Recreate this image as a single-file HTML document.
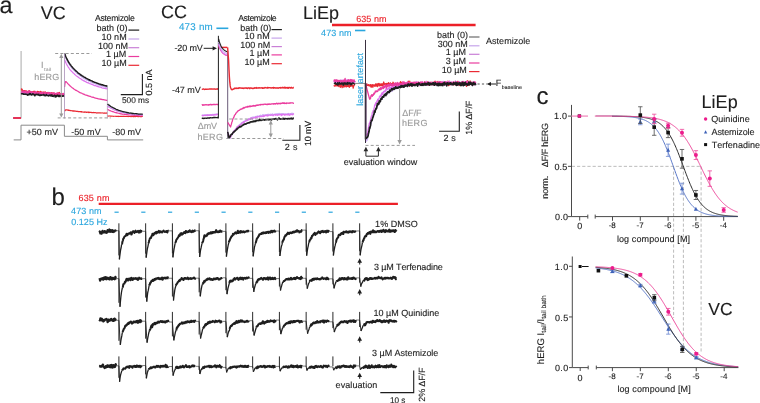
<!DOCTYPE html>
<html><head><meta charset="utf-8"><style>
html,body{margin:0;padding:0;background:#fff;width:760px;height:403px;overflow:hidden}
svg{display:block;will-change:transform}
text{font-family:"Liberation Sans",sans-serif;text-rendering:geometricPrecision;font-kerning:none;stroke-width:0.12px}
</style></head><body>
<svg width="760" height="403" viewBox="0 0 760 403" font-family="Liberation Sans, sans-serif">
<rect width="760" height="403" fill="#fff"/>
<text x="-0.45" y="13.3" font-size="23.4" fill="#1e1e1e" stroke="#1e1e1e">a</text>
<text x="40.72" y="18.75" font-size="18" fill="#1e1e1e" stroke="#1e1e1e">VC</text>
<text x="94.98" y="21.3" font-size="8.7" fill="#1e1e1e" stroke="#1e1e1e" letter-spacing="-0.3">Astemizole</text>
<text x="96.54" y="30.9" font-size="9" fill="#1e1e1e" stroke="#1e1e1e">bath (0)</text>
<line x1="128.4" y1="30.1" x2="139.2" y2="30.1" stroke="#1e1e1e" stroke-width="1.2"/>
<text x="101.62" y="39.8" font-size="9" fill="#1e1e1e" stroke="#1e1e1e">10 nM</text>
<line x1="128.4" y1="39" x2="139.2" y2="39" stroke="#c6a4ea" stroke-width="1.2"/>
<text x="97.92" y="48.5" font-size="9" fill="#1e1e1e" stroke="#1e1e1e">100 nM</text>
<line x1="128.4" y1="47.7" x2="139.2" y2="47.7" stroke="#c97fd6" stroke-width="1.2"/>
<text x="105.95" y="57.3" font-size="9" fill="#1e1e1e" stroke="#1e1e1e">1 µM</text>
<line x1="128.4" y1="56.5" x2="139.2" y2="56.5" stroke="#ea3c9e" stroke-width="1.2"/>
<text x="101.54" y="66.1" font-size="9" fill="#1e1e1e" stroke="#1e1e1e">10 µM</text>
<line x1="128.4" y1="65.3" x2="139.2" y2="65.3" stroke="#ea2a34" stroke-width="1.2"/>
<polyline points="13.7,139.9 21,139.9 21,125.2 64.4,125.2 64.4,136.3 107.4,136.3 107.4,139.9 143.2,139.9" fill="none" stroke="#8a8a8a" stroke-width="1" stroke-linejoin="miter"/>
<text x="26.56" y="134.6" font-size="9" fill="#1e1e1e" stroke="#1e1e1e" letter-spacing="0.02">+50 mV</text>
<text x="71.2" y="134.6" font-size="9" fill="#1e1e1e" stroke="#1e1e1e" letter-spacing="0.09">-50 mV</text>
<text x="112.2" y="134.6" font-size="9" fill="#1e1e1e" stroke="#1e1e1e" letter-spacing="-0.03">-80 mV</text>
<line x1="21.1" y1="51" x2="21.1" y2="118.4" stroke="#bdbdbd" stroke-width="1.3"/>
<line x1="13.2" y1="118" x2="21" y2="118" stroke="#1e1e1e" stroke-width="1.4"/>
<line x1="13.2" y1="118" x2="21" y2="118" stroke="#de74ee" stroke-width="1.4"/>
<line x1="13.2" y1="118" x2="21" y2="118" stroke="#ea3c9e" stroke-width="1.4"/>
<line x1="13.2" y1="118" x2="21" y2="118" stroke="#ea2a34" stroke-width="1.4"/>
<polyline points="21.3,93 21.8,93.16 22.3,92.94 22.8,92.69 23.3,92.92 23.8,92.7 24.3,93.21 24.8,93.81 25.3,93.02 25.8,92.99 26.3,93.52 26.8,93.49 27.3,93.41 27.8,92.97 28.3,93.41 28.8,93.77 29.3,92.88 29.8,93.31 30.3,92.69 30.8,92.99 31.3,92.78 31.8,93.53 32.3,93.09 32.8,93.82 33.3,93.8 33.8,93.67 34.3,92.65 34.8,93.57 35.3,93.82 35.8,93.93 36.3,93.22 36.8,93.72 37.3,93.53 37.8,93.63 38.3,94.51 38.8,93.69 39.3,94.07 39.8,94.52 40.3,93.89 40.8,94.13 41.3,94.26 41.8,94.27 42.3,93.72 42.8,94.33 43.3,94.94 43.8,93.66 44.3,94.78 44.8,94.47 45.3,94.16 45.8,95.38 46.3,94.85 46.8,94 47.3,94.61 47.8,94.86 48.3,94.55 48.8,94.97 49.3,94.66 49.8,95.02 50.3,95.4 50.8,94.48 51.3,94.91 51.8,94.64 52.3,94.93 52.8,94.37 53.3,94.67 53.8,94.88 54.3,95.4 54.8,95.54 55.3,94.46 55.8,94.73 56.3,95.41 56.8,94.25 57.3,94.97 57.8,95.16 58.3,95.8 58.8,95.58 59.3,95.15 59.8,95.16 60.3,95.25 60.8,96.07 61.3,95.23 61.8,95.31 62.3,95.64 62.8,95.45 63.3,95.45 63.8,95.07 64.3,95.59" fill="none" stroke="#cdb0f4" stroke-width="1.6" stroke-linejoin="round"/>
<polyline points="21.3,92.4 21.8,93.15 22.3,92.95 22.8,92.68 23.3,93.02 23.8,92.6 24.3,93.25 24.8,92.81 25.3,93.1 25.8,92.29 26.3,93.06 26.8,92.17 27.3,92.05 27.8,92.86 28.3,92.62 28.8,93.13 29.3,94.09 29.8,92.74 30.3,92.86 30.8,93.27 31.3,93.43 31.8,93.16 32.3,93.17 32.8,93.61 33.3,93.56 33.8,92.89 34.3,93.35 34.8,93.43 35.3,92.97 35.8,93.59 36.3,93.12 36.8,93.97 37.3,93.65 37.8,93.64 38.3,93.36 38.8,93.6 39.3,92.79 39.8,93.21 40.3,93.91 40.8,92.82 41.3,94.19 41.8,93.05 42.3,94.21 42.8,93.52 43.3,94.28 43.8,94.02 44.3,93.3 44.8,94.58 45.3,94.7 45.8,94.05 46.3,93.99 46.8,94.07 47.3,93.73 47.8,94.7 48.3,93.99 48.8,94.24 49.3,93.94 49.8,94.04 50.3,93.78 50.8,94.95 51.3,94.34 51.8,94.88 52.3,94.48 52.8,94.19 53.3,94.39 53.8,94.31 54.3,94.6 54.8,94.46 55.3,94.52 55.8,94.07 56.3,94.35 56.8,95.49 57.3,94.47 57.8,94.33 58.3,94.99 58.8,95.5 59.3,94.24 59.8,94.83 60.3,94.67 60.8,94.2 61.3,95.35 61.8,95.04 62.3,95.11 62.8,94.77 63.3,95.34 63.8,94.93 64.3,95.14" fill="none" stroke="#de74ee" stroke-width="1.6" stroke-linejoin="round"/>
<polyline points="21.3,88.5 21.8,89.3 22.3,90.99 22.8,90.5 23.3,91.11 23.8,91.01 24.3,90.87 24.8,90.88 25.3,91.44 25.8,91.06 26.3,91.17 26.8,91.3 27.3,91.86 27.8,91.68 28.3,91.59 28.8,91.21 29.3,90.89 29.8,91.98 30.3,92.03 30.8,91.58 31.3,91.93 31.8,92.08 32.3,92.15 32.8,92.23 33.3,91.66 33.8,92.59 34.3,91.39 34.8,92.38 35.3,92.26 35.8,92.47 36.3,92.97 36.8,92.84 37.3,91.7 37.8,91.5 38.3,92.67 38.8,91.89 39.3,92.39 39.8,92.81 40.3,91.74 40.8,91.57 41.3,92.68 41.8,92.63 42.3,92.55 42.8,92.72 43.3,92.36 43.8,92.11 44.3,92.76 44.8,92.44 45.3,92.18 45.8,93.19 46.3,92.98 46.8,93.24 47.3,92.65 47.8,92.85 48.3,92.74 48.8,92.83 49.3,93.36 49.8,92.97 50.3,93.52 50.8,93.56 51.3,94.36 51.8,92.87 52.3,93.94 52.8,93.54 53.3,93.62 53.8,93.02 54.3,93.51 54.8,94.09 55.3,93.77 55.8,93.89 56.3,93.76 56.8,94.46 57.3,93.97 57.8,93.04 58.3,93.76 58.8,93.23 59.3,92.69 59.8,93.96 60.3,94.85 60.8,94.31 61.3,93.81 61.8,93.96 62.3,94.93 62.8,94.54 63.3,94.53 63.8,94.53 64.3,94.62" fill="none" stroke="#ea2a34" stroke-width="1.6" stroke-linejoin="round"/>
<polyline points="21.3,91.96 21.8,91.88 22.3,91.76 22.8,91.22 23.3,91.95 23.8,91.44 24.3,92.27 24.8,91.24 25.3,91.78 25.8,91.87 26.3,91.31 26.8,92.71 27.3,92.62 27.8,91.78 28.3,92.37 28.8,92.22 29.3,90.91 29.8,92.23 30.3,92.12 30.8,92.21 31.3,91.72 31.8,92.11 32.3,92.18 32.8,92.83 33.3,92.48 33.8,92.35 34.3,93.07 34.8,92.17 35.3,92.27 35.8,91.66 36.3,93.21 36.8,92.97 37.3,92.98 37.8,92.9 38.3,92.68 38.8,92.76 39.3,92.57 39.8,92.63 40.3,92.77 40.8,93.46 41.3,93.06 41.8,92.81 42.3,92.61 42.8,92.61 43.3,93.65 43.8,93.19 44.3,93.02 44.8,92.87 45.3,92.55 45.8,93.05 46.3,93.5 46.8,92.97 47.3,93.07 47.8,93.1 48.3,93.28 48.8,92.55 49.3,93.19 49.8,92.94 50.3,93.75 50.8,93.04 51.3,93.67 51.8,94.13 52.3,93.33 52.8,93.23 53.3,93.62 53.8,93.56 54.3,93.15 54.8,93.83 55.3,94.56 55.8,93.57 56.3,93.62 56.8,93.28 57.3,93.92 57.8,93.25 58.3,93.34 58.8,94.44 59.3,93.49 59.8,94.41 60.3,94.64 60.8,94.11 61.3,94.27 61.8,94.93 62.3,93.99 62.8,93.84 63.3,93.53 63.8,94.19 64.3,94.87" fill="none" stroke="#ea3c9e" stroke-width="1.6" stroke-linejoin="round"/>
<polyline points="21.3,94.43 21.8,93.6 22.3,93.67 22.8,93.85 23.3,94.24 23.8,94.04 24.3,94.26 24.8,94.32 25.3,94.08 25.8,94.22 26.3,94.36 26.8,94.26 27.3,94.55 27.8,95.19 28.3,94.64 28.8,94.43 29.3,93.67 29.8,94.63 30.3,93.61 30.8,93.87 31.3,94.92 31.8,94.88 32.3,94.52 32.8,93.85 33.3,94.47 33.8,94.36 34.3,94.98 34.8,95.74 35.3,94.85 35.8,94.42 36.3,94.28 36.8,94.8 37.3,94.78 37.8,94.36 38.3,94.96 38.8,94.42 39.3,95.46 39.8,95.47 40.3,95.5 40.8,94.83 41.3,95.3 41.8,95.04 42.3,94.95 42.8,95 43.3,94.59 43.8,94.55 44.3,95.59 44.8,95.17 45.3,95.38 45.8,95.76 46.3,94.56 46.8,95.01 47.3,95.47 47.8,95.59 48.3,95.27 48.8,95.93 49.3,95.59 49.8,94.98 50.3,95.13 50.8,95.94 51.3,95.81 51.8,94.78 52.3,96.26 52.8,95.95 53.3,96.32 53.8,95.57 54.3,95.63 54.8,95.28 55.3,96.96 55.8,95.77 56.3,96.59 56.8,95.61 57.3,96 57.8,95.2 58.3,95.81 58.8,96.45 59.3,95.47 59.8,96.54 60.3,96.24 60.8,95.64 61.3,95.91 61.8,95.96 62.3,96.17 62.8,95.98 63.3,95.87 63.8,96.14 64.3,95.84" fill="none" stroke="#1e1e1e" stroke-width="1.6" stroke-linejoin="round"/>
<polyline points="64.6,111.35 65,110.55 65.4,110.21 65.8,109.74 66.2,109.87 66.6,109.81 67,109.82 67.4,110.11 67.8,110.03 68.2,110.35 68.6,110.15 69,110.37 69.4,110.37 69.8,110.38 70.2,110.61 70.6,110.59 71,110.74 71.4,110.73 71.8,110.67 72.2,110.84 72.6,110.92 73,111.08 73.4,110.91 73.8,111.07 74.2,110.92 74.6,111.25 75,111.09 75.4,111.05 75.8,111.31 76.2,111.49 76.6,111.22 77,111.32 77.4,111.4 77.8,111.39 78.2,111.62 78.6,111.51 79,111.56 79.4,111.76 79.8,111.63 80.2,111.81 80.6,111.68 81,111.68 81.4,111.64 81.8,112.12 82.2,111.89 82.6,111.99 83,111.99 83.4,112.04 83.8,112.06 84.2,112.31 84.6,111.99 85,111.96 85.4,112.05 85.8,112.04 86.2,112.32 86.6,112.35 87,112.17 87.4,112.14 87.8,112.29 88.2,112.53 88.6,112.05 89,112.47 89.4,112.3 89.8,112.58 90.2,112.35 90.6,112.47 91,112.35 91.4,112.43 91.8,112.74 92.2,112.69 92.6,112.57 93,112.53 93.4,112.43 93.8,112.63 94.2,112.69 94.6,112.7 95,112.72 95.4,112.62 95.8,112.76 96.2,112.79 96.6,112.96 97,113.05 97.4,112.83 97.8,112.77 98.2,112.87 98.6,112.82 99,112.82 99.4,112.92 99.8,112.82 100.2,113.03 100.6,112.96 101,113.02 101.4,112.98 101.8,112.93 102.2,112.92 102.6,113.02 103,112.99 103.4,113.1 103.8,113.09 104.2,112.94 104.6,113.12 105,112.97 105.4,113.07 105.8,113.12 106.2,112.92 106.6,113.19 107,113.21 107.4,113.18" fill="none" stroke="#ea2a34" stroke-width="1.2" stroke-linejoin="round"/>
<polyline points="64.6,86.95 65,83.31 65.4,81.86 65.8,81.61 66.2,81.73 66.6,82.16 67,82.45 67.4,83.09 67.8,83.55 68.2,83.97 68.6,84.38 69,84.92 69.4,85.06 69.8,85.71 70.2,86.06 70.6,86.43 71,86.8 71.4,87.01 71.8,87.39 72.2,87.81 72.6,88.1 73,88.37 73.4,88.45 73.8,88.98 74.2,89.33 74.6,89.58 75,89.75 75.4,89.79 75.8,90.34 76.2,90.45 76.6,90.4 77,90.98 77.4,90.98 77.8,91.23 78.2,91.52 78.6,91.96 79,91.97 79.4,92.25 79.8,92.63 80.2,92.81 80.6,92.8 81,92.97 81.4,93.03 81.8,93.28 82.2,93.59 82.6,93.76 83,93.9 83.4,94.17 83.8,94.13 84.2,94.38 84.6,94.63 85,94.77 85.4,94.98 85.8,95.05 86.2,95.12 86.6,95.35 87,95.33 87.4,95.39 87.8,95.8 88.2,95.86 88.6,96.04 89,95.93 89.4,96.22 89.8,96.32 90.2,96.41 90.6,96.37 91,96.72 91.4,96.99 91.8,97.05 92.2,97.05 92.6,97.23 93,97.44 93.4,97.13 93.8,97.55 94.2,97.74 94.6,97.86 95,98.09 95.4,98.12 95.8,98.12 96.2,98.22 96.6,98.38 97,98.31 97.4,98.47 97.8,98.67 98.2,98.89 98.6,98.73 99,98.83 99.4,98.95 99.8,99.17 100.2,99.09 100.6,99.35 101,99.14 101.4,99.32 101.8,99.39 102.2,99.59 102.6,99.7 103,99.47 103.4,99.61 103.8,99.83 104.2,99.79 104.6,99.75 105,100.13 105.4,100.13 105.8,100.2 106.2,100.15 106.6,100.4 107,100.31 107.4,100.53" fill="none" stroke="#ea3c9e" stroke-width="1.2" stroke-linejoin="round"/>
<polyline points="64.6,59.89 65,60.85 65.4,61.87 65.8,62.61 66.2,63.58 66.6,64.29 67,64.87 67.4,65.68 67.8,66.28 68.2,67.06 68.6,67.48 69,68.07 69.4,68.82 69.8,69.47 70.2,69.95 70.6,70.21 71,70.7 71.4,71.32 71.8,71.56 72.2,71.88 72.6,72.43 73,72.87 73.4,73.11 73.8,73.39 74.2,73.78 74.6,74.39 75,74.57 75.4,74.99 75.8,75.36 76.2,75.74 76.6,75.94 77,76.35 77.4,76.49 77.8,76.85 78.2,77.06 78.6,77.6 79,77.74 79.4,77.93 79.8,78.24 80.2,78.52 80.6,78.89 81,78.87 81.4,79.18 81.8,79.51 82.2,80.09 82.6,80.14 83,80.24 83.4,80.57 83.8,80.95 84.2,80.89 84.6,81.09 85,81.49 85.4,81.61 85.8,81.84 86.2,81.9 86.6,82.39 87,82.56 87.4,82.61 87.8,82.81 88.2,82.67 88.6,83.17 89,83.25 89.4,83.5 89.8,83.7 90.2,83.75 90.6,83.75 91,84.16 91.4,84.19 91.8,84.4 92.2,84.52 92.6,84.71 93,84.62 93.4,85.2 93.8,85.23 94.2,85.47 94.6,85.72 95,85.62 95.4,85.54 95.8,85.79 96.2,85.88 96.6,86.1 97,86.3 97.4,86.17 97.8,86.58 98.2,86.48 98.6,86.82 99,86.89 99.4,86.98 99.8,87.12 100.2,87.18 100.6,87.28 101,87.26 101.4,87.57 101.8,87.9 102.2,88.02 102.6,88.05 103,88.07 103.4,88.01 103.8,88.36 104.2,88.28 104.6,88.37 105,88.44 105.4,88.57 105.8,88.6 106.2,88.73 106.6,88.7 107,88.87 107.4,89.27" fill="none" stroke="#de74ee" stroke-width="1.2" stroke-linejoin="round"/>
<polyline points="64.6,54.99 65,56.04 65.4,57.14 65.8,58.12 66.2,58.8 66.6,59.76 67,60.71 67.4,61.41 67.8,62.13 68.2,63 68.6,63.41 69,64.14 69.4,64.69 69.8,65.53 70.2,65.68 70.6,66.39 71,66.94 71.4,67.59 71.8,68.08 72.2,68.66 72.6,68.77 73,69.5 73.4,69.81 73.8,70.19 74.2,70.75 74.6,70.98 75,71.23 75.4,71.82 75.8,72.06 76.2,72.53 76.6,73.01 77,73.35 77.4,73.84 77.8,73.96 78.2,74.13 78.6,74.54 79,74.84 79.4,75.11 79.8,75.61 80.2,75.77 80.6,75.9 81,76.51 81.4,76.69 81.8,77.02 82.2,77.26 82.6,77.59 83,77.77 83.4,78.17 83.8,78.32 84.2,78.57 84.6,78.81 85,78.82 85.4,79.21 85.8,79.43 86.2,79.71 86.6,79.74 87,80.32 87.4,80.35 87.8,80.4 88.2,80.55 88.6,80.93 89,81.15 89.4,81.27 89.8,81.56 90.2,81.66 90.6,82 91,82.03 91.4,82.29 91.8,82.59 92.2,82.96 92.6,82.7 93,82.94 93.4,83.06 93.8,83.42 94.2,83.35 94.6,83.59 95,83.8 95.4,83.84 95.8,83.99 96.2,84.2 96.6,84.15 97,84.38 97.4,84.64 97.8,84.85 98.2,84.95 98.6,84.89 99,85.18 99.4,85.47 99.8,85.57 100.2,85.62 100.6,85.65 101,85.95 101.4,85.93 101.8,85.98 102.2,86.14 102.6,86.52 103,86.49 103.4,86.71 103.8,86.63 104.2,86.91 104.6,86.83 105,86.99 105.4,87.41 105.8,87.3 106.2,87.25 106.6,87.4 107,87.54 107.4,87.75" fill="none" stroke="#cdb0f4" stroke-width="1.2" stroke-linejoin="round"/>
<polyline points="64.6,53.44 65,54.36 65.4,55.55 65.8,56.54 66.2,57.46 66.6,58.46 67,59.16 67.4,59.99 67.8,60.5 68.2,61.44 68.6,62.27 69,62.75 69.4,63.31 69.8,63.9 70.2,64.67 70.6,64.89 71,65.52 71.4,66.11 71.8,66.64 72.2,66.98 72.6,67.54 73,67.92 73.4,68.41 73.8,68.8 74.2,69.1 74.6,69.64 75,70.14 75.4,70.3 75.8,70.77 76.2,71.24 76.6,71.39 77,71.89 77.4,72.08 77.8,72.68 78.2,73.15 78.6,73.44 79,73.48 79.4,73.91 79.8,74.13 80.2,74.43 80.6,74.89 81,74.83 81.4,75.4 81.8,75.54 82.2,75.98 82.6,76.1 83,76.26 83.4,76.63 83.8,76.93 84.2,77.1 84.6,77.39 85,77.51 85.4,77.55 85.8,78.14 86.2,78.34 86.6,78.5 87,78.71 87.4,79.04 87.8,79.07 88.2,79.25 88.6,79.52 89,79.88 89.4,79.77 89.8,80.28 90.2,80.25 90.6,80.38 91,80.85 91.4,80.87 91.8,80.9 92.2,81.19 92.6,81.52 93,81.72 93.4,81.69 93.8,81.96 94.2,82.16 94.6,82.16 95,82.43 95.4,82.54 95.8,82.63 96.2,82.79 96.6,83 97,83.14 97.4,83.22 97.8,83.37 98.2,83.7 98.6,83.72 99,83.94 99.4,84.11 99.8,84.16 100.2,84.49 100.6,84.25 101,84.57 101.4,84.55 101.8,84.93 102.2,85.03 102.6,84.71 103,84.94 103.4,85.25 103.8,85.38 104.2,85.48 104.6,85.49 105,85.66 105.4,85.78 105.8,85.8 106.2,86.03 106.6,85.74 107,86.18 107.4,86.08" fill="none" stroke="#1e1e1e" stroke-width="1.5" stroke-linejoin="round"/>
<line x1="64.5" y1="53.5" x2="64.5" y2="118.5" stroke="#a98fb8" stroke-width="0.8"/>
<line x1="107.4" y1="86.6" x2="107.4" y2="118.5" stroke="#b0a0b8" stroke-width="0.8"/>
<polyline points="107.6,116.1 108,116 108.4,115.95 108.8,116.09 109.2,115.98 109.6,115.99 110,115.94 110.4,116.11 110.8,116.18 111.2,116.25 111.6,116.14 112,116.28 112.4,116.19 112.8,116.19 113.2,116.27 113.6,116.33 114,116.2 114.4,116.22 114.8,116.24 115.2,116.27 115.6,116.19 116,116.39 116.4,116.26 116.8,116.35 117.2,116.23 117.6,116.36 118,116.37 118.4,116.3 118.8,116.55 119.2,116.39 119.6,116.54 120,116.46 120.4,116.31 120.8,116.34 121.2,116.43 121.6,116.4 122,116.41 122.4,116.38 122.8,116.23 123.2,116.4 123.6,116.2 124,116.47 124.4,116.36 124.8,116.37 125.2,116.42 125.6,116.48 126,116.31 126.4,116.28 126.8,116.36 127.2,116.26 127.6,116.37 128,116.63 128.4,116.37 128.8,116.55 129.2,116.35 129.6,116.52 130,116.46 130.4,116.49 130.8,116.56 131.2,116.68 131.6,116.52 132,116.52 132.4,116.41 132.8,116.57 133.2,116.49 133.6,116.6 134,116.52 134.4,116.7 134.8,116.33 135.2,116.5 135.6,116.62 136,116.5 136.4,116.46 136.8,116.51 137.2,116.4 137.6,116.55 138,116.79 138.4,116.66 138.8,116.43 139.2,116.46 139.6,116.51 140,116.65 140.4,116.47 140.8,116.48 141.2,116.64 141.6,116.64 142,116.52 142.4,116.45 142.8,116.41" fill="none" stroke="#ea2a34" stroke-width="1.15" stroke-linejoin="round"/>
<polyline points="107.6,109.43 108,109.48 108.4,109.97 108.8,110.03 109.2,110.32 109.6,110.64 110,110.75 110.4,110.68 110.8,111.05 111.2,111.24 111.6,111.2 112,111.33 112.4,111.56 112.8,111.55 113.2,111.99 113.6,111.74 114,111.99 114.4,112.2 114.8,112.33 115.2,112.48 115.6,112.61 116,112.67 116.4,112.91 116.8,112.68 117.2,113 117.6,113.02 118,113.2 118.4,113.3 118.8,113.28 119.2,113.39 119.6,113.62 120,113.65 120.4,113.63 120.8,113.98 121.2,114.08 121.6,113.77 122,114.02 122.4,114.3 122.8,114.2 123.2,114.2 123.6,114.22 124,114.25 124.4,114.34 124.8,114.36 125.2,114.54 125.6,114.48 126,114.53 126.4,114.5 126.8,114.67 127.2,114.63 127.6,114.74 128,114.91 128.4,114.88 128.8,114.94 129.2,114.96 129.6,114.97 130,114.99 130.4,115.01 130.8,115.15 131.2,115 131.6,115.28 132,115.18 132.4,115.13 132.8,115.19 133.2,115.2 133.6,115.31 134,115.25 134.4,115.46 134.8,115.3 135.2,115.17 135.6,115.35 136,115.25 136.4,115.46 136.8,115.6 137.2,115.58 137.6,115.4 138,115.48 138.4,115.75 138.8,115.62 139.2,115.61 139.6,115.73 140,115.89 140.4,115.79 140.8,115.69 141.2,115.73 141.6,115.77 142,115.66 142.4,115.63 142.8,115.76" fill="none" stroke="#ea3c9e" stroke-width="1.15" stroke-linejoin="round"/>
<polyline points="107.6,105.91 108,106.28 108.4,106.58 108.8,107.08 109.2,107.03 109.6,107.36 110,107.6 110.4,107.9 110.8,108.2 111.2,108.27 111.6,108.46 112,108.59 112.4,108.87 112.8,109.22 113.2,109.36 113.6,109.45 114,109.7 114.4,109.91 114.8,110.13 115.2,110.19 115.6,110.39 116,110.39 116.4,110.61 116.8,111.03 117.2,110.79 117.6,111.12 118,111.31 118.4,111.38 118.8,111.46 119.2,111.66 119.6,111.79 120,111.89 120.4,111.83 120.8,112.11 121.2,112.14 121.6,112.28 122,112.45 122.4,112.59 122.8,112.71 123.2,112.66 123.6,112.89 124,113 124.4,113.08 124.8,113.18 125.2,113.11 125.6,113.18 126,113.35 126.4,113.2 126.8,113.43 127.2,113.42 127.6,113.5 128,113.43 128.4,113.57 128.8,113.72 129.2,113.87 129.6,113.93 130,113.88 130.4,113.92 130.8,113.91 131.2,114.08 131.6,114.06 132,114.19 132.4,114.35 132.8,114.22 133.2,114.11 133.6,114.21 134,114.19 134.4,114.26 134.8,114.55 135.2,114.47 135.6,114.33 136,114.59 136.4,114.68 136.8,114.55 137.2,114.55 137.6,114.61 138,114.7 138.4,114.77 138.8,114.85 139.2,114.88 139.6,114.9 140,114.94 140.4,114.9 140.8,114.7 141.2,114.86 141.6,114.93 142,114.88 142.4,115.03 142.8,114.92" fill="none" stroke="#de74ee" stroke-width="1.15" stroke-linejoin="round"/>
<polyline points="107.6,104.91 108,105.46 108.4,105.68 108.8,105.93 109.2,106.29 109.6,106.57 110,106.77 110.4,106.75 110.8,107.18 111.2,107.45 111.6,107.63 112,107.98 112.4,108.3 112.8,108.35 113.2,108.49 113.6,109.01 114,108.96 114.4,109.07 114.8,109.4 115.2,109.6 115.6,109.66 116,109.98 116.4,110.02 116.8,110.13 117.2,110.4 117.6,110.6 118,110.61 118.4,110.85 118.8,110.94 119.2,111.36 119.6,111.14 120,111.47 120.4,111.45 120.8,111.56 121.2,111.75 121.6,111.88 122,112.02 122.4,112.03 122.8,112.04 123.2,112.14 123.6,112.34 124,112.44 124.4,112.61 124.8,112.6 125.2,112.75 125.6,112.87 126,112.82 126.4,112.73 126.8,112.83 127.2,112.88 127.6,113.25 128,113.07 128.4,113.34 128.8,113.34 129.2,113.52 129.6,113.5 130,113.45 130.4,113.5 130.8,113.58 131.2,113.64 131.6,113.62 132,113.72 132.4,113.93 132.8,113.65 133.2,113.89 133.6,113.82 134,113.97 134.4,114.07 134.8,114.02 135.2,114.14 135.6,113.95 136,114.25 136.4,114.12 136.8,114.27 137.2,114.26 137.6,114.02 138,114.23 138.4,114.36 138.8,114.52 139.2,114.42 139.6,114.45 140,114.31 140.4,114.62 140.8,114.68 141.2,114.53 141.6,114.52 142,114.41 142.4,114.68 142.8,114.88" fill="none" stroke="#cdb0f4" stroke-width="1.15" stroke-linejoin="round"/>
<polyline points="107.6,104.07 108,104.46 108.4,104.71 108.8,104.87 109.2,105.41 109.6,105.45 110,105.83 110.4,106.16 110.8,106.49 111.2,106.7 111.6,106.95 112,107.08 112.4,107.27 112.8,107.63 113.2,107.78 113.6,107.94 114,108.15 114.4,108.43 114.8,108.49 115.2,108.73 115.6,108.89 116,109.25 116.4,109.45 116.8,109.78 117.2,109.59 117.6,109.83 118,110.15 118.4,110.19 118.8,110.32 119.2,110.66 119.6,110.6 120,110.65 120.4,110.76 120.8,111.05 121.2,111.17 121.6,111.12 122,111.27 122.4,111.53 122.8,111.64 123.2,111.62 123.6,111.85 124,111.94 124.4,111.8 124.8,112.04 125.2,112.2 125.6,112.19 126,112.11 126.4,112.38 126.8,112.56 127.2,112.72 127.6,112.42 128,112.97 128.4,112.67 128.8,112.94 129.2,113.04 129.6,113.07 130,113.05 130.4,112.98 130.8,113.22 131.2,113.14 131.6,113.01 132,113.6 132.4,113.44 132.8,113.6 133.2,113.37 133.6,113.66 134,113.72 134.4,113.76 134.8,113.64 135.2,113.56 135.6,113.71 136,113.54 136.4,113.63 136.8,113.85 137.2,113.77 137.6,113.89 138,113.93 138.4,114.16 138.8,114.13 139.2,114.03 139.6,114.18 140,114.01 140.4,114.08 140.8,114.24 141.2,114.05 141.6,114.17 142,114.09 142.4,114.26 142.8,114.43" fill="none" stroke="#1e1e1e" stroke-width="1.25" stroke-linejoin="round"/>
<line x1="55.2" y1="53.5" x2="91.9" y2="53.5" stroke="#9a9a9a" stroke-width="1" stroke-dasharray="3,2.2"/>
<line x1="57.7" y1="117.9" x2="110.7" y2="117.9" stroke="#9a9a9a" stroke-width="1" stroke-dasharray="3,2.2"/>
<line x1="61.3" y1="56.5" x2="61.3" y2="115" stroke="#9a9a9a" stroke-width="1"/>
<polygon points="61.3,53.8 59.2,58 63.4,58" fill="#9a9a9a"/>
<polygon points="61.3,117.6 59.2,113.4 63.4,113.4" fill="#9a9a9a"/>
<text x="41.07" y="68.4" font-size="9" fill="#9a9a9a" stroke="#9a9a9a">I</text>
<text x="44.23" y="71.2" font-size="4.5" fill="#9a9a9a" stroke="#9a9a9a" letter-spacing="0.41">tail</text>
<text x="34.18" y="79.6" font-size="9" fill="#9a9a9a" stroke="#9a9a9a" letter-spacing="0.2">hERG</text>
<polyline points="120.8,94.6 142.4,94.6 142.4,73.9" fill="none" stroke="#1e1e1e" stroke-width="1.1" stroke-linejoin="miter"/>
<text x="121.97" y="103.4" font-size="8.3" fill="#1e1e1e" stroke="#1e1e1e">500 ms</text>
<text transform="translate(152.3 95.45) rotate(-90)" font-size="9" fill="#1e1e1e" stroke="#1e1e1e" letter-spacing="-0.01">0.5 nA</text>
<text x="161.09" y="18.3" font-size="18" fill="#1e1e1e" stroke="#1e1e1e">CC</text>
<text x="178.88" y="30" font-size="9.8" fill="#2aa6de" stroke="#2aa6de" letter-spacing="0.24">473 nm</text>
<line x1="216.4" y1="28.3" x2="228.3" y2="28.3" stroke="#2aa6de" stroke-width="1.6"/>
<text x="238.28" y="20.7" font-size="8.7" fill="#1e1e1e" stroke="#1e1e1e" letter-spacing="-0.45">Astemizole</text>
<text x="240.24" y="30.5" font-size="9" fill="#1e1e1e" stroke="#1e1e1e">bath (0)</text>
<line x1="271.5" y1="29.6" x2="281.9" y2="29.6" stroke="#1e1e1e" stroke-width="1.2"/>
<text x="244.62" y="39" font-size="9" fill="#1e1e1e" stroke="#1e1e1e">10 nM</text>
<line x1="271.5" y1="38.1" x2="281.9" y2="38.1" stroke="#c6a4ea" stroke-width="1.2"/>
<text x="240.22" y="47.5" font-size="9" fill="#1e1e1e" stroke="#1e1e1e">100 nM</text>
<line x1="271.5" y1="46.6" x2="281.9" y2="46.6" stroke="#c97fd6" stroke-width="1.2"/>
<text x="249.45" y="55.8" font-size="9" fill="#1e1e1e" stroke="#1e1e1e">1 µM</text>
<line x1="271.5" y1="54.9" x2="281.9" y2="54.9" stroke="#ea3c9e" stroke-width="1.2"/>
<text x="244.44" y="64.6" font-size="9" fill="#1e1e1e" stroke="#1e1e1e">10 µM</text>
<line x1="271.5" y1="63.7" x2="281.9" y2="63.7" stroke="#ea2a34" stroke-width="1.2"/>
<text x="174.5" y="51.2" font-size="9" fill="#1e1e1e" stroke="#1e1e1e" letter-spacing="-0.15">-20 mV</text>
<line x1="203.7" y1="48.3" x2="213.5" y2="48.3" stroke="#1e1e1e" stroke-width="1"/>
<polygon points="217,48.3 212.6,46.2 212.6,50.4" fill="#1e1e1e"/>
<text x="171.9" y="92.6" font-size="9" fill="#1e1e1e" stroke="#1e1e1e" letter-spacing="-0.01">-47 mV</text>
<polyline points="201.8,89.11 202.3,89.22 202.8,89.08 203.3,89.04 203.8,89.03 204.3,89.34 204.8,89.45 205.3,89.22 205.8,89.07 206.3,89.23 206.8,89.1 207.3,89.23 207.8,89.16 208.3,89.15 208.8,89.19 209.3,89.04 209.8,89.05 210.3,88.89 210.8,89.04 211.3,88.91 211.8,89.06 212.3,88.96 212.8,89.08 213.3,89.11 213.8,88.88 214.3,88.95 214.8,88.93 215.3,89.13 215.8,89.24 216.3,89.13 216.8,88.98 217.3,89.19 217.8,88.82 218.3,89.18" fill="none" stroke="#ea2a34" stroke-width="1.4" stroke-linejoin="round"/>
<polyline points="201.8,104.92 202.3,104.65 202.8,105.28 203.3,105.13 203.8,104.8 204.3,104.93 204.8,104.87 205.3,104.88 205.8,104.68 206.3,104.75 206.8,104.87 207.3,104.83 207.8,104.93 208.3,104.77 208.8,105.03 209.3,104.64 209.8,104.74 210.3,104.46 210.8,104.52 211.3,104.81 211.8,104.52 212.3,104.68 212.8,104.59 213.3,104.46 213.8,104.52 214.3,104.48 214.8,104.47 215.3,104.6 215.8,104.57 216.3,104.4 216.8,104.35 217.3,104.47 217.8,104.41 218.3,104.52" fill="none" stroke="#ea3c9e" stroke-width="1.4" stroke-linejoin="round"/>
<polyline points="201.8,115.52 202.3,115.27 202.8,115.14 203.3,115.09 203.8,114.98 204.3,114.94 204.8,114.9 205.3,114.94 205.8,114.91 206.3,115.02 206.8,114.85 207.3,114.84 207.8,114.69 208.3,115 208.8,114.84 209.3,114.96 209.8,114.81 210.3,114.86 210.8,114.62 211.3,114.71 211.8,114.92 212.3,114.42 212.8,114.67 213.3,114.71 213.8,114.52 214.3,114.53 214.8,114.57 215.3,114.3 215.8,114.4 216.3,114.21 216.8,114.21 217.3,114.18 217.8,114.21 218.3,114.22" fill="none" stroke="#cdb0f4" stroke-width="1.4" stroke-linejoin="round"/>
<polyline points="201.8,115.66 202.3,115.4 202.8,115.78 203.3,115.65 203.8,115.57 204.3,115.4 204.8,115.41 205.3,115.46 205.8,115.41 206.3,115.12 206.8,115.39 207.3,115.63 207.8,115.01 208.3,115.33 208.8,115.22 209.3,115.13 209.8,115.28 210.3,114.94 210.8,115.07 211.3,115.2 211.8,114.97 212.3,114.91 212.8,114.95 213.3,114.85 213.8,115.06 214.3,114.73 214.8,114.92 215.3,114.63 215.8,114.83 216.3,114.71 216.8,114.37 217.3,114.66 217.8,114.5 218.3,114.55" fill="none" stroke="#de74ee" stroke-width="1.4" stroke-linejoin="round"/>
<polyline points="201.8,118.59 202.3,118.23 202.8,118.21 203.3,118.49 203.8,118.29 204.3,118.44 204.8,118.26 205.3,118.08 205.8,118.15 206.3,118.28 206.8,118.21 207.3,118.07 207.8,118.04 208.3,117.99 208.8,117.9 209.3,118.18 209.8,117.92 210.3,117.75 210.8,117.8 211.3,117.91 211.8,117.87 212.3,117.75 212.8,117.65 213.3,117.71 213.8,117.47 214.3,117.48 214.8,117.71 215.3,117.52 215.8,117.6 216.3,117.67 216.8,117.57 217.3,117.46 217.8,117.69 218.3,117.48" fill="none" stroke="#1e1e1e" stroke-width="1.4" stroke-linejoin="round"/>
<line x1="218.4" y1="35.8" x2="218.4" y2="118.4" stroke="#1e1e1e" stroke-width="1"/>
<polyline points="218.6,47.4 218.9,47.4 219.2,47.4 219.5,47.4 219.8,47.4 220.1,47.4 220.4,47.4 220.7,47.4 221,47.4 221.3,47.4 221.6,47.4 221.9,47.4 222.2,47.4 222.5,47.4 222.8,47.4 223.1,47.4 223.4,47.4 223.7,47.4 224,47.4 224.3,47.4 224.6,47.4 224.9,47.4 225.2,47.4 225.5,47.4 225.8,47.4 226.1,47.4 226.4,47.4 226.7,47.4 227,47.4 227.3,47.4" fill="none" stroke="#ea2a34" stroke-width="1.5" stroke-linejoin="round"/>
<polyline points="218.6,44.97 218.9,45.92 219.2,46.79 219.5,47.6 219.8,48.33 220.1,49.01 220.4,49.63 220.7,50.2 221,50.72 221.3,51.2 221.6,51.64 221.9,52.05 222.2,52.42 222.5,52.76 222.8,53.07 223.1,53.36 223.4,53.62 223.7,53.86 224,54.09 224.3,54.29 224.6,54.48 224.9,54.65 225.2,54.81 225.5,54.95 225.8,55.08 226.1,55.2 226.4,55.32 226.7,55.42 227,55.51 227.3,55.6" fill="none" stroke="#ea3c9e" stroke-width="1.2" stroke-linejoin="round"/>
<polyline points="218.6,44.02 218.9,45.02 219.2,45.94 219.5,46.78 219.8,47.56 220.1,48.27 220.4,48.92 220.7,49.52 221,50.07 221.3,50.58 221.6,51.04 221.9,51.46 222.2,51.85 222.5,52.21 222.8,52.54 223.1,52.84 223.4,53.12 223.7,53.37 224,53.61 224.3,53.82 224.6,54.02 224.9,54.2 225.2,54.36 225.5,54.52 225.8,54.66 226.1,54.78 226.4,54.9 226.7,55.01 227,55.11 227.3,55.2" fill="none" stroke="#de74ee" stroke-width="1.2" stroke-linejoin="round"/>
<polyline points="218.6,42.04 218.9,43.07 219.2,44.01 219.5,44.88 219.8,45.67 220.1,46.4 220.4,47.07 220.7,47.68 221,48.24 221.3,48.76 221.6,49.24 221.9,49.67 222.2,50.07 222.5,50.44 222.8,50.78 223.1,51.09 223.4,51.37 223.7,51.63 224,51.87 224.3,52.09 224.6,52.29 224.9,52.47 225.2,52.64 225.5,52.8 225.8,52.94 226.1,53.07 226.4,53.19 226.7,53.31 227,53.41 227.3,53.5" fill="none" stroke="#cdb0f4" stroke-width="1.2" stroke-linejoin="round"/>
<polyline points="218.6,38.96 218.9,40.1 219.2,41.15 219.5,42.11 219.8,42.99 220.1,43.8 220.4,44.55 220.7,45.23 221,45.86 221.3,46.43 221.6,46.96 221.9,47.44 222.2,47.89 222.5,48.3 222.8,48.67 223.1,49.01 223.4,49.33 223.7,49.62 224,49.89 224.3,50.13 224.6,50.35 224.9,50.56 225.2,50.75 225.5,50.92 225.8,51.08 226.1,51.23 226.4,51.36 226.7,51.48 227,51.6 227.3,51.7" fill="none" stroke="#1e1e1e" stroke-width="1.2" stroke-linejoin="round"/>
<line x1="227.7" y1="51" x2="227.7" y2="138.5" stroke="#5a4a6a" stroke-width="0.9"/>
<polyline points="227.6,47.4 228.6,60.5 229,69.49 229.4,77 229.8,82.19 230.2,85.9 230.6,87.81 231,88.42 231.4,89.45 231.8,89.71 232.2,89.73 232.6,89.31 233,89.41 233.4,89.19 233.8,88.93 234.2,88.36 234.6,88.64 235,88.04 235.4,88.23 235.8,88.59 236.2,88.06 236.6,88.09 237,88.49 237.4,88.12 237.8,88.13 238.2,88.26 238.6,88.47 239,87.63 239.4,87.98 239.8,87.93 240.2,87.91 240.6,87.97 241,87.97 241.4,88.26 241.8,87.95 242.2,88.2 242.6,88.27 243,87.98 243.4,88.19 243.8,88.58 244.2,88.24 244.6,87.99 245,88.13 245.4,87.91 245.8,88.21 246.2,88.36 246.6,87.92 247,88.07 247.4,88.41 247.8,87.99 248.2,88.16 248.6,87.85 249,87.9 249.4,87.97 249.8,88.65 250.2,88 250.6,87.96 251,87.95 251.4,88.05 251.8,88.25 252.2,88.13 252.6,88.59 253,88.13 253.4,88.43 253.8,88.13 254.2,88.21 254.6,87.7 255,88.02 255.4,88.03 255.8,87.99 256.2,87.51 256.6,88.26 257,87.94 257.4,87.92 257.8,87.97 258.2,87.97 258.6,88.12 259,87.7 259.4,87.78 259.8,88.08 260.2,88.04 260.6,87.91 261,87.86 261.4,87.79 261.8,87.98 262.2,88.28 262.6,87.72 263,88.36 263.4,88.19 263.8,87.86 264.2,88.17 264.6,87.6 265,87.53 265.4,87.64 265.8,87.85 266.2,87.87 266.6,87.82 267,87.97 267.4,87.41 267.8,88.06 268.2,87.58 268.6,87.77 269,87.82 269.4,87.63 269.8,87.58 270.2,87.66 270.6,87.91 271,88.06 271.4,88.05 271.8,87.65 272.2,87.7 272.6,87.66 273,88 273.4,87.38 273.8,88.19 274.2,87.76 274.6,87.68 275,87.96 275.4,88.13 275.8,87.95 276.2,88.13 276.6,87.89 277,88.16 277.4,88.16 277.8,87.82 278.2,88.2 278.6,87.88 279,87.86 279.4,87.6 279.8,87.76 280.2,88.02 280.6,87.49 281,87.98 281.4,87.9 281.8,87.88 282.2,87.26 282.6,87.78 283,87.96 283.4,87.61 283.8,87.82 284.2,87.19 284.6,87.95 285,87.62 285.4,88 285.8,87.31 286.2,87.94 286.6,87.71 287,87.97 287.4,87.53 287.8,87.6 288.2,88.31 288.6,87.54 289,87.57 289.4,87.67 289.8,87.48 290.2,88.03 290.6,88.16 291,87.55 291.4,87.29 291.8,88.01 292.2,87.99 292.6,87.92 293,88 293.4,87.49 293.8,87.66" fill="none" stroke="#ea2a34" stroke-width="1.4" stroke-linejoin="round"/>
<polyline points="227.7,122.3 230.6,126.98 231,125.17 231.4,124.15 231.8,122.26 232.2,121.67 232.6,119.92 233,118.65 233.4,118.02 233.8,117.37 234.2,116.22 234.6,115.05 235,114.77 235.4,114.4 235.8,113.37 236.2,112.78 236.6,112.75 237,112.09 237.4,111.38 237.8,111.19 238.2,110.75 238.6,110.7 239,110.36 239.4,110.34 239.8,109.98 240.2,109.17 240.6,109.44 241,109.36 241.4,109.05 241.8,109.01 242.2,108.44 242.6,108.17 243,108.49 243.4,107.84 243.8,107.42 244.2,108.08 244.6,107.52 245,107.5 245.4,107.11 245.8,107.01 246.2,106.95 246.6,107.04 247,107.12 247.4,106.36 247.8,107.03 248.2,106.45 248.6,106.39 249,106.74 249.4,106.47 249.8,106.02 250.2,106.79 250.6,106.04 251,106.24 251.4,106.16 251.8,106.39 252.2,105.85 252.6,106.15 253,105.65 253.4,106.05 253.8,105.51 254.2,105.55 254.6,106.06 255,105.6 255.4,105.49 255.8,105.97 256.2,105.44 256.6,105.09 257,105.43 257.4,104.9 257.8,105.42 258.2,105.39 258.6,104.9 259,104.84 259.4,104.99 259.8,104.9 260.2,104.61 260.6,104.95 261,104.26 261.4,104.62 261.8,104.58 262.2,104.57 262.6,104.68 263,104.25 263.4,104.67 263.8,104.44 264.2,104.28 264.6,104.07 265,104.08 265.4,104.43 265.8,104.06 266.2,104.28 266.6,104.5 267,104.46 267.4,104.56 267.8,104.06 268.2,103.83 268.6,104.33 269,104.12 269.4,104.3 269.8,103.99 270.2,104.26 270.6,104.14 271,104.08 271.4,104 271.8,103.95 272.2,103.88 272.6,103.85 273,104.02 273.4,103.62 273.8,104.16 274.2,103.67 274.6,103.92 275,103.63 275.4,103.57 275.8,104.11 276.2,103.51 276.6,103.24 277,103.36 277.4,103.44 277.8,104.04 278.2,103.53 278.6,103.7 279,103.19 279.4,103.51 279.8,103.57 280.2,103.84 280.6,103.2 281,103.5 281.4,103.41 281.8,103.06 282.2,103.3 282.6,103.22 283,102.69 283.4,103.4 283.8,103.37 284.2,103.11 284.6,102.87 285,103.56 285.4,103.25 285.8,103.42 286.2,103.5 286.6,103.01 287,103.33 287.4,103.05 287.8,103.08 288.2,103.07 288.6,103.07 289,103.34 289.4,103.08 289.8,103 290.2,102.96 290.6,103.1 291,102.78 291.4,102.87 291.8,102.97 292.2,102.83 292.6,102.93 293,102.8 293.4,103.44 293.8,103.26" fill="none" stroke="#ea3c9e" stroke-width="1.3" stroke-linejoin="round"/>
<polyline points="227.7,132.6 229.8,138.34 230.2,137.41 230.6,137.34 231,136.05 231.4,135.22 231.8,134.66 232.2,134 232.6,133.69 233,132.64 233.4,132.68 233.8,131.2 234.2,131.11 234.6,130.06 235,130.38 235.4,129.22 235.8,128.81 236.2,128.62 236.6,128.26 237,127.1 237.4,126.89 237.8,126.15 238.2,126.21 238.6,125.74 239,125.28 239.4,124.81 239.8,124.54 240.2,124.08 240.6,124.13 241,124.1 241.4,122.75 241.8,122.99 242.2,122.6 242.6,122.58 243,121.87 243.4,121.84 243.8,121.32 244.2,121.58 244.6,121.16 245,120.84 245.4,120.77 245.8,120.37 246.2,119.76 246.6,120.2 247,119.9 247.4,119.57 247.8,119.72 248.2,119.61 248.6,118.74 249,118.66 249.4,119.19 249.8,118.99 250.2,118.19 250.6,117.91 251,117.92 251.4,117.82 251.8,117.36 252.2,117.71 252.6,117.19 253,117.08 253.4,117.6 253.8,117 254.2,117.07 254.6,117.17 255,117.12 255.4,116.67 255.8,116.69 256.2,116.33 256.6,117.01 257,116.59 257.4,115.97 257.8,116.22 258.2,116.35 258.6,116.2 259,116.53 259.4,116.32 259.8,115.67 260.2,115.73 260.6,115.31 261,115.7 261.4,115.61 261.8,116.31 262.2,115.47 262.6,114.76 263,115.13 263.4,115.31 263.8,114.84 264.2,114.91 264.6,115.01 265,115.17 265.4,114.98 265.8,114.71 266.2,115.17 266.6,114.73 267,114.7 267.4,114.4 267.8,114.54 268.2,114.94 268.6,114.22 269,114.65 269.4,114.85 269.8,114.49 270.2,114.64 270.6,114.21 271,114.9 271.4,114.81 271.8,114.53 272.2,113.9 272.6,114.09 273,114.67 273.4,114.87 273.8,114.42 274.2,114.68 274.6,114.1 275,114.2 275.4,114.24 275.8,114.35 276.2,113.74 276.6,114.46 277,114.56 277.4,113.8 277.8,113.72 278.2,114.22 278.6,113.9 279,113.37 279.4,114.31 279.8,114.1 280.2,113.89 280.6,114.66 281,114.05 281.4,113.77 281.8,114.01 282.2,113.66 282.6,113.73 283,114.06 283.4,113.77 283.8,113.79 284.2,114.42 284.6,114.16 285,114.14 285.4,114.05 285.8,114.02 286.2,114.31 286.6,113.86 287,114.41 287.4,113.56 287.8,113.76 288.2,113.42 288.6,113.72 289,113.97 289.4,114.24 289.8,113.6 290.2,113.8 290.6,113.68 291,113.56 291.4,113.42 291.8,113.79 292.2,113.25 292.6,113.8 293,113.76 293.4,113.55 293.8,113.44" fill="none" stroke="#cdb0f4" stroke-width="1.3" stroke-linejoin="round"/>
<polyline points="227.7,132.4 229.8,137.6 230.2,137.84 230.6,136.15 231,136.32 231.4,135.36 231.8,134.42 232.2,133.55 232.6,133.59 233,133.2 233.4,131.83 233.8,131.46 234.2,131.33 234.6,130.59 235,130.58 235.4,129.32 235.8,129.18 236.2,128.18 236.6,128.74 237,127.46 237.4,126.6 237.8,126.82 238.2,126.42 238.6,126.66 239,125.61 239.4,125.35 239.8,125.19 240.2,125.15 240.6,124.34 241,124.35 241.4,123.89 241.8,123.35 242.2,123.18 242.6,122.89 243,122.34 243.4,122.72 243.8,121.69 244.2,122.22 244.6,121.91 245,121.37 245.4,120.95 245.8,120.9 246.2,120.9 246.6,120.78 247,120.45 247.4,120.48 247.8,119.83 248.2,119.89 248.6,119.18 249,119.71 249.4,119.37 249.8,119.04 250.2,119.37 250.6,119.08 251,117.89 251.4,118.61 251.8,118.03 252.2,118.66 252.6,118.96 253,117.94 253.4,118 253.8,117.79 254.2,117.86 254.6,117.84 255,117.93 255.4,117.15 255.8,117.82 256.2,116.98 256.6,117.25 257,117.43 257.4,117.21 257.8,116.63 258.2,116.62 258.6,116.62 259,116.67 259.4,116.96 259.8,116.16 260.2,116.62 260.6,116.59 261,116.51 261.4,116.43 261.8,116.68 262.2,116.31 262.6,116.37 263,116.23 263.4,116.54 263.8,115.39 264.2,116.29 264.6,115.78 265,115.73 265.4,115.48 265.8,115.17 266.2,115.57 266.6,115.44 267,115.75 267.4,115.12 267.8,115.96 268.2,115.58 268.6,115.39 269,115.21 269.4,115.16 269.8,115.02 270.2,115.17 270.6,115.3 271,115.22 271.4,114.82 271.8,115.14 272.2,114.93 272.6,115.22 273,115.7 273.4,115.31 273.8,115.01 274.2,114.59 274.6,114.63 275,114.53 275.4,115.23 275.8,114.77 276.2,115 276.6,114.77 277,114.97 277.4,115.34 277.8,114.7 278.2,114.79 278.6,114.63 279,115.12 279.4,114.54 279.8,114.49 280.2,114.4 280.6,114.38 281,114.93 281.4,115.55 281.8,114.47 282.2,115.04 282.6,114.82 283,114.4 283.4,114.64 283.8,114.64 284.2,114.5 284.6,115.27 285,114.11 285.4,114.79 285.8,114.77 286.2,114.49 286.6,114.7 287,114.91 287.4,114.68 287.8,114.75 288.2,114.83 288.6,114 289,115.05 289.4,115.28 289.8,114.89 290.2,114.89 290.6,114.16 291,114.54 291.4,114.33 291.8,114.39 292.2,114.85 292.6,114.31 293,114.51 293.4,113.97 293.8,114.49" fill="none" stroke="#de74ee" stroke-width="1.3" stroke-linejoin="round"/>
<polyline points="227.7,131.9 229,137.93 229.4,137.1 229.8,136.53 230.2,136.76 230.6,135.29 231,134.82 231.4,134.39 231.8,134.5 232.2,134.3 232.6,133.31 233,132.55 233.4,132.2 233.8,132.23 234.2,131.23 234.6,131.55 235,131.15 235.4,130.38 235.8,130.19 236.2,129.87 236.6,129.78 237,128.67 237.4,129.02 237.8,128.25 238.2,127.83 238.6,127.8 239,127.43 239.4,126.92 239.8,126.47 240.2,126.41 240.6,126.88 241,126.8 241.4,126.17 241.8,126.1 242.2,125.37 242.6,125.29 243,125.19 243.4,124.58 243.8,124.42 244.2,124.55 244.6,124.25 245,123.85 245.4,124.11 245.8,123.75 246.2,123.97 246.6,123.51 247,123.27 247.4,123.25 247.8,123.02 248.2,122.73 248.6,122.67 249,122.89 249.4,122.73 249.8,122.8 250.2,121.79 250.6,122.07 251,121.95 251.4,122.01 251.8,121.72 252.2,121.6 252.6,121.89 253,121.62 253.4,121.12 253.8,121.78 254.2,121.59 254.6,121.04 255,121.37 255.4,120.83 255.8,121.31 256.2,120.83 256.6,120.58 257,120.64 257.4,120.45 257.8,120.67 258.2,120.61 258.6,120.5 259,120.26 259.4,119.27 259.8,120.34 260.2,119.69 260.6,120.28 261,120.49 261.4,120.19 261.8,119.94 262.2,119.96 262.6,119.92 263,119.75 263.4,119.7 263.8,119.56 264.2,120.15 264.6,119.75 265,120 265.4,119.6 265.8,119.67 266.2,119.56 266.6,119.71 267,119.79 267.4,119.58 267.8,119.28 268.2,119.22 268.6,119.92 269,119.31 269.4,119.28 269.8,119.78 270.2,119.64 270.6,119.45 271,119.15 271.4,119.95 271.8,119.34 272.2,119.36 272.6,119.13 273,118.73 273.4,118.74 273.8,119.24 274.2,119.22 274.6,119.01 275,118.71 275.4,118.61 275.8,118.93 276.2,118.58 276.6,119.27 277,119.33 277.4,119.82 277.8,119.22 278.2,118.76 278.6,118.67 279,117.88 279.4,118.72 279.8,118.84 280.2,119.17 280.6,119.05 281,119.03 281.4,118.91 281.8,119.03 282.2,119.26 282.6,118.49 283,118.67 283.4,118.38 283.8,119.27 284.2,119.17 284.6,119 285,118.4 285.4,118.81 285.8,118.68 286.2,118.76 286.6,118.67 287,118.88 287.4,118.6 287.8,118.97 288.2,118.78 288.6,118.61 289,118.66 289.4,118.55 289.8,118.92 290.2,118.59 290.6,118.76 291,118.55 291.4,118.21 291.8,118.93 292.2,118.33 292.6,118.85 293,118.77 293.4,118.14 293.8,118.35" fill="none" stroke="#1e1e1e" stroke-width="1.6" stroke-linejoin="round"/>
<line x1="229.2" y1="119" x2="283" y2="119" stroke="#9a9a9a" stroke-width="1" stroke-dasharray="3,2.2"/>
<line x1="226.3" y1="138.5" x2="283.8" y2="138.5" stroke="#9a9a9a" stroke-width="1" stroke-dasharray="3,2.2"/>
<line x1="270.8" y1="123.5" x2="270.8" y2="134.5" stroke="#9a9a9a" stroke-width="1"/>
<polygon points="270.8,120.2 268.7,124.4 272.9,124.4" fill="#9a9a9a"/>
<polygon points="270.8,137.8 268.7,133.6 272.9,133.6" fill="#9a9a9a"/>
<text x="197.73" y="128.7" font-size="9" fill="#9a9a9a" stroke="#9a9a9a" letter-spacing="-0.1">ΔmV</text>
<text x="197.38" y="139.6" font-size="9" fill="#9a9a9a" stroke="#9a9a9a" letter-spacing="0.36">hERG</text>
<polyline points="282.3,140.3 299.9,140.3 299.9,125" fill="none" stroke="#1e1e1e" stroke-width="1.1" stroke-linejoin="miter"/>
<text x="284.85" y="149.5" font-size="9" fill="#1e1e1e" stroke="#1e1e1e" letter-spacing="0.34">2 s</text>
<text transform="translate(311.4 146.09) rotate(-90)" font-size="9" fill="#1e1e1e" stroke="#1e1e1e" letter-spacing="-0.17">10 mV</text>
<text x="303.02" y="19" font-size="18" fill="#1e1e1e" stroke="#1e1e1e">LiEp</text>
<text x="356.14" y="22" font-size="9" fill="#ec2028" stroke="#ec2028" letter-spacing="0.09">635 nm</text>
<line x1="332" y1="25" x2="475.6" y2="25" stroke="#ec2028" stroke-width="2.6"/>
<text x="321.09" y="35.6" font-size="9" fill="#2aa6de" stroke="#2aa6de" letter-spacing="0.1">473 nm</text>
<line x1="355" y1="30.5" x2="365.4" y2="30.5" stroke="#2aa6de" stroke-width="1.6"/>
<text x="436.94" y="38" font-size="9" fill="#1e1e1e" stroke="#1e1e1e">bath (0)</text>
<line x1="469" y1="37" x2="479.5" y2="37" stroke="#6a6a6a" stroke-width="1.2"/>
<text x="437.72" y="46.8" font-size="9" fill="#1e1e1e" stroke="#1e1e1e">300 nM</text>
<line x1="469" y1="45.8" x2="479.5" y2="45.8" stroke="#c6a4ea" stroke-width="1.2"/>
<text x="445.85" y="55.3" font-size="9" fill="#1e1e1e" stroke="#1e1e1e">1 µM</text>
<line x1="469" y1="54.3" x2="479.5" y2="54.3" stroke="#c97fd6" stroke-width="1.2"/>
<text x="445.85" y="64" font-size="9" fill="#1e1e1e" stroke="#1e1e1e">3 µM</text>
<line x1="469" y1="63" x2="479.5" y2="63" stroke="#ea3c9e" stroke-width="1.2"/>
<text x="441.64" y="72.6" font-size="9" fill="#1e1e1e" stroke="#1e1e1e">10 µM</text>
<line x1="469" y1="71.6" x2="479.5" y2="71.6" stroke="#ea2a34" stroke-width="1.2"/>
<text x="485.98" y="43.6" font-size="9" fill="#1e1e1e" stroke="#1e1e1e" letter-spacing="0.04">Astemizole</text>
<polyline points="334,81.59 334.3,81.34 334.6,81.05 334.9,82.59 335.2,81.81 335.5,82.31 335.8,81.66 336.1,82.24 336.4,81.4 336.7,81.98 337,82.47 337.3,82.04 337.6,81.63 337.9,81.13 338.2,82.13 338.5,82.28 338.8,81.79 339.1,81.38 339.4,82.43 339.7,83.99 340,81.76 340.3,82.27 340.6,82.3 340.9,79.95 341.2,82.1 341.5,81.43 341.8,83.11 342.1,81.8 342.4,81.38 342.7,81.83 343,82.13 343.3,81.55 343.6,81.96 343.9,80.92 344.2,81.82 344.5,82.62 344.8,83.58 345.1,82.57 345.4,82.22 345.7,82.95 346,82.82 346.3,83.33 346.6,82.87 346.9,81.91 347.2,82.21 347.5,82.14 347.8,82.24 348.1,82.16 348.4,81.37 348.7,80.32 349,81.46 349.3,80.38 349.6,82.05 349.9,82 350.2,80.66 350.5,82.55 350.8,82.69 351.1,82.08 351.4,83.33 351.7,83.5 352,81.04 352.3,82.83 352.6,82.35 352.9,82.33 353.2,82.75 353.5,81.42 353.8,81.53 354.1,81.34 354.4,81.4 354.7,81.92 355,80.84" fill="none" stroke="#cdb0f4" stroke-width="1.3" stroke-linejoin="round"/>
<polyline points="334,80.76 334.3,82.06 334.6,81.54 334.9,81.91 335.2,80.09 335.5,80.97 335.8,81.16 336.1,81.63 336.4,81.13 336.7,82.35 337,81.55 337.3,81.61 337.6,81.61 337.9,82.17 338.2,81.22 338.5,82.5 338.8,81.97 339.1,81.72 339.4,81.63 339.7,82.02 340,82.41 340.3,82.36 340.6,81.9 340.9,82.3 341.2,81.69 341.5,82.6 341.8,81.58 342.1,79.94 342.4,82.67 342.7,81.69 343,80.66 343.3,81.44 343.6,80.89 343.9,83.28 344.2,82 344.5,80.35 344.8,82.04 345.1,81.28 345.4,83.13 345.7,80.76 346,79.8 346.3,81.65 346.6,81.32 346.9,81.27 347.2,79.89 347.5,81.94 347.8,82.94 348.1,80.07 348.4,82.54 348.7,81.15 349,83.48 349.3,81.95 349.6,81.45 349.9,82.48 350.2,82.02 350.5,81.13 350.8,82.17 351.1,81.19 351.4,80.17 351.7,83.23 352,81.32 352.3,81.11 352.6,81.87 352.9,80.35 353.2,80.52 353.5,81.2 353.8,81.18 354.1,81.66 354.4,82.5 354.7,81.22 355,81.99" fill="none" stroke="#de74ee" stroke-width="1.3" stroke-linejoin="round"/>
<polyline points="334,81.28 334.3,79.93 334.6,80.98 334.9,80.05 335.2,81.65 335.5,81.16 335.8,80.81 336.1,79.73 336.4,80.89 336.7,80.19 337,81.36 337.3,80.7 337.6,80.15 337.9,81.54 338.2,81.38 338.5,80.33 338.8,81.73 339.1,80.56 339.4,80.55 339.7,80.9 340,80.2 340.3,80.45 340.6,80.67 340.9,82.02 341.2,82 341.5,80.59 341.8,82.09 342.1,80.77 342.4,81.1 342.7,81.51 343,81.03 343.3,82.73 343.6,80.99 343.9,79.84 344.2,81.84 344.5,80.47 344.8,80.56 345.1,78.41 345.4,81.6 345.7,81.45 346,81.44 346.3,81.58 346.6,82.15 346.9,80.76 347.2,81.55 347.5,80.2 347.8,80.52 348.1,81.65 348.4,81.11 348.7,79.73 349,81.09 349.3,80.65 349.6,80.15 349.9,81.15 350.2,80.48 350.5,79.54 350.8,79.91 351.1,82.22 351.4,79.59 351.7,80.98 352,81.29 352.3,81.31 352.6,79.82 352.9,80.54 353.2,80.91 353.5,81.44 353.8,80.28 354.1,79.87 354.4,81.6 354.7,81.68 355,81.1" fill="none" stroke="#ea3c9e" stroke-width="1.3" stroke-linejoin="round"/>
<polyline points="334,85.11 334.3,85.93 334.6,85.69 334.9,86.27 335.2,84.6 335.5,85.69 335.8,85.47 336.1,84.71 336.4,85.77 336.7,85.63 337,85.27 337.3,85.92 337.6,84.46 337.9,85.56 338.2,85.95 338.5,85.83 338.8,86.46 339.1,84.64 339.4,84.39 339.7,85.79 340,85.96 340.3,87.3 340.6,86.09 340.9,84.9 341.2,86.24 341.5,84.92 341.8,84.41 342.1,87.69 342.4,85.86 342.7,86.17 343,86.05 343.3,87.05 343.6,85.83 343.9,86.57 344.2,84.78 344.5,84.49 344.8,86.74 345.1,86.78 345.4,86.01 345.7,85.78 346,85.73 346.3,85.05 346.6,86.83 346.9,86.13 347.2,86 347.5,85.9 347.8,86.44 348.1,86 348.4,86.2 348.7,84.66 349,86.01 349.3,87.35 349.6,85.19 349.9,85.5 350.2,86.31 350.5,86.37 350.8,86.1 351.1,84.31 351.4,86 351.7,84.65 352,84.94 352.3,86.04 352.6,85.36 352.9,86.25 353.2,88.12 353.5,86.22 353.8,86.18 354.1,84.88 354.4,85.09 354.7,84.75 355,85.17" fill="none" stroke="#ea2a34" stroke-width="1.3" stroke-linejoin="round"/>
<polyline points="334,82.94 334.3,83.24 334.6,83.55 334.9,83 335.2,82.71 335.5,82.75 335.8,84.02 336.1,83.74 336.4,84.42 336.7,84.43 337,83.46 337.3,84.17 337.6,82.69 337.9,85.3 338.2,84.54 338.5,83.55 338.8,82.89 339.1,83.97 339.4,82.39 339.7,83.15 340,84.22 340.3,83.75 340.6,83.36 340.9,84.37 341.2,82.97 341.5,83.9 341.8,83.35 342.1,83.11 342.4,84.02 342.7,83 343,85.03 343.3,83.29 343.6,85.09 343.9,82.93 344.2,84.12 344.5,82.86 344.8,82.76 345.1,83.81 345.4,84.17 345.7,82.81 346,84.53 346.3,83.14 346.6,83.79 346.9,83.97 347.2,84.12 347.5,82.44 347.8,84.83 348.1,84.09 348.4,83.4 348.7,82.98 349,82.51 349.3,82.75 349.6,84.08 349.9,83.46 350.2,82.91 350.5,83.33 350.8,84.79 351.1,83.47 351.4,83.29 351.7,84.65 352,84.02 352.3,83.73 352.6,83.27 352.9,82.61 353.2,82.88 353.5,83.36 353.8,83.55 354.1,83.95 354.4,84.09 354.7,83.86 355,83.85" fill="none" stroke="#1e1e1e" stroke-width="1.3" stroke-linejoin="round"/>
<line x1="355" y1="83.4" x2="365.5" y2="83.4" stroke="#555" stroke-width="0.7"/>
<polyline points="365.6,83.4 365.6,86 366.6,85.03 366.9,83.9 367.2,85.42 367.5,84.97 367.8,85.22 368.1,85.54 368.4,84.58 368.7,84.67 369,85.6 369.3,85.77 369.6,85 369.9,86.07 370.2,85.35 370.5,84.56 370.8,85.54 371.1,87.25 371.4,84.79 371.7,86.51 372,86.68 372.3,86.77 372.6,84.54 372.9,87.2 373.2,85.37 373.5,84.99 373.8,84.99 374.1,85.75 374.4,85.2 374.7,84.96 375,86.32 375.3,84.39 375.6,84.06 375.9,85.78 376.2,85.67 376.5,86.02 376.8,83.93 377.1,85.96 377.4,85.37 377.7,86.56 378,83.68 378.3,85.05 378.6,84.56 378.9,83.29 379.2,84.1 379.5,85.83 379.8,84.29 380.1,84.03 380.4,85.52 380.7,85.62 381,85.6 381.3,83.89 381.6,84.57 381.9,85.58 382.2,83.96 382.5,83.86 382.8,85.34 383.1,86.02 383.4,83.42 383.7,82.03 384,83.11 384.3,83.51 384.6,84.32 384.9,85.02 385.2,84.28 385.5,83.74 385.8,84.54 386.1,83.46 386.4,84.32 386.7,83.74 387,86.88 387.3,85.09 387.6,83.51 387.9,83.34 388.2,83.86 388.5,82.7 388.8,83.56 389.1,83.54 389.4,85.07 389.7,83.81 390,83.45 390.3,82.92 390.6,83.06 390.9,84.1 391.2,83.95 391.5,85.22 391.8,83.54 392.1,85.13 392.4,84.36 392.7,84.1 393,82.18 393.3,82.86 393.6,84.78 393.9,85.39 394.2,84.25 394.5,84.77 394.8,83.64 395.1,83.67 395.4,83.38 395.7,84.93 396,84.32 396.3,83.76 396.6,83.67 396.9,84.5 397.2,84.27 397.5,83.16 397.8,85.57 398.1,84.18 398.4,83.94 398.7,85.32 399,84.88 399.3,83.82 399.6,84.41 399.9,82.87 400.2,83.27 400.5,81.73 400.8,85.03 401.1,82.06 401.4,84.5 401.7,83.06 402,82.91 402.3,83.65 402.6,84.08 402.9,84.4 403.2,85.5 403.5,84.15 403.8,84.64 404.1,83.23 404.4,84.47 404.7,83.93 405,83.34 405.3,83.68 405.6,83.71 405.9,83.94 406.2,84.14 406.5,83.27 406.8,83.04 407.1,84.45 407.4,82.12 407.7,83.14 408,85.2 408.3,81.15 408.6,83.06 408.9,84.37 409.2,82.14 409.5,86.17 409.8,81.24 410.1,85.06 410.4,85.17 410.7,84.56 411,83.47 411.3,84.02 411.6,82.82 411.9,84.44 412.2,82.6 412.5,83.4 412.8,84.6 413.1,82.59 413.4,83.3 413.7,83.8 414,82.37 414.3,84.74 414.6,83.96 414.9,82.19 415.2,83.58 415.5,82.89 415.8,83 416.1,83.69 416.4,82.94 416.7,84.53 417,82.94 417.3,84.54 417.6,83.56 417.9,84.41 418.2,83.08 418.5,83.11 418.8,82.5 419.1,84.14 419.4,84.48 419.7,85.6 420,84.81 420.3,83.81 420.6,83.37 420.9,83.94 421.2,83.54 421.5,84.96 421.8,84.46 422.1,82.77 422.4,82.91 422.7,84.86 423,83.85 423.3,83.33 423.6,84.68 423.9,83.18 424.2,83.28 424.5,83.1 424.8,81.68 425.1,84.36 425.4,82.39 425.7,82.99 426,82.83 426.3,84.22 426.6,83.46 426.9,83.54 427.2,81.93 427.5,83.44 427.8,82.12 428.1,83.81 428.4,83.87 428.7,83.5 429,85.46 429.3,84.01 429.6,84.08 429.9,83.64 430.2,83.32 430.5,84.42 430.8,84.55 431.1,82.27 431.4,84.5 431.7,83.99 432,84.41 432.3,83.94 432.6,82.31 432.9,82.38 433.2,85.23 433.5,83.73 433.8,82.14 434.1,83.82 434.4,83.14 434.7,81.73 435,81.31 435.3,81.96 435.6,83.74 435.9,83.44 436.2,83.24 436.5,83.75 436.8,84.05 437.1,81.48 437.4,83.19 437.7,82.69 438,82.3 438.3,82.95 438.6,83.35 438.9,83.22 439.2,82.09 439.5,83.01 439.8,85.38 440.1,82.46 440.4,81.86 440.7,83.73 441,84.03 441.3,83.9 441.6,82.4 441.9,84.41 442.2,82.71 442.5,82.38 442.8,82.88 443.1,83.35 443.4,84.13 443.7,84.05 444,83.43 444.3,84.34 444.6,83.53 444.9,84.3 445.2,82.12 445.5,81.95 445.8,84.19 446.1,82.13 446.4,83.16 446.7,83.35 447,82.98 447.3,83.01 447.6,84.77 447.9,81.04 448.2,84.28 448.5,85.62 448.8,83.46 449.1,83.42 449.4,84.13 449.7,85.18 450,82.31 450.3,83.52 450.6,83.26 450.9,83.97 451.2,83.59 451.5,84.06 451.8,83.04 452.1,83.48 452.4,82.8 452.7,82.8 453,83.3 453.3,83.3 453.6,82.32 453.9,84.92 454.2,83.3 454.5,82.12 454.8,84.48 455.1,82.72 455.4,83.91 455.7,83.41 456,83.67 456.3,83.59 456.6,82.88 456.9,83.47 457.2,85.36 457.5,81.3 457.8,83.49 458.1,83.84 458.4,82.43 458.7,82.12 459,85.48 459.3,83.07 459.6,85.4 459.9,83.93 460.2,83.5 460.5,83.88 460.8,84.03 461.1,84.54 461.4,83.84 461.7,83.56 462,83.59 462.3,84.71 462.6,84.2 462.9,82.47 463.2,82.82 463.5,83.73 463.8,82.83 464.1,83.06 464.4,82.51 464.7,83.17 465,83.82 465.3,84.36 465.6,83.43 465.9,85.39 466.2,83.35 466.5,86.45 466.8,84.37 467.1,83.89 467.4,82.94 467.7,80.73 468,83.27 468.3,83.59 468.6,85.24 468.9,82.1 469.2,85.23 469.5,83.18 469.8,84.1 470.1,81 470.4,83.55 470.7,83.09 471,84.06 471.3,83.5 471.6,82.33 471.9,84.31 472.2,84.07 472.5,83.98 472.8,84.37 473.1,84.46 473.4,83.39 473.7,82.12 474,82.1 474.3,84.69 474.6,84.09 474.9,83.51 475.2,83 475.5,83.44 475.8,83.43" fill="none" stroke="#ea2a34" stroke-width="1.3" stroke-linejoin="round"/>
<polyline points="365.6,83.4 365.6,141.5 366.9,140.71 367.2,138.87 367.5,139.66 367.8,136.65 368.1,134.56 368.4,132.62 368.7,131.73 369,131.58 369.3,130.34 369.6,128.31 369.9,127.32 370.2,125.86 370.5,124.08 370.8,124.89 371.1,123.06 371.4,123.69 371.7,120.08 372,119.58 372.3,119.42 372.6,117.58 372.9,115.74 373.2,115.2 373.5,115.17 373.8,114.52 374.1,113.34 374.4,113.42 374.7,112.63 375,111.33 375.3,110.36 375.6,109.41 375.9,109.36 376.2,108.97 376.5,107.62 376.8,107.29 377.1,106.04 377.4,104.56 377.7,104.29 378,105.13 378.3,104.31 378.6,104.68 378.9,102.92 379.2,103.05 379.5,102.91 379.8,102.15 380.1,100.39 380.4,100.27 380.7,100.07 381,98.74 381.3,99.47 381.6,99.5 381.9,97.89 382.2,99.46 382.5,97.26 382.8,96.96 383.1,96.57 383.4,95.84 383.7,96.39 384,95.74 384.3,96.73 384.6,95.57 384.9,95.2 385.2,94.29 385.5,93.05 385.8,93.82 386.1,92.94 386.4,94.11 386.7,93.06 387,94.16 387.3,93.17 387.6,93.01 387.9,92.29 388.2,92.04 388.5,92.18 388.8,92.17 389.1,90.66 389.4,91.41 389.7,92.92 390,90.55 390.3,90.23 390.6,89.7 390.9,88.92 391.2,90.85 391.5,89.78 391.8,89.81 392.1,90.88 392.4,91.26 392.7,88.39 393,89.79 393.3,89.3 393.6,88.98 393.9,88.91 394.2,88.38 394.5,89.54 394.8,88.63 395.1,88.3 395.4,88.9 395.7,88.5 396,88.04 396.3,87.83 396.6,88.86 396.9,87.76 397.2,87.18 397.5,86.47 397.8,86.78 398.1,86.13 398.4,86.96 398.7,86.99 399,85.06 399.3,86.63 399.6,87.06 399.9,86.59 400.2,85.62 400.5,87.32 400.8,85.68 401.1,85.18 401.4,85.23 401.7,86.02 402,86.75 402.3,86.83 402.6,86 402.9,84.82 403.2,85.19 403.5,84.94 403.8,85.46 404.1,84.13 404.4,85.59 404.7,85.96 405,85.28 405.3,85.72 405.6,84.55 405.9,84.09 406.2,84.7 406.5,86.09 406.8,85.95 407.1,84.72 407.4,86.01 407.7,84.75 408,86.18 408.3,85.32 408.6,84.53 408.9,85.5 409.2,84.21 409.5,84.05 409.8,83.6 410.1,84.94 410.4,84.66 410.7,84.61 411,84.31 411.3,85.76 411.6,84.25 411.9,83.98 412.2,85.53 412.5,85.65 412.8,84.76 413.1,83.07 413.4,83.96 413.7,84.91 414,84.41 414.3,85.61 414.6,83.26 414.9,84.87 415.2,83.81 415.5,85.35 415.8,84.21 416.1,85.08 416.4,83.72 416.7,83.09 417,83.32 417.3,83.7 417.6,83.35 417.9,85.12 418.2,85.21 418.5,84.35 418.8,83.29 419.1,84 419.4,83.54 419.7,85.24 420,84.31 420.3,84.44 420.6,83.72 420.9,82.41 421.2,83.4 421.5,83.11 421.8,84.29 422.1,84.06 422.4,83.33 422.7,83.65 423,85.2 423.3,83.17 423.6,83.2 423.9,83.74 424.2,83.35 424.5,83.56 424.8,84.32 425.1,85.27 425.4,82.46 425.7,83.86 426,83.9 426.3,83.79 426.6,83.7 426.9,83.57 427.2,84.64 427.5,83.46 427.8,83.72 428.1,83.82 428.4,83.9 428.7,83.67 429,84.6 429.3,83.79 429.6,83.93 429.9,83.75 430.2,82.98 430.5,83.11 430.8,82.93 431.1,83.92 431.4,83.19 431.7,82.91 432,83.94 432.3,84.17 432.6,82.34 432.9,85.09 433.2,83.76 433.5,83.65 433.8,84.58 434.1,83.78 434.4,83.24 434.7,85.48 435,82.86 435.3,83.64 435.6,84.39 435.9,82.85 436.2,83.62 436.5,84.01 436.8,85.62 437.1,82.98 437.4,83.66 437.7,84.22 438,83.75 438.3,82.72 438.6,84.01 438.9,83.77 439.2,84.04 439.5,84.58 439.8,84.49 440.1,84 440.4,83.92 440.7,82.79 441,83.56 441.3,83.84 441.6,83.34 441.9,83.74 442.2,83 442.5,84.89 442.8,85.38 443.1,83.34 443.4,83.98 443.7,83.47 444,84.66 444.3,84 444.6,83.71 444.9,83.47 445.2,83.75 445.5,82.84 445.8,84.18 446.1,83.07 446.4,84.07 446.7,83.74 447,84.52 447.3,83.62 447.6,84.46 447.9,82.9 448.2,84.12 448.5,83.46 448.8,83.79 449.1,83.69 449.4,84.38 449.7,82.02 450,83.89 450.3,82.43 450.6,84.59 450.9,82.05 451.2,82.82 451.5,82.29 451.8,84.94 452.1,82.59 452.4,83.72 452.7,83.19 453,82.18 453.3,83.35 453.6,84.15 453.9,83.47 454.2,84.37 454.5,83.33 454.8,83.62 455.1,83.31 455.4,83.89 455.7,85.14 456,83.91 456.3,83.77 456.6,83.12 456.9,83.01 457.2,84.79 457.5,82.73 457.8,82.88 458.1,83.54 458.4,83.27 458.7,85.18 459,81.72 459.3,83.9 459.6,84.18 459.9,82.72 460.2,83.1 460.5,83.96 460.8,84.91 461.1,82.87 461.4,82.35 461.7,84.39 462,84.83 462.3,83.34 462.6,81.84 462.9,84.77 463.2,83.45 463.5,84.51 463.8,83.57 464.1,83.31 464.4,83.25 464.7,84.79 465,84.76 465.3,81.9 465.6,82.86 465.9,85.03 466.2,83.31 466.5,82.52 466.8,83.61 467.1,83.52 467.4,83.53 467.7,83.22 468,83.36 468.3,83.24 468.6,83.87 468.9,82.96 469.2,83.37 469.5,83.49 469.8,84.65 470.1,83.9 470.4,83.52 470.7,84.03 471,83.93 471.3,84.47 471.6,84.01 471.9,85.04 472.2,84.68 472.5,83.57 472.8,83.27 473.1,84.31 473.4,84.02 473.7,83.53 474,82.42 474.3,82.14 474.6,83.88 474.9,84.22 475.2,84.25 475.5,82.57 475.8,84.43" fill="none" stroke="#cdb0f4" stroke-width="1.2" stroke-linejoin="round"/>
<polyline points="365.6,83.4 365.6,136 367.2,134.47 367.5,133.6 367.8,132.07 368.1,129.59 368.4,128.29 368.7,125.69 369,125.24 369.3,123.2 369.6,123.71 369.9,122.16 370.2,121.63 370.5,120.01 370.8,118.09 371.1,117.77 371.4,116.11 371.7,115.88 372,114.65 372.3,112.63 372.6,112.49 372.9,111.62 373.2,110.45 373.5,110.55 373.8,110.38 374.1,107.91 374.4,107.15 374.7,104.88 375,105.84 375.3,104.89 375.6,102.83 375.9,104.12 376.2,103.72 376.5,102.04 376.8,101.72 377.1,100.66 377.4,101.48 377.7,99.11 378,99.54 378.3,100.83 378.6,98.81 378.9,98.66 379.2,97.7 379.5,96.42 379.8,96.9 380.1,96.82 380.4,95.27 380.7,95.96 381,96.29 381.3,95.78 381.6,93.29 381.9,93.42 382.2,92.57 382.5,94.39 382.8,93.7 383.1,93.46 383.4,91.89 383.7,91.37 384,92.08 384.3,91.83 384.6,90.8 384.9,91.34 385.2,91.49 385.5,90.91 385.8,89.67 386.1,88.58 386.4,89.84 386.7,89.97 387,89.42 387.3,89.09 387.6,88.68 387.9,89.62 388.2,88.83 388.5,88.79 388.8,87.74 389.1,87.86 389.4,88.33 389.7,87.24 390,86.88 390.3,87.48 390.6,88.56 390.9,87.62 391.2,88.5 391.5,87.1 391.8,86.83 392.1,85.85 392.4,86.38 392.7,87.88 393,86.88 393.3,87.1 393.6,86.97 393.9,86.3 394.2,86.05 394.5,86.22 394.8,86.57 395.1,86.31 395.4,86.25 395.7,85.9 396,85.08 396.3,85.41 396.6,84.79 396.9,86.27 397.2,83.72 397.5,85.16 397.8,87.17 398.1,84.93 398.4,84.23 398.7,85.06 399,86.05 399.3,84.83 399.6,85.4 399.9,84.93 400.2,84.5 400.5,87.27 400.8,84.76 401.1,84.23 401.4,84.22 401.7,84.87 402,84.85 402.3,85.1 402.6,84.56 402.9,83.26 403.2,84.79 403.5,84.09 403.8,84.07 404.1,83.08 404.4,83.77 404.7,83.62 405,84.14 405.3,82.97 405.6,84.15 405.9,84.18 406.2,83.16 406.5,83.53 406.8,83.31 407.1,84.7 407.4,81.93 407.7,83.65 408,82.58 408.3,83.54 408.6,84.54 408.9,83.34 409.2,83.93 409.5,83.13 409.8,85.34 410.1,84.5 410.4,84.65 410.7,82.67 411,82.83 411.3,84.56 411.6,83.53 411.9,83.46 412.2,83.92 412.5,82.63 412.8,84.24 413.1,83.63 413.4,83.98 413.7,83.05 414,83.99 414.3,83 414.6,84.32 414.9,84.44 415.2,84.26 415.5,83.93 415.8,84.02 416.1,81.34 416.4,84.16 416.7,83.26 417,83.55 417.3,83.24 417.6,82.34 417.9,83.02 418.2,83.97 418.5,84.57 418.8,82.93 419.1,82.7 419.4,84.57 419.7,82.7 420,85.06 420.3,83.43 420.6,82.68 420.9,84.17 421.2,84.73 421.5,82.22 421.8,84.61 422.1,83.13 422.4,84.54 422.7,83.05 423,82.08 423.3,83.74 423.6,84.08 423.9,85.01 424.2,84.71 424.5,83.88 424.8,83.13 425.1,82.9 425.4,83.08 425.7,82.64 426,83.09 426.3,81.27 426.6,83.44 426.9,83.27 427.2,85.35 427.5,83.9 427.8,82.9 428.1,83.74 428.4,82.3 428.7,82.8 429,81.78 429.3,84.42 429.6,83.75 429.9,82.33 430.2,83.22 430.5,84.03 430.8,83.66 431.1,83.57 431.4,82.57 431.7,82.75 432,83.33 432.3,83.99 432.6,82.59 432.9,82.35 433.2,84.16 433.5,82.5 433.8,84.11 434.1,83.44 434.4,83.95 434.7,84.64 435,83.79 435.3,83.86 435.6,82.5 435.9,82.68 436.2,83.75 436.5,84.46 436.8,84.35 437.1,85.09 437.4,83.48 437.7,83.39 438,84.03 438.3,83.24 438.6,83.18 438.9,82.39 439.2,84.02 439.5,82.37 439.8,83.63 440.1,82.09 440.4,84.1 440.7,82.4 441,83.9 441.3,81.95 441.6,82.87 441.9,84.16 442.2,82.57 442.5,83.27 442.8,82.84 443.1,81.37 443.4,83.46 443.7,83.56 444,82.33 444.3,83.67 444.6,82.58 444.9,82.41 445.2,83.22 445.5,82.67 445.8,85.05 446.1,81.97 446.4,83.8 446.7,84 447,81.63 447.3,81.83 447.6,83.66 447.9,82.83 448.2,83.52 448.5,84.12 448.8,82.91 449.1,82.36 449.4,81.03 449.7,83.37 450,82.47 450.3,83.46 450.6,83.39 450.9,82.1 451.2,84.59 451.5,84.07 451.8,83.89 452.1,82.26 452.4,82.88 452.7,82.77 453,82.87 453.3,82.31 453.6,83.55 453.9,83.39 454.2,83.5 454.5,82.8 454.8,84.24 455.1,83.36 455.4,81.01 455.7,82.69 456,83.16 456.3,83.98 456.6,82.96 456.9,83 457.2,82.67 457.5,83.74 457.8,82.85 458.1,82.72 458.4,82.61 458.7,83.65 459,82.78 459.3,81.86 459.6,83.7 459.9,82.64 460.2,83.49 460.5,83.5 460.8,84.17 461.1,84.04 461.4,82.74 461.7,83.07 462,82.17 462.3,84.54 462.6,83.56 462.9,84.32 463.2,82.95 463.5,81.56 463.8,84.43 464.1,83.28 464.4,83.31 464.7,83.25 465,83.72 465.3,83.63 465.6,81.93 465.9,84.07 466.2,82.78 466.5,82.83 466.8,84.58 467.1,83.94 467.4,82.93 467.7,81.72 468,83.33 468.3,83.63 468.6,83.14 468.9,82.2 469.2,82.57 469.5,82.2 469.8,83.37 470.1,83.86 470.4,84.02 470.7,82.62 471,83.39 471.3,83.64 471.6,82.79 471.9,83.08 472.2,84.9 472.5,83.36 472.8,83.91 473.1,82.85 473.4,83.23 473.7,81.83 474,83.18 474.3,84.15 474.6,84.88 474.9,84.16 475.2,83.75 475.5,83.24 475.8,82.72" fill="none" stroke="#de74ee" stroke-width="1.3" stroke-linejoin="round"/>
<polyline points="365.6,84 369.6,99.07 369.9,99.21 370.2,97.63 370.5,98.55 370.8,96.58 371.1,95.52 371.4,95.72 371.7,94.8 372,94.65 372.3,96.27 372.6,94.84 372.9,94.82 373.2,95.23 373.5,94.98 373.8,93.24 374.1,94.39 374.4,93.33 374.7,92.73 375,92.79 375.3,91.02 375.6,91.26 375.9,91.54 376.2,91.86 376.5,90.83 376.8,90.78 377.1,91.43 377.4,91.56 377.7,90.82 378,91.01 378.3,89.46 378.6,89.34 378.9,89.65 379.2,88.96 379.5,88.61 379.8,90.16 380.1,88.51 380.4,87.73 380.7,88.73 381,89.65 381.3,88.09 381.6,88.86 381.9,87.38 382.2,87.2 382.5,86.91 382.8,87.21 383.1,88.67 383.4,86.15 383.7,88.26 384,86.03 384.3,86.54 384.6,87.28 384.9,87.01 385.2,86.63 385.5,84.98 385.8,86.5 386.1,85.29 386.4,88.07 386.7,85.76 387,85.99 387.3,84.84 387.6,85.29 387.9,84.57 388.2,86.31 388.5,85.24 388.8,85.83 389.1,84.76 389.4,84.84 389.7,86.2 390,84.33 390.3,83.6 390.6,85.31 390.9,84.01 391.2,84.52 391.5,85.54 391.8,84.1 392.1,85.41 392.4,84.11 392.7,85.8 393,85.62 393.3,84.14 393.6,84.3 393.9,83.76 394.2,84.54 394.5,85.26 394.8,83.15 395.1,85 395.4,83.17 395.7,83.5 396,82.73 396.3,85.81 396.6,84.14 396.9,84.25 397.2,83.48 397.5,84.85 397.8,82.28 398.1,83.96 398.4,85.67 398.7,83.58 399,83.87 399.3,84.37 399.6,83.16 399.9,83.8 400.2,84.53 400.5,83.89 400.8,84.01 401.1,83.41 401.4,83.93 401.7,83.7 402,84.8 402.3,84.2 402.6,83.4 402.9,81.62 403.2,84.14 403.5,84.15 403.8,82.8 404.1,81.92 404.4,82.59 404.7,84.23 405,82.62 405.3,83.09 405.6,83.62 405.9,84.41 406.2,83.4 406.5,83.32 406.8,82.95 407.1,84.69 407.4,84.22 407.7,83.28 408,82.23 408.3,82.71 408.6,83.79 408.9,82.74 409.2,84.02 409.5,83.59 409.8,83.52 410.1,83.8 410.4,83.67 410.7,82.58 411,83 411.3,85.12 411.6,82.28 411.9,82.86 412.2,84.08 412.5,83.09 412.8,82.57 413.1,82.15 413.4,83.63 413.7,84.01 414,84.31 414.3,83.23 414.6,84.02 414.9,82.35 415.2,83.3 415.5,82.62 415.8,83.3 416.1,83.76 416.4,84.01 416.7,82.35 417,84.16 417.3,82.76 417.6,82.31 417.9,82.99 418.2,81.96 418.5,83.13 418.8,83.35 419.1,82.95 419.4,83.54 419.7,82.86 420,83.11 420.3,81.95 420.6,83.13 420.9,82.42 421.2,82.73 421.5,83.02 421.8,83.24 422.1,81.77 422.4,81.83 422.7,82.84 423,83.46 423.3,83.36 423.6,83.79 423.9,84.11 424.2,83.47 424.5,83.05 424.8,82.24 425.1,82.31 425.4,82.69 425.7,83.27 426,83.23 426.3,83.06 426.6,82.93 426.9,83.56 427.2,83.22 427.5,83.29 427.8,83.29 428.1,82.61 428.4,82.22 428.7,83.44 429,83.38 429.3,82.87 429.6,82.71 429.9,84.86 430.2,82.43 430.5,82.86 430.8,83.25 431.1,82.11 431.4,83.13 431.7,84.47 432,83.78 432.3,83.54 432.6,83.5 432.9,83.12 433.2,83.79 433.5,82.9 433.8,82.69 434.1,83.11 434.4,83.75 434.7,83.29 435,83.56 435.3,81.4 435.6,83.98 435.9,84.89 436.2,84.09 436.5,82.77 436.8,82.34 437.1,83.24 437.4,82.23 437.7,83.6 438,82.6 438.3,83.79 438.6,84.11 438.9,81.39 439.2,83.25 439.5,82.46 439.8,81.89 440.1,82.52 440.4,82.84 440.7,83.84 441,81.8 441.3,83.85 441.6,84.63 441.9,83.49 442.2,83.45 442.5,83 442.8,82.07 443.1,83.44 443.4,83.32 443.7,83.6 444,85.06 444.3,83.59 444.6,83.35 444.9,84.26 445.2,81.93 445.5,82.09 445.8,82.71 446.1,82.48 446.4,83.56 446.7,82.75 447,84.4 447.3,84.22 447.6,83.62 447.9,82.7 448.2,83.5 448.5,83.65 448.8,82.15 449.1,83.28 449.4,83.57 449.7,83.18 450,84.26 450.3,83.98 450.6,82.34 450.9,83.1 451.2,82.34 451.5,83.47 451.8,82.31 452.1,83.74 452.4,83.31 452.7,83.78 453,82.89 453.3,81.84 453.6,84.42 453.9,82.87 454.2,84.1 454.5,83.35 454.8,83.54 455.1,84.47 455.4,83.28 455.7,84.12 456,81.82 456.3,83.7 456.6,82.81 456.9,82.9 457.2,83.01 457.5,83.28 457.8,84.33 458.1,81.52 458.4,83.04 458.7,82.43 459,83.93 459.3,82.66 459.6,83.37 459.9,82.68 460.2,83.54 460.5,83.81 460.8,82.68 461.1,83.04 461.4,81.87 461.7,83.25 462,83.69 462.3,82.56 462.6,83.9 462.9,81.34 463.2,81.52 463.5,81.89 463.8,82.61 464.1,83.02 464.4,82.94 464.7,82.95 465,83.58 465.3,82.62 465.6,81.99 465.9,82.01 466.2,84.69 466.5,81.12 466.8,82.86 467.1,84.17 467.4,83.39 467.7,82.34 468,83 468.3,83.69 468.6,83.97 468.9,82.28 469.2,83.61 469.5,83.2 469.8,83.88 470.1,84.11 470.4,82.73 470.7,81.84 471,83.32 471.3,84.42 471.6,83.55 471.9,83.18 472.2,84.92 472.5,82.17 472.8,83.72 473.1,82.54 473.4,83.04 473.7,83.07 474,84.21 474.3,82.25 474.6,82.57 474.9,81.73 475.2,83.39 475.5,82.63 475.8,83.34" fill="none" stroke="#ea3c9e" stroke-width="1.3" stroke-linejoin="round"/>
<polyline points="365.6,83.4 365.6,139 367.5,137.2 367.8,136.29 368.1,135.92 368.4,133.64 368.7,132.9 369,131.52 369.3,129.59 369.6,127.45 369.9,128.16 370.2,126.38 370.5,125.85 370.8,122.5 371.1,121.69 371.4,120.28 371.7,120.21 372,120.66 372.3,119.33 372.6,117.95 372.9,117.16 373.2,116.74 373.5,115.08 373.8,114.76 374.1,113.75 374.4,111.2 374.7,111.78 375,112.33 375.3,110.28 375.6,109.76 375.9,108.71 376.2,108.13 376.5,108.67 376.8,106.99 377.1,105.8 377.4,103.62 377.7,104.94 378,103.32 378.3,102.87 378.6,104.29 378.9,103.69 379.2,101.21 379.5,102.78 379.8,102 380.1,100.59 380.4,101.27 380.7,99.05 381,98.93 381.3,98.32 381.6,98.16 381.9,99.24 382.2,97.19 382.5,96.95 382.8,96.73 383.1,97.23 383.4,96.47 383.7,97.03 384,95.52 384.3,94.76 384.6,95.03 384.9,95.13 385.2,94.1 385.5,94.72 385.8,95.59 386.1,93.52 386.4,93.72 386.7,94.44 387,92.68 387.3,92.28 387.6,91.86 387.9,92.74 388.2,92.6 388.5,91.88 388.8,91.81 389.1,92.52 389.4,92.01 389.7,90.11 390,90.96 390.3,90.86 390.6,91.14 390.9,90.25 391.2,89.76 391.5,89.73 391.8,88.58 392.1,89.73 392.4,89.15 392.7,89.79 393,88.53 393.3,88.82 393.6,88.28 393.9,88.08 394.2,89.27 394.5,88.27 394.8,88.82 395.1,87.53 395.4,88.32 395.7,86.87 396,87.66 396.3,87.53 396.6,88.24 396.9,87.84 397.2,87.47 397.5,88.13 397.8,87.55 398.1,87.72 398.4,87.8 398.7,87.09 399,86.83 399.3,87.21 399.6,86.57 399.9,87.1 400.2,87.56 400.5,87.3 400.8,86.3 401.1,85.55 401.4,86.4 401.7,86.28 402,87.14 402.3,85.96 402.6,86.03 402.9,86.68 403.2,85.71 403.5,85.89 403.8,87.24 404.1,87.02 404.4,86.32 404.7,86 405,85.03 405.3,86.12 405.6,85.7 405.9,85.78 406.2,85.18 406.5,85.51 406.8,85.34 407.1,85.68 407.4,86.47 407.7,85.63 408,84.08 408.3,84.56 408.6,84.07 408.9,84.62 409.2,85.6 409.5,85.45 409.8,84.67 410.1,85.29 410.4,84.49 410.7,83.96 411,83.95 411.3,84.33 411.6,86.01 411.9,83.91 412.2,85.82 412.5,85.86 412.8,84.71 413.1,84.78 413.4,84.34 413.7,84.75 414,85.24 414.3,84.74 414.6,85.45 414.9,85.58 415.2,84.93 415.5,84.89 415.8,84.58 416.1,84.87 416.4,83.76 416.7,84.88 417,84.72 417.3,83.9 417.6,86.14 417.9,83.79 418.2,83.85 418.5,84.69 418.8,83.02 419.1,83.86 419.4,83.3 419.7,83.71 420,84.32 420.3,84.64 420.6,85.22 420.9,84.98 421.2,85.26 421.5,84.8 421.8,84 422.1,85.17 422.4,83.96 422.7,83.86 423,85.45 423.3,84.89 423.6,84.45 423.9,84.84 424.2,84.93 424.5,83.24 424.8,84.18 425.1,83.36 425.4,84.33 425.7,83.73 426,85.24 426.3,84.6 426.6,83.6 426.9,84.19 427.2,83.29 427.5,84.22 427.8,84.59 428.1,84.37 428.4,82.73 428.7,83.91 429,84.54 429.3,84.38 429.6,85.02 429.9,83.18 430.2,84.53 430.5,83.65 430.8,84.27 431.1,84.43 431.4,84.63 431.7,83.68 432,84.25 432.3,83.23 432.6,83.05 432.9,84.51 433.2,84.05 433.5,82.88 433.8,83.45 434.1,84.1 434.4,85.25 434.7,84.86 435,84.67 435.3,82.73 435.6,83.99 435.9,84.42 436.2,84.36 436.5,84.37 436.8,83.88 437.1,85.37 437.4,85.16 437.7,83.98 438,83.31 438.3,85.58 438.6,83.63 438.9,84.94 439.2,85.47 439.5,83.33 439.8,84.25 440.1,83.77 440.4,84.41 440.7,84.27 441,85.48 441.3,84.46 441.6,84.01 441.9,84.86 442.2,83.81 442.5,83.74 442.8,85.69 443.1,83.4 443.4,83.64 443.7,84.04 444,83.22 444.3,82.42 444.6,84.8 444.9,83.42 445.2,83.6 445.5,83.72 445.8,83.26 446.1,83.19 446.4,84.12 446.7,85.79 447,84.55 447.3,84.55 447.6,82.86 447.9,83.97 448.2,83.1 448.5,84.57 448.8,83.82 449.1,84.02 449.4,83.92 449.7,83.55 450,82.84 450.3,84.42 450.6,82.95 450.9,83.1 451.2,83.76 451.5,83.45 451.8,84.18 452.1,84.74 452.4,84.17 452.7,84.13 453,84 453.3,84.62 453.6,82.59 453.9,84.25 454.2,83.28 454.5,83.05 454.8,83.98 455.1,83.68 455.4,84.41 455.7,84.8 456,82.23 456.3,83.92 456.6,85.44 456.9,84.62 457.2,85.06 457.5,84.05 457.8,82.89 458.1,83.13 458.4,84.5 458.7,84.69 459,83.42 459.3,83.77 459.6,84.16 459.9,82.66 460.2,83.71 460.5,85.18 460.8,85.61 461.1,83.89 461.4,85.34 461.7,83.57 462,83.36 462.3,82.29 462.6,84.68 462.9,83.68 463.2,85.72 463.5,84.21 463.8,84.11 464.1,82.61 464.4,85.09 464.7,83.69 465,83.84 465.3,82.31 465.6,84.66 465.9,84.71 466.2,83.51 466.5,84.03 466.8,84.26 467.1,84.69 467.4,84.04 467.7,85.26 468,83.78 468.3,83.51 468.6,83.61 468.9,82.06 469.2,83.36 469.5,84.72 469.8,84.16 470.1,83.35 470.4,84.23 470.7,82.45 471,83.75 471.3,84.36 471.6,84.49 471.9,83.38 472.2,84.65 472.5,85.37 472.8,83.64 473.1,84.52 473.4,82.79 473.7,82.49 474,84.42 474.3,84 474.6,84.11 474.9,83.53 475.2,83.74 475.5,84.57 475.8,85.25" fill="none" stroke="#1e1e1e" stroke-width="1.7" stroke-linejoin="round"/>
<line x1="365.5" y1="39.9" x2="365.5" y2="143" stroke="#3a3040" stroke-width="1"/>
<text transform="translate(362.6 105.81) rotate(-90)" font-size="9" fill="#2aa6de" stroke="#2aa6de" letter-spacing="0.07">laser artefact</text>
<line x1="365.5" y1="145.4" x2="415" y2="145.4" stroke="#9a9a9a" stroke-width="1" stroke-dasharray="3,2.2"/>
<line x1="399.6" y1="88.5" x2="399.6" y2="140.5" stroke="#9a9a9a" stroke-width="1"/>
<polygon points="399.6,144.4 397.4,140 401.8,140" fill="#9a9a9a"/>
<text x="402.33" y="115.8" font-size="9" fill="#9a9a9a" stroke="#9a9a9a" letter-spacing="-0.09">ΔF/F</text>
<text x="401.98" y="125.7" font-size="9" fill="#9a9a9a" stroke="#9a9a9a" letter-spacing="0.3">hERG</text>
<polyline points="439.1,131.2 459.3,131.2 459.3,111.4" fill="none" stroke="#1e1e1e" stroke-width="1.1" stroke-linejoin="miter"/>
<text x="443.55" y="141" font-size="9" fill="#1e1e1e" stroke="#1e1e1e" letter-spacing="0.04">2 s</text>
<text transform="translate(472.2 134.69) rotate(-90)" font-size="9" fill="#1e1e1e" stroke="#1e1e1e" letter-spacing="-0.19">1% ΔF/F</text>
<polyline points="365.9,150.5 365.9,156.2 378.4,156.2 378.4,150.5" fill="none" stroke="#2a2a2a" stroke-width="1" stroke-linejoin="miter"/>
<polygon points="365.9,146.8 363.6,151.2 368.2,151.2" fill="#2a2a2a"/>
<polygon points="378.4,146.8 376.1,151.2 380.7,151.2" fill="#2a2a2a"/>
<text x="343.82" y="165" font-size="9" fill="#1e1e1e" stroke="#1e1e1e">evaluation window</text>
<line x1="477.5" y1="84" x2="487" y2="84" stroke="#555" stroke-width="1" stroke-dasharray="2.2,2.2"/>
<line x1="489" y1="84" x2="496" y2="84" stroke="#1e1e1e" stroke-width="1"/>
<polygon points="486.6,84 491,81.9 491,86.1" fill="#1e1e1e"/>
<text x="495.86" y="85.8" font-size="9" fill="#1e1e1e" stroke="#1e1e1e">F</text>
<text x="501.66" y="89.2" font-size="5.2" fill="#1e1e1e" stroke="#1e1e1e" letter-spacing="0.13">baseline</text>
<text x="51.51" y="205.2" font-size="24" fill="#1e1e1e" stroke="#1e1e1e">b</text>
<text x="78.44" y="200.5" font-size="9" fill="#ec2028" stroke="#ec2028" letter-spacing="0.21">635 nm</text>
<line x1="98.7" y1="203.8" x2="397.9" y2="203.8" stroke="#ec2028" stroke-width="2.2"/>
<text x="71.09" y="213.9" font-size="9" fill="#2aa6de" stroke="#2aa6de" letter-spacing="0.1">473 nm</text>
<text x="71.25" y="224.7" font-size="9" fill="#2aa6de" stroke="#2aa6de" letter-spacing="0.03">0.125 Hz</text>
<line x1="114.5" y1="212.2" x2="118.7" y2="212.2" stroke="#2aa6de" stroke-width="1.2"/>
<line x1="141.25" y1="212.2" x2="145.45" y2="212.2" stroke="#2aa6de" stroke-width="1.2"/>
<line x1="168" y1="212.2" x2="172.2" y2="212.2" stroke="#2aa6de" stroke-width="1.2"/>
<line x1="194.75" y1="212.2" x2="198.95" y2="212.2" stroke="#2aa6de" stroke-width="1.2"/>
<line x1="221.5" y1="212.2" x2="225.7" y2="212.2" stroke="#2aa6de" stroke-width="1.2"/>
<line x1="248.25" y1="212.2" x2="252.45" y2="212.2" stroke="#2aa6de" stroke-width="1.2"/>
<line x1="275" y1="212.2" x2="279.2" y2="212.2" stroke="#2aa6de" stroke-width="1.2"/>
<line x1="301.75" y1="212.2" x2="305.95" y2="212.2" stroke="#2aa6de" stroke-width="1.2"/>
<line x1="328.5" y1="212.2" x2="332.7" y2="212.2" stroke="#2aa6de" stroke-width="1.2"/>
<line x1="355.25" y1="212.2" x2="359.45" y2="212.2" stroke="#2aa6de" stroke-width="1.2"/>
<polyline points="99.5,232.46 99.8,231.52 100.1,232.28 100.4,233.44 100.7,233.09 101,232.83 101.3,233.67 101.6,233.58 101.9,232.59 102.2,231.53 102.5,230.91 102.8,231.5 103.1,231.76 103.4,232.27 103.7,231.85 104,232.55 104.3,232.35 104.6,231.16 104.9,231.82 105.2,231.36 105.5,231.5 105.8,232.47 106.1,231.98 106.4,232.62 106.7,232.78 107,231.88 107.3,231.3 107.6,230.23 107.9,230.37 108.2,231.05 108.5,231.11 108.8,231.65 109.1,230.6 109.4,229.55 109.7,229.81 110,231.09 110.3,231.73 110.6,230.71 110.9,230.39 111.2,231.11 111.5,231.44 111.8,231.05 112.1,230.15 112.4,230.62 112.7,231.88 113,231.51 113.3,231.93 113.6,231.5 113.9,230.72 114.2,231.17 114.5,231.45 114.8,230.9 115.1,230.67 115.4,230.49 115.7,230.82 116,231.55" fill="none" stroke="#1e1e1e" stroke-width="2.3" stroke-linejoin="round"/>
<line x1="116" y1="230.7" x2="118.9" y2="230.7" stroke="#444" stroke-width="0.7"/>
<line x1="118.9" y1="223.3" x2="118.9" y2="255.4" stroke="#2a2a2a" stroke-width="1"/>
<line x1="118.9" y1="230.7" x2="119.4" y2="259.4" stroke="#2a2a2a" stroke-width="1"/>
<polyline points="119.4,259.4 119.7,256.72 120,254.46 120.3,252.19 120.6,249.94 120.9,248.77 121.2,247.22 121.5,244.96 121.8,244.19" fill="none" stroke="#1e1e1e" stroke-width="1.3" stroke-linejoin="round"/>
<polyline points="121.8,244.19 122.1,243.8 122.4,241.84 122.7,241.02 123,240.25 123.3,238.68 123.6,238.35 123.9,238.07 124.2,237.15 124.5,236.69 124.8,236.27 125.1,236.02 125.4,236.03 125.7,235.95 126,235.47 126.3,234.38 126.6,233.78 126.9,233.96 127.2,234.85 127.5,235.08 127.8,234.04 128.1,233.91 128.4,233.54 128.7,233.42 129,233.59 129.3,233.37 129.6,233.64 129.9,233.12 130.2,232.9 130.5,232.5 130.8,232.25 131.1,233 131.4,234.55 131.7,234.32 132,232.69 132.3,231.95 132.6,232.26 132.9,231.95 133.2,231.17 133.5,231.9 133.8,231.69 134.1,232.1 134.4,232.95 134.7,232.08 135,231.39 135.3,231.06 135.6,230.69 135.9,231.34 136.2,232.09 136.5,232.02 136.8,231.84 137.1,231.46 137.4,231.46 137.7,231.07 138,230.91 138.3,232.03 138.6,232.51 138.9,231.73 139.2,231.06 139.5,231.75 139.8,232.56 140.1,231.41 140.4,230.53 140.7,231.18 141,231.8 141.3,231.36 141.6,231.12 141.9,231.31" fill="none" stroke="#1e1e1e" stroke-width="2.05" stroke-linejoin="round"/>
<line x1="142.05" y1="231.31" x2="145.65" y2="231.31" stroke="#444" stroke-width="0.7"/>
<line x1="145.65" y1="223.3" x2="145.65" y2="253.7" stroke="#2a2a2a" stroke-width="1"/>
<line x1="145.65" y1="231.31" x2="146.15" y2="257.7" stroke="#2a2a2a" stroke-width="1"/>
<polyline points="146.15,257.7 146.45,255.27 146.75,253.13 147.05,250.91 147.35,248.98 147.65,247.56 147.95,246.36 148.25,244.53 148.55,243.18" fill="none" stroke="#1e1e1e" stroke-width="1.3" stroke-linejoin="round"/>
<polyline points="148.55,243.18 148.85,241.99 149.15,240.6 149.45,239.75 149.75,238.75 150.05,238.29 150.35,237.79 150.65,237.68 150.95,237.86 151.25,237.09 151.55,235.91 151.85,235.93 152.15,235.22 152.45,233.83 152.75,234.61 153.05,235.35 153.35,235.2 153.65,234.63 153.95,233.55 154.25,233.25 154.55,233.78 154.85,233.52 155.15,232.88 155.45,232.49 155.75,232.18 156.05,232.94 156.35,233.46 156.65,232.57 156.95,231.87 157.25,232.01 157.55,232.56 157.85,232.25 158.15,231.89 158.45,231.44 158.75,230.94 159.05,231.88 159.35,232.66 159.65,231.99 159.95,231.28 160.25,231.99 160.55,232.09 160.85,231.52 161.15,231.83 161.45,232.08 161.75,232.27 162.05,232.46 162.35,231.77 162.65,231.37 162.95,231.54 163.25,231.02 163.55,230.63 163.85,231.51 164.15,231.24 164.45,231.22 164.75,231.93 165.05,231.46 165.35,231.53 165.65,231.75 165.95,231.98 166.25,231.62 166.55,231.03 166.85,231.07 167.15,231.88 167.45,232.32 167.75,231.21 168.05,230.69 168.35,230.75 168.65,230.87" fill="none" stroke="#1e1e1e" stroke-width="2.05" stroke-linejoin="round"/>
<line x1="168.8" y1="230.87" x2="172.4" y2="230.87" stroke="#444" stroke-width="0.7"/>
<line x1="172.4" y1="223.3" x2="172.4" y2="253.3" stroke="#2a2a2a" stroke-width="1"/>
<line x1="172.4" y1="230.87" x2="172.9" y2="257.3" stroke="#2a2a2a" stroke-width="1"/>
<polyline points="172.9,257.3 173.2,254.82 173.5,252.78 173.8,250.64 174.1,248.66 174.4,247.46 174.7,245.67 175,244.2 175.3,243.06" fill="none" stroke="#1e1e1e" stroke-width="1.3" stroke-linejoin="round"/>
<polyline points="175.3,243.06 175.6,242.05 175.9,241.67 176.2,240.21 176.5,239.56 176.8,239.32 177.1,238.77 177.4,238.51 177.7,237.89 178,237.48 178.3,237 178.6,236.42 178.9,235.32 179.2,235.25 179.5,235.56 179.8,235.85 180.1,234.55 180.4,233.43 180.7,234.42 181,233.82 181.3,233.15 181.6,234.3 181.9,234.79 182.2,233.49 182.5,233.36 182.8,234.05 183.1,233.69 183.4,233.27 183.7,232.97 184,232.39 184.3,232.01 184.6,232.55 184.9,232.74 185.2,233.1 185.5,232.85 185.8,231.13 186.1,231.07 186.4,232.06 186.7,232.28 187,232.15 187.3,231.63 187.6,232.14 187.9,232.16 188.2,231.81 188.5,231.92 188.8,231.14 189.1,231.76 189.4,231.21 189.7,230.3 190,231.41 190.3,231.57 190.6,231.67 190.9,231.74 191.2,231.24 191.5,232.09 191.8,232.16 192.1,231.23 192.4,230.87 192.7,230.62 193,231.27 193.3,231.76 193.6,231.48 193.9,230.97 194.2,231.22 194.5,230.81 194.8,230.39 195.1,230.94 195.4,230.72" fill="none" stroke="#1e1e1e" stroke-width="2.05" stroke-linejoin="round"/>
<line x1="195.55" y1="230.72" x2="199.15" y2="230.72" stroke="#444" stroke-width="0.7"/>
<line x1="199.15" y1="223.3" x2="199.15" y2="253" stroke="#2a2a2a" stroke-width="1"/>
<line x1="199.15" y1="230.72" x2="199.65" y2="257" stroke="#2a2a2a" stroke-width="1"/>
<polyline points="199.65,257 199.95,254.55 200.25,252.3 200.55,250.19 200.85,248.75 201.15,247.49 201.45,246.02 201.75,244.63 202.05,243.45" fill="none" stroke="#1e1e1e" stroke-width="1.3" stroke-linejoin="round"/>
<polyline points="202.05,243.45 202.35,242.71 202.65,241.94 202.95,241.71 203.25,240.4 203.55,238.89 203.85,238.34 204.15,236.31 204.45,235.28 204.75,236.2 205.05,236.57 205.35,235.96 205.65,235.81 205.95,236.22 206.25,235.33 206.55,235.12 206.85,235.72 207.15,235.13 207.45,233.87 207.75,234.07 208.05,234.22 208.35,233.34 208.65,233.31 208.95,233.11 209.25,233.35 209.55,233.75 209.85,233.7 210.15,233.52 210.45,232.64 210.75,232.26 211.05,232.83 211.35,232.66 211.65,233.38 211.95,233.37 212.25,231.94 212.55,232.42 212.85,232.88 213.15,232.37 213.45,231.93 213.75,232.06 214.05,232.42 214.35,232.51 214.65,232.02 214.95,231.85 215.25,232.26 215.55,232.35 215.85,230.78 216.15,230.1 216.45,230.97 216.75,231.19 217.05,231.53 217.35,231.95 217.65,232.09 217.95,231.66 218.25,231.4 218.55,232.11 218.85,231.83 219.15,231.24 219.45,232.07 219.75,232.06 220.05,230.63 220.35,230.62 220.65,231.25 220.95,231.04 221.25,231.58 221.55,231.79 221.85,231.26 222.15,231.4" fill="none" stroke="#1e1e1e" stroke-width="2.05" stroke-linejoin="round"/>
<line x1="222.3" y1="231.4" x2="225.9" y2="231.4" stroke="#444" stroke-width="0.7"/>
<line x1="225.9" y1="223.3" x2="225.9" y2="252.6" stroke="#2a2a2a" stroke-width="1"/>
<line x1="225.9" y1="231.4" x2="226.4" y2="256.6" stroke="#2a2a2a" stroke-width="1"/>
<polyline points="226.4,256.6 226.7,254.2 227,252.05 227.3,250.11 227.6,248.41 227.9,246.74 228.2,245.17 228.5,243.97 228.8,242.67" fill="none" stroke="#1e1e1e" stroke-width="1.3" stroke-linejoin="round"/>
<polyline points="228.8,242.67 229.1,241.16 229.4,241.03 229.7,240.6 230,239.33 230.3,238.7 230.6,238.11 230.9,237.62 231.2,237.13 231.5,236.36 231.8,236.29 232.1,235.96 232.4,235.66 232.7,234.87 233,233.77 233.3,234.65 233.6,234.76 233.9,233.9 234.2,233.9 234.5,233.58 234.8,233.29 235.1,232.68 235.4,232.33 235.7,232.8 236,233.07 236.3,233.54 236.6,232.89 236.9,233.08 237.2,233.09 237.5,231.57 237.8,230.8 238.1,232.12 238.4,232.94 238.7,232.02 239,231.7 239.3,231.46 239.6,232.22 239.9,232.56 240.2,232.67 240.5,232.58 240.8,230.92 241.1,231.28 241.4,232.01 241.7,231.55 242,232.26 242.3,232.21 242.6,232.02 242.9,232.09 243.2,231.31 243.5,231.47 243.8,231.5 244.1,231.75 244.4,232.33 244.7,231.85 245,231.69 245.3,231.86 245.6,231.49 245.9,231.59 246.2,231.59 246.5,231.46 246.8,231.15 247.1,230.93 247.4,231.44 247.7,231.08 248,230.74 248.3,230.82 248.6,231.25 248.9,231.16" fill="none" stroke="#1e1e1e" stroke-width="2.05" stroke-linejoin="round"/>
<line x1="249.05" y1="231.16" x2="252.65" y2="231.16" stroke="#444" stroke-width="0.7"/>
<line x1="252.65" y1="223.3" x2="252.65" y2="252.3" stroke="#2a2a2a" stroke-width="1"/>
<line x1="252.65" y1="231.16" x2="253.15" y2="256.3" stroke="#2a2a2a" stroke-width="1"/>
<polyline points="253.15,256.3 253.45,253.92 253.75,251.92 254.05,250.06 254.35,247.92 254.65,246.28 254.95,245.46 255.25,244.14 255.55,243.07" fill="none" stroke="#1e1e1e" stroke-width="1.3" stroke-linejoin="round"/>
<polyline points="255.55,243.07 255.85,242.41 256.15,241.3 256.45,240.14 256.75,239.04 257.05,238.37 257.35,238 257.65,237.75 257.95,237.4 258.25,236.63 258.55,236.09 258.85,235.99 259.15,234.99 259.45,234.24 259.75,234.28 260.05,234.24 260.35,234.21 260.65,233.98 260.95,233.55 261.25,233.73 261.55,234.01 261.85,232.96 262.15,232.71 262.45,232.78 262.75,233.32 263.05,233.46 263.35,232.54 263.65,232.65 263.95,232.64 264.25,232.49 264.55,233.09 264.85,233.13 265.15,232.78 265.45,233.06 265.75,232.29 266.05,232.45 266.35,233.04 266.65,232.7 266.95,232.04 267.25,231.94 267.55,232.39 267.85,231.82 268.15,232.5 268.45,232.89 268.75,231.87 269.05,231.69 269.35,232.1 269.65,232.43 269.95,232.27 270.25,232.27 270.55,232.59 270.85,231.6 271.15,230.82 271.45,230.9 271.75,231.1 272.05,232.01 272.35,232.2 272.65,231.21 272.95,230.81 273.25,231.6 273.55,231.49 273.85,231.03 274.15,231.33 274.45,230.64 274.75,230.81 275.05,231.63 275.35,231.53 275.65,231" fill="none" stroke="#1e1e1e" stroke-width="2.05" stroke-linejoin="round"/>
<line x1="275.8" y1="231" x2="279.4" y2="231" stroke="#444" stroke-width="0.7"/>
<line x1="279.4" y1="223.3" x2="279.4" y2="252" stroke="#2a2a2a" stroke-width="1"/>
<line x1="279.4" y1="231" x2="279.9" y2="256" stroke="#2a2a2a" stroke-width="1"/>
<polyline points="279.9,256 280.2,253.61 280.5,251.41 280.8,249.58 281.1,247.97 281.4,246.43 281.7,245.47 282,244.63 282.3,242.86" fill="none" stroke="#1e1e1e" stroke-width="1.3" stroke-linejoin="round"/>
<polyline points="282.3,242.86 282.6,241.2 282.9,241.2 283.2,240.52 283.5,239.66 283.8,239.75 284.1,238.4 284.4,237.14 284.7,236.89 285,236.22 285.3,235.41 285.6,235.22 285.9,235.6 286.2,235.28 286.5,234.59 286.8,234.33 287.1,233.65 287.4,234.2 287.7,233.62 288,232.61 288.3,233.57 288.6,233.13 288.9,233.01 289.2,233.91 289.5,233.22 289.8,232.7 290.1,232.5 290.4,232.52 290.7,232.89 291,232.69 291.3,233.11 291.6,233.13 291.9,233.05 292.2,233.05 292.5,232 292.8,231.79 293.1,232.39 293.4,231.67 293.7,231.95 294,232.49 294.3,232.07 294.6,231.65 294.9,231.49 295.2,231.92 295.5,231.72 295.8,231.6 296.1,230.87 296.4,231.33 296.7,231.69 297,230.28 297.3,230.31 297.6,230.8 297.9,231.36 298.2,231.3 298.5,231.18 298.8,231.13 299.1,231.86 299.4,232.42 299.7,232.3 300,231.67 300.3,231.15 300.6,231.15 300.9,231.1 301.2,231.71 301.5,230.85 301.8,230.12 302.1,230.27 302.4,230.11" fill="none" stroke="#1e1e1e" stroke-width="2.05" stroke-linejoin="round"/>
<line x1="302.55" y1="230.11" x2="306.15" y2="230.11" stroke="#444" stroke-width="0.7"/>
<line x1="306.15" y1="223.3" x2="306.15" y2="251.7" stroke="#2a2a2a" stroke-width="1"/>
<line x1="306.15" y1="230.11" x2="306.65" y2="255.7" stroke="#2a2a2a" stroke-width="1"/>
<polyline points="306.65,255.7 306.95,253.34 307.25,251.14 307.55,249.12 307.85,247.5 308.15,246.33 308.45,244.67 308.75,243.12 309.05,242.36" fill="none" stroke="#1e1e1e" stroke-width="1.3" stroke-linejoin="round"/>
<polyline points="309.05,242.36 309.35,241.47 309.65,240.3 309.95,239.91 310.25,239.79 310.55,239.08 310.85,238.08 311.15,238.06 311.45,238.33 311.75,236.97 312.05,235.85 312.35,236.11 312.65,235.51 312.95,234.91 313.25,234.96 313.55,234.28 313.85,233.95 314.15,233.4 314.45,233.09 314.75,232.74 315.05,233.68 315.35,234.89 315.65,234.34 315.95,233.74 316.25,233.54 316.55,233.8 316.85,233.7 317.15,233.47 317.45,232.63 317.75,232.35 318.05,232.42 318.35,231.72 318.65,231.41 318.95,231.97 319.25,232.76 319.55,232 319.85,232.22 320.15,233.27 320.45,232.39 320.75,231.59 321.05,231.66 321.35,232.18 321.65,232.02 321.95,231.17 322.25,231.41 322.55,231 322.85,230.89 323.15,232.11 323.45,232.14 323.75,231.96 324.05,232 324.35,231.95 324.65,231.79 324.95,231.16 325.25,230.99 325.55,231.26 325.85,231.81 326.15,232.45 326.45,232.1 326.75,231.15 327.05,230.68 327.35,230.88 327.65,231.69 327.95,231.87 328.25,231.29 328.55,230.85 328.85,231.19 329.15,231.59" fill="none" stroke="#1e1e1e" stroke-width="2.05" stroke-linejoin="round"/>
<line x1="329.3" y1="231.59" x2="332.9" y2="231.59" stroke="#444" stroke-width="0.7"/>
<line x1="332.9" y1="223.3" x2="332.9" y2="251.5" stroke="#2a2a2a" stroke-width="1"/>
<line x1="332.9" y1="231.59" x2="333.4" y2="255.5" stroke="#2a2a2a" stroke-width="1"/>
<polyline points="333.4,255.5 333.7,253.18 334,251.11 334.3,249.45 334.6,247.81 334.9,246.37 335.2,245.41 335.5,243.87 335.8,242.72" fill="none" stroke="#1e1e1e" stroke-width="1.3" stroke-linejoin="round"/>
<polyline points="335.8,242.72 336.1,241.72 336.4,240.2 336.7,239.35 337,238.61 337.3,238.26 337.6,238.04 337.9,237.53 338.2,237.37 338.5,235.5 338.8,234.91 339.1,235.06 339.4,234.68 339.7,234.74 340,234.45 340.3,235.07 340.6,234.14 340.9,233.48 341.2,233.92 341.5,232.93 341.8,233.05 342.1,233.65 342.4,233.07 342.7,232.64 343,233.97 343.3,233.99 343.6,231.94 343.9,231.63 344.2,232.1 344.5,232.23 344.8,232.26 345.1,231.93 345.4,232.1 345.7,232.25 346,231.45 346.3,231.26 346.6,231.59 346.9,232.18 347.2,232.47 347.5,231.96 347.8,231.73 348.1,231.91 348.4,232.65 348.7,232.29 349,231.64 349.3,232.12 349.6,231.54 349.9,231.29 350.2,231.7 350.5,231.41 350.8,231.54 351.1,232.09 351.4,232.28 351.7,231.78 352,231.39 352.3,232.35 352.6,231.83 352.9,230.98 353.2,231.73 353.5,231.68 353.8,231.57 354.1,231.56 354.4,231.58 354.7,231.99 355,231.59 355.3,231.15 355.6,231.2 355.9,230.95" fill="none" stroke="#1e1e1e" stroke-width="2.05" stroke-linejoin="round"/>
<line x1="356.05" y1="230.95" x2="359.65" y2="230.95" stroke="#444" stroke-width="0.7"/>
<line x1="359.65" y1="223.3" x2="359.65" y2="251.3" stroke="#2a2a2a" stroke-width="1"/>
<line x1="359.65" y1="230.95" x2="360.15" y2="255.3" stroke="#2a2a2a" stroke-width="1"/>
<polyline points="360.15,255.3 360.45,253 360.75,250.85 361.05,249.05 361.35,247.82 361.65,246.61 361.95,245.31 362.25,243.5 362.55,242.51" fill="none" stroke="#1e1e1e" stroke-width="1.3" stroke-linejoin="round"/>
<polyline points="362.55,242.51 362.85,241.65 363.15,240.19 363.45,240.4 363.75,239.3 364.05,238.26 364.35,238.21 364.65,237.3 364.95,236.38 365.25,236.17 365.55,235.94 365.85,235.83 366.15,236.16 366.45,234.92 366.75,233.98 367.05,234.15 367.35,233.66 367.65,233.14 367.95,233.45 368.25,233.63 368.55,232.79 368.85,232.51 369.15,233.22 369.45,232.83 369.75,232.16 370.05,233.13 370.35,233.9 370.65,232.56 370.95,231.43 371.25,232.13 371.55,232.11 371.85,231.79 372.15,232.01 372.45,232.26 372.75,231.39 373.05,230.26 373.35,230.71 373.65,231.91 373.95,232.27 374.25,231.17 374.55,231.38 374.85,232.27 375.15,231.94 375.45,231.5 375.75,231.73 376.05,232.29 376.35,232.15 376.65,231.85 376.95,231.74 377.25,231.35 377.55,230.99 377.85,231.21 378.15,231.42 378.45,231.2 378.75,231.65 379.05,231.91 379.35,231.86 379.65,231.04 379.95,230.9 380.25,231.26 380.55,230.71 380.85,230.58 381.15,231.35 381.45,231.99 381.75,231.22 382.05,230.44 382.35,230.7 382.65,230.95 382.95,231.58 383.25,231.17 383.55,229.8 383.85,230.25 384.15,230.95 384.45,231.09 384.75,231.37 385.05,232.11 385.35,231.67 385.65,230.64 385.95,230.08 386.25,230.37 386.55,231.38 386.85,231.17 387.15,231.29 387.45,231.39 387.75,231.51 388.05,231.62 388.35,230.61 388.65,230.23 388.95,230.03 389.25,229.6 389.55,230.29 389.85,231.3 390.15,231.94 390.45,231.58 390.75,230.72 391.05,230.3 391.35,230.77 391.65,231.35 391.95,230.73 392.25,230.84 392.55,231.28 392.85,230.28 393.15,230.34 393.45,231.12 393.75,230.67 394.05,230.45 394.35,231.28 394.65,232.03 394.95,232.06 395.25,231.01 395.55,230.04 395.85,230.84 396.15,230.62 396.45,229.98" fill="none" stroke="#1e1e1e" stroke-width="2.05" stroke-linejoin="round"/>
<line x1="359.7" y1="261.8" x2="359.7" y2="264.4" stroke="#1e1e1e" stroke-width="1.1"/>
<polygon points="359.7,258.3 357.4,262.7 362,262.7" fill="#1e1e1e"/>
<polyline points="99.5,278.04 99.8,279.02 100.1,280.53 100.4,279.79 100.7,279.33 101,278.86 101.3,278.52 101.6,279.07 101.9,278.89 102.2,279.21 102.5,279.32 102.8,278.2 103.1,279.14 103.4,279.52 103.7,279.12 104,278.97 104.3,277.47 104.6,277.97 104.9,278.45 105.2,278.72 105.5,278.61 105.8,277.04 106.1,278.02 106.4,279.22 106.7,279.11 107,278.23 107.3,278.64 107.6,278.5 107.9,277.78 108.2,278.13 108.5,278.17 108.8,279.03 109.1,278.89 109.4,278.73 109.7,279.42 110,278.21 110.3,277.22 110.6,277.91 110.9,278.21 111.2,278.57 111.5,277.85 111.8,278.06 112.1,279.48 112.4,279 112.7,277.86 113,277.95 113.3,278.39 113.6,278.68 113.9,278.91 114.2,278.99 114.5,278.8 114.8,279.17 115.1,278.17 115.4,276.86 115.7,278.33 116,278.06" fill="none" stroke="#1e1e1e" stroke-width="2.3" stroke-linejoin="round"/>
<line x1="116" y1="278.6" x2="118.9" y2="278.6" stroke="#444" stroke-width="0.7"/>
<line x1="118.9" y1="267.5" x2="118.9" y2="302.8" stroke="#2a2a2a" stroke-width="1"/>
<line x1="118.9" y1="278.6" x2="120" y2="306.8" stroke="#2a2a2a" stroke-width="1"/>
<polyline points="120,306.8 120.3,303 120.6,299.65 120.9,296.73 121.2,294.31 121.5,292.09 121.8,290.5 122.1,289.03 122.4,287.53" fill="none" stroke="#1e1e1e" stroke-width="1.3" stroke-linejoin="round"/>
<polyline points="122.4,287.53 122.7,287.16 123,286.39 123.3,284.32 123.6,283.93 123.9,283.99 124.2,283.54 124.5,283.43 124.8,282.17 125.1,281.52 125.4,282.01 125.7,281.31 126,280.72 126.3,279.33 126.6,278.82 126.9,280.52 127.2,279.9 127.5,278.86 127.8,279.55 128.1,279.88 128.4,280.3 128.7,279.31 129,278.61 129.3,279.56 129.6,278.97 129.9,278.57 130.2,279.76 130.5,280.24 130.8,279.67 131.1,278.1 131.4,277.81 131.7,278.94 132,278.84 132.3,278.63 132.6,279.93 132.9,279.84 133.2,278.24 133.5,278.4 133.8,278.63 134.1,278.4 134.4,278.47 134.7,278.87 135,278.98 135.3,278.2 135.6,278.04 135.9,278.68 136.2,278.54 136.5,278.79 136.8,279.26 137.1,278.42 137.4,278.23 137.7,279.38 138,279.85 138.3,279.05 138.6,278.78 138.9,278.53 139.2,277.62 139.5,278.09 139.8,278.74 140.1,278.72 140.4,278.61 140.7,278.53 141,278.33 141.3,278.38 141.6,278.9 141.9,278.69" fill="none" stroke="#1e1e1e" stroke-width="2.05" stroke-linejoin="round"/>
<line x1="142.05" y1="278.69" x2="145.65" y2="278.69" stroke="#444" stroke-width="0.7"/>
<line x1="145.65" y1="267.5" x2="145.65" y2="297.6" stroke="#2a2a2a" stroke-width="1"/>
<line x1="145.65" y1="278.69" x2="146.75" y2="301.6" stroke="#2a2a2a" stroke-width="1"/>
<polyline points="146.75,301.6 147.05,298.5 147.35,295.71 147.65,293.18 147.95,291.59 148.25,290.41 148.55,288.79 148.85,287.1 149.15,285.55" fill="none" stroke="#1e1e1e" stroke-width="1.3" stroke-linejoin="round"/>
<polyline points="149.15,285.55 149.45,284.72 149.75,284.67 150.05,283.25 150.35,282.56 150.65,282.8 150.95,282.3 151.25,281.27 151.55,280.97 151.85,280.52 152.15,280.63 152.45,281.03 152.75,279.8 153.05,280.09 153.35,280.84 153.65,279.92 153.95,280.21 154.25,279.96 154.55,279.13 154.85,279.9 155.15,278.81 155.45,278.67 155.75,279.47 156.05,279.02 156.35,278.57 156.65,278.66 156.95,278.6 157.25,278.06 157.55,278.28 157.85,278.15 158.15,278.9 158.45,278.84 158.75,277.91 159.05,278.28 159.35,278.55 159.65,278.96 159.95,279.26 160.25,278.81 160.55,278.33 160.85,278.44 161.15,278.9 161.45,279.14 161.75,278.61 162.05,277.52 162.35,278.55 162.65,279.71 162.95,278.96 163.25,278.72 163.55,278.4 163.85,277.87 164.15,277.94 164.45,278.23 164.75,278.11 165.05,277.62 165.35,277.74 165.65,278.52 165.95,278.45 166.25,278.23 166.55,277.61 166.85,277.51 167.15,278.27 167.45,277.86 167.75,277.24 168.05,277.87 168.35,278.22 168.65,278.25" fill="none" stroke="#1e1e1e" stroke-width="2.05" stroke-linejoin="round"/>
<line x1="168.8" y1="278.25" x2="172.4" y2="278.25" stroke="#444" stroke-width="0.7"/>
<line x1="172.4" y1="267.5" x2="172.4" y2="296.5" stroke="#2a2a2a" stroke-width="1"/>
<line x1="172.4" y1="278.25" x2="173.5" y2="300.5" stroke="#2a2a2a" stroke-width="1"/>
<polyline points="173.5,300.5 173.8,297.5 174.1,294.97 174.4,292.79 174.7,290.58 175,288.94 175.3,287.75 175.6,286.74 175.9,285.67" fill="none" stroke="#1e1e1e" stroke-width="1.3" stroke-linejoin="round"/>
<polyline points="175.9,285.67 176.2,284.42 176.5,284.13 176.8,284.06 177.1,283.45 177.4,282.9 177.7,282.35 178,281.86 178.3,281.7 178.6,281.27 178.9,280.7 179.2,280.38 179.5,281.1 179.8,280.88 180.1,279.71 180.4,279.43 180.7,279.39 181,279.52 181.3,279 181.6,278.06 181.9,278.54 182.2,278.62 182.5,278.54 182.8,279.17 183.1,279.47 183.4,280.02 183.7,279.67 184,278.77 184.3,278.13 184.6,278.01 184.9,278.45 185.2,277.93 185.5,277.92 185.8,278.7 186.1,278.9 186.4,278.75 186.7,278.52 187,278.35 187.3,278.11 187.6,277.7 187.9,277.91 188.2,279.19 188.5,279.19 188.8,278.72 189.1,278.26 189.4,278.67 189.7,278.74 190,278.49 190.3,278.82 190.6,278.13 190.9,278.48 191.2,278.85 191.5,278.51 191.8,278.67 192.1,278.59 192.4,278.26 192.7,278.44 193,278.43 193.3,278.27 193.6,278.16 193.9,277.55 194.2,277.54 194.5,277.93 194.8,278.19 195.1,278.84 195.4,278.17" fill="none" stroke="#1e1e1e" stroke-width="2.05" stroke-linejoin="round"/>
<line x1="195.55" y1="278.17" x2="199.15" y2="278.17" stroke="#444" stroke-width="0.7"/>
<line x1="199.15" y1="267.5" x2="199.15" y2="292.3" stroke="#2a2a2a" stroke-width="1"/>
<line x1="199.15" y1="278.17" x2="200.25" y2="296.3" stroke="#2a2a2a" stroke-width="1"/>
<polyline points="200.25,296.3 200.55,293.89 200.85,291.64 201.15,289.64 201.45,288.25 201.75,286.64 202.05,285.08 202.35,284.6 202.65,284.3" fill="none" stroke="#1e1e1e" stroke-width="1.3" stroke-linejoin="round"/>
<polyline points="202.65,284.3 202.95,283.49 203.25,282.52 203.55,282.86 203.85,282.64 204.15,281.06 204.45,281.43 204.75,281.7 205.05,280.63 205.35,280.62 205.65,280.63 205.95,280.24 206.25,280.11 206.55,279.32 206.85,279.49 207.15,279.84 207.45,278.98 207.75,278.54 208.05,279.22 208.35,279.31 208.65,278.9 208.95,279.24 209.25,279.23 209.55,278.33 209.85,278.49 210.15,279.41 210.45,279.47 210.75,279.7 211.05,279.48 211.35,279.13 211.65,279.58 211.95,279.15 212.25,279.18 212.55,279.95 212.85,279.56 213.15,279.59 213.45,279.6 213.75,278.53 214.05,278.63 214.35,279.08 214.65,278.79 214.95,278.71 215.25,279.07 215.55,279.22 215.85,278.41 216.15,278.37 216.45,278.92 216.75,278.44 217.05,277.98 217.35,278.11 217.65,278.04 217.95,278.31 218.25,278.94 218.55,279.54 218.85,279.6 219.15,279.26 219.45,279.23 219.75,279.35 220.05,278.75 220.35,278.5 220.65,278.77 220.95,278.44 221.25,278.14 221.55,277.99 221.85,278.06 222.15,277.77" fill="none" stroke="#1e1e1e" stroke-width="2.05" stroke-linejoin="round"/>
<line x1="222.3" y1="277.77" x2="225.9" y2="277.77" stroke="#444" stroke-width="0.7"/>
<line x1="225.9" y1="267.5" x2="225.9" y2="290.2" stroke="#2a2a2a" stroke-width="1"/>
<line x1="225.9" y1="277.77" x2="227" y2="294.2" stroke="#2a2a2a" stroke-width="1"/>
<polyline points="227,294.2 227.3,292.08 227.6,290.27 227.9,288.66 228.2,287.37 228.5,286.35 228.8,285.17 229.1,284.09 229.4,283" fill="none" stroke="#1e1e1e" stroke-width="1.3" stroke-linejoin="round"/>
<polyline points="229.4,283 229.7,281.56 230,280.72 230.3,281.71 230.6,281.34 230.9,280.57 231.2,281.54 231.5,280.91 231.8,280.73 232.1,281.42 232.4,280.98 232.7,281.02 233,280.76 233.3,279.43 233.6,279.29 233.9,279.31 234.2,278.51 234.5,278.12 234.8,279.46 235.1,279.68 235.4,278.72 235.7,278.63 236,278.65 236.3,278.78 236.6,278.53 236.9,278.12 237.2,277.7 237.5,277.86 237.8,278.5 238.1,279.57 238.4,279.85 238.7,279.73 239,279.49 239.3,278.73 239.6,278.01 239.9,278.04 240.2,277.7 240.5,277.57 240.8,279.03 241.1,279.27 241.4,279.06 241.7,278.78 242,277.79 242.3,277.75 242.6,278.12 242.9,278.77 243.2,279.68 243.5,278.92 243.8,278.01 244.1,278.23 244.4,278.23 244.7,277.8 245,277.97 245.3,278.59 245.6,278.7 245.9,278.08 246.2,277.88 246.5,277.67 246.8,278.07 247.1,278.35 247.4,277.88 247.7,278.1 248,277.98 248.3,277.74 248.6,277.27 248.9,278.36" fill="none" stroke="#1e1e1e" stroke-width="2.05" stroke-linejoin="round"/>
<line x1="249.05" y1="278.36" x2="252.65" y2="278.36" stroke="#444" stroke-width="0.7"/>
<line x1="252.65" y1="267.5" x2="252.65" y2="287.8" stroke="#2a2a2a" stroke-width="1"/>
<line x1="252.65" y1="278.36" x2="253.75" y2="291.8" stroke="#2a2a2a" stroke-width="1"/>
<polyline points="253.75,291.8 254.05,290 254.35,288.47 254.65,287.37 254.95,286.26 255.25,285.06 255.55,284.25 255.85,283.72 256.15,283.29" fill="none" stroke="#1e1e1e" stroke-width="1.3" stroke-linejoin="round"/>
<polyline points="256.15,283.29 256.45,282.51 256.75,281.78 257.05,281.36 257.35,281.56 257.65,280.34 257.95,279.57 258.25,279.99 258.55,279.72 258.85,278.94 259.15,279.19 259.45,279.5 259.75,279.01 260.05,279.04 260.35,278.39 260.65,278.33 260.95,278.19 261.25,277.94 261.55,278.47 261.85,278.79 262.15,278.89 262.45,278.8 262.75,279.57 263.05,279.76 263.35,278.42 263.65,277.99 263.95,278.18 264.25,278.33 264.55,278.33 264.85,278.05 265.15,278.91 265.45,279.24 265.75,278.45 266.05,278.32 266.35,278.36 266.65,278.99 266.95,279.24 267.25,279.13 267.55,277.72 267.85,277.4 268.15,279.02 268.45,279.65 268.75,279.24 269.05,277.8 269.35,278.01 269.65,278.44 269.95,277.51 270.25,277.5 270.55,278.6 270.85,279.3 271.15,279.17 271.45,278.29 271.75,278.98 272.05,278.93 272.35,277.92 272.65,277.81 272.95,278.35 273.25,279.08 273.55,278.91 273.85,278.77 274.15,278.39 274.45,278.42 274.75,277.71 275.05,278.03 275.35,279.12 275.65,278.58" fill="none" stroke="#1e1e1e" stroke-width="2.05" stroke-linejoin="round"/>
<line x1="275.8" y1="278.58" x2="279.4" y2="278.58" stroke="#444" stroke-width="0.7"/>
<line x1="279.4" y1="267.5" x2="279.4" y2="286.5" stroke="#2a2a2a" stroke-width="1"/>
<line x1="279.4" y1="278.58" x2="280.5" y2="290.5" stroke="#2a2a2a" stroke-width="1"/>
<polyline points="280.5,290.5 280.8,288.86 281.1,287.48 281.4,286.47 281.7,285.53 282,284.42 282.3,283.46 282.6,282.36 282.9,281.69" fill="none" stroke="#1e1e1e" stroke-width="1.3" stroke-linejoin="round"/>
<polyline points="282.9,281.69 283.2,281.67 283.5,281.36 283.8,281 284.1,281.07 284.4,280.94 284.7,280.51 285,280.39 285.3,280.18 285.6,279.75 285.9,279.73 286.2,278.95 286.5,279.15 286.8,279.22 287.1,278.98 287.4,279.41 287.7,279.46 288,279.41 288.3,278.56 288.6,278.92 288.9,279.32 289.2,278.91 289.5,278.84 289.8,279.15 290.1,279.41 290.4,279.09 290.7,278.14 291,277.88 291.3,278.5 291.6,279.34 291.9,279.43 292.2,278.69 292.5,278.99 292.8,278.97 293.1,278.48 293.4,278.57 293.7,277.99 294,278.29 294.3,279.03 294.6,278.54 294.9,277.93 295.2,278.11 295.5,279.09 295.8,278.76 296.1,277.79 296.4,278.2 296.7,277.99 297,276.95 297.3,277.4 297.6,277.99 297.9,278.05 298.2,278.1 298.5,278.33 298.8,278.46 299.1,278.09 299.4,278 299.7,278.47 300,279.02 300.3,279.12 300.6,279.02 300.9,277.38 301.2,276.72 301.5,277.88 301.8,278.35 302.1,277.84 302.4,278.31" fill="none" stroke="#1e1e1e" stroke-width="2.05" stroke-linejoin="round"/>
<line x1="302.55" y1="278.31" x2="306.15" y2="278.31" stroke="#444" stroke-width="0.7"/>
<line x1="306.15" y1="267.5" x2="306.15" y2="284.7" stroke="#2a2a2a" stroke-width="1"/>
<line x1="306.15" y1="278.31" x2="307.25" y2="288.7" stroke="#2a2a2a" stroke-width="1"/>
<polyline points="307.25,288.7 307.55,287.32 307.85,286.09 308.15,285.03 308.45,284.18 308.75,283.24 309.05,282.74 309.35,282.26 309.65,281.18" fill="none" stroke="#1e1e1e" stroke-width="1.3" stroke-linejoin="round"/>
<polyline points="309.65,281.18 309.95,280.63 310.25,280.7 310.55,280.21 310.85,280.48 311.15,280.24 311.45,280.23 311.75,280.83 312.05,279.62 312.35,279.19 312.65,279.9 312.95,279.67 313.25,278.66 313.55,278.7 313.85,279.87 314.15,279.18 314.45,278.57 314.75,279.1 315.05,278.8 315.35,278.61 315.65,278.49 315.95,279.02 316.25,279.35 316.55,278.53 316.85,278.88 317.15,278.74 317.45,278.38 317.75,278.94 318.05,279.13 318.35,279.18 318.65,279.11 318.95,278.95 319.25,278.91 319.55,279.04 319.85,279.49 320.15,279.08 320.45,278.7 320.75,279.14 321.05,278.74 321.35,278.33 321.65,278.43 321.95,278.07 322.25,277.36 322.55,278.2 322.85,278.12 323.15,278.4 323.45,278.89 323.75,278.43 324.05,278.56 324.35,278.62 324.65,278.48 324.95,278.17 325.25,278.23 325.55,278.78 325.85,279.26 326.15,279.35 326.45,279.05 326.75,278.47 327.05,277.67 327.35,278 327.65,278.98 327.95,278.57 328.25,278.55 328.55,279.21 328.85,278.93 329.15,278.84" fill="none" stroke="#1e1e1e" stroke-width="2.05" stroke-linejoin="round"/>
<line x1="329.3" y1="278.84" x2="332.9" y2="278.84" stroke="#444" stroke-width="0.7"/>
<line x1="332.9" y1="267.5" x2="332.9" y2="284.4" stroke="#2a2a2a" stroke-width="1"/>
<line x1="332.9" y1="278.84" x2="334" y2="288.4" stroke="#2a2a2a" stroke-width="1"/>
<polyline points="334,288.4 334.3,287.06 334.6,285.78 334.9,284.64 335.2,283.9 335.5,283.33 335.8,282.6 336.1,281.78 336.4,281.24" fill="none" stroke="#1e1e1e" stroke-width="1.3" stroke-linejoin="round"/>
<polyline points="336.4,281.24 336.7,280.92 337,280.94 337.3,281.03 337.6,281.05 337.9,280.51 338.2,280.09 338.5,279.9 338.8,279.7 339.1,280.13 339.4,279.01 339.7,278.24 340,279.24 340.3,279.67 340.6,279.05 340.9,278.69 341.2,279.4 341.5,279.04 341.8,277.92 342.1,277.92 342.4,278.16 342.7,278.52 343,278.63 343.3,279.05 343.6,279.41 343.9,278.38 344.2,278.11 344.5,277.98 344.8,278.32 345.1,279.31 345.4,279.06 345.7,278.83 346,278.53 346.3,278.28 346.6,279.54 346.9,278.86 347.2,278.44 347.5,279.43 347.8,278.21 348.1,277.19 348.4,277.54 348.7,278.47 349,278.67 349.3,278.23 349.6,278.66 349.9,278.77 350.2,278.58 350.5,278.4 350.8,278.75 351.1,278.57 351.4,278.78 351.7,278.94 352,277.98 352.3,278.36 352.6,278.84 352.9,277.82 353.2,277.72 353.5,277.97 353.8,277.56 354.1,278.38 354.4,278.37 354.7,278.2 355,278.38 355.3,279 355.6,279.1 355.9,277.89" fill="none" stroke="#1e1e1e" stroke-width="2.05" stroke-linejoin="round"/>
<line x1="356.05" y1="277.89" x2="359.65" y2="277.89" stroke="#444" stroke-width="0.7"/>
<line x1="359.65" y1="267.5" x2="359.65" y2="282.6" stroke="#2a2a2a" stroke-width="1"/>
<line x1="359.65" y1="277.89" x2="360.75" y2="286.6" stroke="#2a2a2a" stroke-width="1"/>
<polyline points="360.75,286.6 361.05,285.44 361.35,284.38 361.65,283.63 361.95,283.04 362.25,282.61 362.55,282.17 362.85,281.54 363.15,281.22" fill="none" stroke="#1e1e1e" stroke-width="1.3" stroke-linejoin="round"/>
<polyline points="363.15,281.22 363.45,280.81 363.75,280.53 364.05,280.63 364.35,280.61 364.65,279.9 364.95,278.75 365.25,278.5 365.55,279.18 365.85,278.42 366.15,278.03 366.45,279.09 366.75,278.98 367.05,278.31 367.35,279.15 367.65,280.08 367.95,279.25 368.25,279.19 368.55,279.76 368.85,278.77 369.15,279.28 369.45,279.33 369.75,278.17 370.05,278.08 370.35,278.2 370.65,278.1 370.95,278.05 371.25,278.96 371.55,279.04 371.85,278.5 372.15,279.01 372.45,278.75 372.75,278.52 373.05,278.74 373.35,278.44 373.65,278.56 373.95,278.52 374.25,278.48 374.55,278.12 374.85,277.91 375.15,278.38 375.45,278.56 375.75,277.93 376.05,277.69 376.35,277.87 376.65,278.12 376.95,278.45 377.25,278.51 377.55,278.18 377.85,278.15 378.15,277.86 378.45,276.73 378.75,277.24 379.05,277.72 379.35,277.37 379.65,277.54 379.95,278.15 380.25,278.14 380.55,278 380.85,278.28 381.15,277.69 381.45,277.26 381.75,277.92 382.05,278.68 382.35,278.8 382.65,279.36 382.95,279.16 383.25,278.56 383.55,278.4 383.85,278.33 384.15,278.24 384.45,277.85 384.75,278.76 385.05,278.38 385.35,277.71 385.65,278.6 385.95,278.56 386.25,278.01 386.55,277.88 386.85,278.07 387.15,277.72 387.45,277.88 387.75,278.14 388.05,277.94 388.35,278.37 388.65,278.17 388.95,278.07 389.25,278.25 389.55,278.24 389.85,278.5 390.15,278.43 390.45,278.02 390.75,277.63 391.05,277.67 391.35,278.04 391.65,278.66 391.95,279.01 392.25,278.53 392.55,278.14 392.85,277.71 393.15,276.81 393.45,277.1 393.75,277.7 394.05,277.44 394.35,277 394.65,277.81 394.95,278.19 395.25,277.33 395.55,278.54 395.85,279.26 396.15,278.24 396.45,278.43" fill="none" stroke="#1e1e1e" stroke-width="2.05" stroke-linejoin="round"/>
<line x1="359.7" y1="292.6" x2="359.7" y2="295.2" stroke="#1e1e1e" stroke-width="1.1"/>
<polygon points="359.7,289.1 357.4,293.5 362,293.5" fill="#1e1e1e"/>
<polyline points="99.5,319.59 99.8,320.43 100.1,320.02 100.4,318.49 100.7,319.24 101,319.53 101.3,320.35 101.6,319.91 101.9,318.78 102.2,319.76 102.5,320.45 102.8,320.86 103.1,320.75 103.4,321.39 103.7,320.96 104,319.89 104.3,320.6 104.6,320.34 104.9,319.74 105.2,319.67 105.5,319.49 105.8,319.14 106.1,319.19 106.4,318.97 106.7,319.47 107,319.45 107.3,320.35 107.6,322.09 107.9,321.59 108.2,320.59 108.5,319.7 108.8,320.46 109.1,320.87 109.4,320.52 109.7,320.05 110,320.33 110.3,320.29 110.6,319.79 110.9,319.3 111.2,318.9 111.5,320.08 111.8,320.2 112.1,319.7 112.4,320.36 112.7,320.56 113,320.81 113.3,319.58 113.6,319.22 113.9,320.77 114.2,319.66 114.5,318.71 114.8,320 115.1,320.13 115.4,319.33 115.7,320.22 116,320.38" fill="none" stroke="#1e1e1e" stroke-width="2.3" stroke-linejoin="round"/>
<line x1="116" y1="320.3" x2="118.9" y2="320.3" stroke="#444" stroke-width="0.7"/>
<line x1="118.9" y1="311.9" x2="118.9" y2="340.8" stroke="#2a2a2a" stroke-width="1"/>
<line x1="118.9" y1="320.3" x2="120.3" y2="344.8" stroke="#2a2a2a" stroke-width="1"/>
<polyline points="120.3,344.8 120.6,342.57 120.9,340.49 121.2,338.64 121.5,337.3 121.8,335.89 122.1,333.87 122.4,332.7 122.7,332.28" fill="none" stroke="#1e1e1e" stroke-width="1.3" stroke-linejoin="round"/>
<polyline points="122.7,332.28 123,330.8 123.3,330.42 123.6,329.33 123.9,328.81 124.2,328.61 124.5,327.92 124.8,327.64 125.1,326.04 125.4,325.67 125.7,325.93 126,325.76 126.3,325.72 126.6,324.88 126.9,324.39 127.2,324.78 127.5,324.27 127.8,323.42 128.1,322.97 128.4,323.45 128.7,323.98 129,323.22 129.3,322.26 129.6,322.94 129.9,322.74 130.2,322.22 130.5,322.41 130.8,321.58 131.1,321.86 131.4,322.39 131.7,322.82 132,323.71 132.3,323.01 132.6,322.47 132.9,322.89 133.2,322.24 133.5,321.45 133.8,322.23 134.1,322.38 134.4,321.71 134.7,321.7 135,321.62 135.3,321.46 135.6,321.77 135.9,322.46 136.2,321.99 136.5,320.94 136.8,321.08 137.1,321.01 137.4,320.72 137.7,321.75 138,322.87 138.3,322.52 138.6,321.19 138.9,321.33 139.2,320.85 139.5,320.26 139.8,321.7 140.1,322.24 140.4,321.1 140.7,320.16 141,321.01 141.3,321.62 141.6,321.05 141.9,321.21" fill="none" stroke="#1e1e1e" stroke-width="2.05" stroke-linejoin="round"/>
<line x1="142.05" y1="321.21" x2="145.65" y2="321.21" stroke="#444" stroke-width="0.7"/>
<line x1="145.65" y1="311.9" x2="145.65" y2="338.7" stroke="#2a2a2a" stroke-width="1"/>
<line x1="145.65" y1="321.21" x2="147.05" y2="342.7" stroke="#2a2a2a" stroke-width="1"/>
<polyline points="147.05,342.7 147.35,340.62 147.65,338.61 147.95,337.02 148.25,335.69 148.55,334.01 148.85,332.58 149.15,331.75 149.45,330.91" fill="none" stroke="#1e1e1e" stroke-width="1.3" stroke-linejoin="round"/>
<polyline points="149.45,330.91 149.75,330.14 150.05,329.55 150.35,329.02 150.65,328.34 150.95,327.09 151.25,325.96 151.55,325.32 151.85,325.93 152.15,327.15 152.45,326.04 152.75,324.14 153.05,324.46 153.35,324.79 153.65,324.15 153.95,323.78 154.25,323.22 154.55,322.89 154.85,323.69 155.15,324.28 155.45,323.73 155.75,322.87 156.05,322.99 156.35,323.4 156.65,323.31 156.95,322.5 157.25,322.36 157.55,322.94 157.85,322.45 158.15,321.49 158.45,321.9 158.75,322.49 159.05,322.61 159.35,322.45 159.65,321.78 159.95,321.53 160.25,321.33 160.55,321.09 160.85,321.23 161.15,321.38 161.45,321.99 161.75,321.67 162.05,321.19 162.35,321.4 162.65,321.97 162.95,322.27 163.25,321.52 163.55,321.71 163.85,321.86 164.15,321.34 164.45,321.89 164.75,322.32 165.05,322.38 165.35,322.53 165.65,322.15 165.95,321.73 166.25,321 166.55,321.21 166.85,321.64 167.15,321.61 167.45,321.57 167.75,321.03 168.05,320.63 168.35,321.15 168.65,322.03" fill="none" stroke="#1e1e1e" stroke-width="2.05" stroke-linejoin="round"/>
<line x1="168.8" y1="322.03" x2="172.4" y2="322.03" stroke="#444" stroke-width="0.7"/>
<line x1="172.4" y1="311.9" x2="172.4" y2="336.4" stroke="#2a2a2a" stroke-width="1"/>
<line x1="172.4" y1="322.03" x2="173.8" y2="340.4" stroke="#2a2a2a" stroke-width="1"/>
<polyline points="173.8,340.4 174.1,338.55 174.4,336.93 174.7,335.65 175,334.19 175.3,332.69 175.6,331.51 175.9,330.9 176.2,330.46" fill="none" stroke="#1e1e1e" stroke-width="1.3" stroke-linejoin="round"/>
<polyline points="176.2,330.46 176.5,329.16 176.8,327.71 177.1,327.19 177.4,327.64 177.7,327.08 178,326.07 178.3,326.01 178.6,325.32 178.9,324.75 179.2,325.14 179.5,324.53 179.8,323.72 180.1,323.89 180.4,323.95 180.7,323.57 181,323.51 181.3,323.52 181.6,322.93 181.9,322.45 182.2,322.86 182.5,323.43 182.8,323.67 183.1,322.81 183.4,322.62 183.7,323.16 184,322.64 184.3,322.47 184.6,322.73 184.9,323.17 185.2,322.38 185.5,321.87 185.8,322.17 186.1,321.81 186.4,322.26 186.7,322.61 187,321.74 187.3,321.28 187.6,321.72 187.9,321.25 188.2,321.47 188.5,321.95 188.8,321.65 189.1,321.78 189.4,322.39 189.7,322.25 190,321.39 190.3,322.03 190.6,321.95 190.9,321.06 191.2,320.7 191.5,321.3 191.8,321.92 192.1,321.67 192.4,321.61 192.7,321.36 193,320.98 193.3,320.72 193.6,321.18 193.9,321.51 194.2,321.96 194.5,321.61 194.8,320.78 195.1,320.67 195.4,321.38" fill="none" stroke="#1e1e1e" stroke-width="2.05" stroke-linejoin="round"/>
<line x1="195.55" y1="321.38" x2="199.15" y2="321.38" stroke="#444" stroke-width="0.7"/>
<line x1="199.15" y1="311.9" x2="199.15" y2="334.5" stroke="#2a2a2a" stroke-width="1"/>
<line x1="199.15" y1="321.38" x2="200.55" y2="338.5" stroke="#2a2a2a" stroke-width="1"/>
<polyline points="200.55,338.5 200.85,336.8 201.15,335.32 201.45,334.28 201.75,333.03 202.05,331.87 202.35,330.46 202.65,329.24 202.95,328.51" fill="none" stroke="#1e1e1e" stroke-width="1.3" stroke-linejoin="round"/>
<polyline points="202.95,328.51 203.25,327.92 203.55,327.87 203.85,326.94 204.15,326.78 204.45,326.75 204.75,325.77 205.05,325.06 205.35,324.35 205.65,324.16 205.95,325.26 206.25,324.8 206.55,323.91 206.85,323.76 207.15,323.72 207.45,323.92 207.75,323.36 208.05,322.36 208.35,322.11 208.65,323.14 208.95,323.13 209.25,322.8 209.55,322.61 209.85,321.56 210.15,321.83 210.45,322.59 210.75,322.14 211.05,321.8 211.35,322.08 211.65,321.93 211.95,321.9 212.25,322 212.55,320.92 212.85,320.9 213.15,321.53 213.45,321.23 213.75,321.57 214.05,321.67 214.35,321.69 214.65,322.27 214.95,322.09 215.25,321.05 215.55,320.69 215.85,321.61 216.15,321.77 216.45,321.08 216.75,321.13 217.05,321.61 217.35,321.73 217.65,321.76 217.95,321.33 218.25,320.96 218.55,321.16 218.85,321.25 219.15,320.52 219.45,320.43 219.75,320.7 220.05,321.32 220.35,322.42 220.65,322.52 220.95,322.22 221.25,321.38 221.55,321.42 221.85,321.52 222.15,321.38" fill="none" stroke="#1e1e1e" stroke-width="2.05" stroke-linejoin="round"/>
<line x1="222.3" y1="321.38" x2="225.9" y2="321.38" stroke="#444" stroke-width="0.7"/>
<line x1="225.9" y1="311.9" x2="225.9" y2="333.2" stroke="#2a2a2a" stroke-width="1"/>
<line x1="225.9" y1="321.38" x2="227.3" y2="337.2" stroke="#2a2a2a" stroke-width="1"/>
<polyline points="227.3,337.2 227.6,335.63 227.9,334.18 228.2,333.04 228.5,332.3 228.8,331.29 229.1,330.58 229.4,330.61 229.7,328.99" fill="none" stroke="#1e1e1e" stroke-width="1.3" stroke-linejoin="round"/>
<polyline points="229.7,328.99 230,327.43 230.3,326.92 230.6,326.35 230.9,326.04 231.2,325.64 231.5,325.83 231.8,325.86 232.1,325.27 232.4,324.62 232.7,324.31 233,324.12 233.3,324.08 233.6,323.83 233.9,323.63 234.2,322.96 234.5,322.92 234.8,323.96 235.1,323.6 235.4,322.27 235.7,322.61 236,322.93 236.3,321.17 236.6,321.13 236.9,322.44 237.2,322.6 237.5,322.78 237.8,322.81 238.1,322.32 238.4,321.27 238.7,320.74 239,321.52 239.3,322.17 239.6,321.67 239.9,321.13 240.2,321.67 240.5,321.14 240.8,320.18 241.1,320.79 241.4,321.61 241.7,321.49 242,320.48 242.3,320.65 242.6,321 242.9,321.22 243.2,321.68 243.5,321.51 243.8,321.77 244.1,321.45 244.4,321.51 244.7,322.17 245,321.99 245.3,322.01 245.6,321.6 245.9,321.43 246.2,321.76 246.5,321.02 246.8,320.87 247.1,321.04 247.4,320.84 247.7,321.07 248,321.68 248.3,321.52 248.6,321.15 248.9,320.69" fill="none" stroke="#1e1e1e" stroke-width="2.05" stroke-linejoin="round"/>
<line x1="249.05" y1="320.69" x2="252.65" y2="320.69" stroke="#444" stroke-width="0.7"/>
<line x1="252.65" y1="311.9" x2="252.65" y2="331.5" stroke="#2a2a2a" stroke-width="1"/>
<line x1="252.65" y1="320.69" x2="254.05" y2="335.5" stroke="#2a2a2a" stroke-width="1"/>
<polyline points="254.05,335.5 254.35,334.13 254.65,333 254.95,332.02 255.25,331 255.55,329.9 255.85,328.77 256.15,328.11 256.45,327.31" fill="none" stroke="#1e1e1e" stroke-width="1.3" stroke-linejoin="round"/>
<polyline points="256.45,327.31 256.75,326.28 257.05,326.53 257.35,326.18 257.65,326.08 257.95,325.5 258.25,324.63 258.55,324.41 258.85,324.03 259.15,323.82 259.45,323.54 259.75,323.66 260.05,323.28 260.35,323.36 260.65,323.96 260.95,323.39 261.25,323.01 261.55,323.15 261.85,322.68 262.15,323.39 262.45,322.47 262.75,321.28 263.05,321.34 263.35,321.4 263.65,321.94 263.95,323.47 264.25,323.63 264.55,322.8 264.85,323.12 265.15,322.21 265.45,321.85 265.75,322.62 266.05,322.46 266.35,321.86 266.65,321.96 266.95,321.26 267.25,320.73 267.55,321.41 267.85,321.9 268.15,321.4 268.45,321.04 268.75,321.32 269.05,321.37 269.35,321.66 269.65,321.74 269.95,321.52 270.25,320.91 270.55,320.43 270.85,321.08 271.15,320.86 271.45,320.82 271.75,321.17 272.05,320.74 272.35,321.23 272.65,321.27 272.95,320.68 273.25,320.67 273.55,321.01 273.85,322.32 274.15,321.47 274.45,320.39 274.75,321.11 275.05,321.47 275.35,321.42 275.65,320.09" fill="none" stroke="#1e1e1e" stroke-width="2.05" stroke-linejoin="round"/>
<line x1="275.8" y1="320.09" x2="279.4" y2="320.09" stroke="#444" stroke-width="0.7"/>
<line x1="279.4" y1="311.9" x2="279.4" y2="330.2" stroke="#2a2a2a" stroke-width="1"/>
<line x1="279.4" y1="320.09" x2="280.8" y2="334.2" stroke="#2a2a2a" stroke-width="1"/>
<polyline points="280.8,334.2 281.1,333 281.4,331.85 281.7,330.69 282,329.7 282.3,328.64 282.6,328.01 282.9,327.83 283.2,327.66" fill="none" stroke="#1e1e1e" stroke-width="1.3" stroke-linejoin="round"/>
<polyline points="283.2,327.66 283.5,326.69 283.8,326.09 284.1,325.75 284.4,325.21 284.7,325.06 285,324.94 285.3,324.36 285.6,323.81 285.9,323.89 286.2,323.77 286.5,323.18 286.8,323.63 287.1,323.6 287.4,323.09 287.7,323.21 288,323.27 288.3,322.23 288.6,322.45 288.9,323.12 289.2,321.76 289.5,321.81 289.8,323.09 290.1,323.17 290.4,321.76 290.7,321.32 291,322.26 291.3,321.85 291.6,321.22 291.9,321.6 292.2,322.47 292.5,322.43 292.8,322.07 293.1,321.88 293.4,321.03 293.7,321.65 294,322.18 294.3,321.1 294.6,321.08 294.9,321.97 295.2,321.47 295.5,321.28 295.8,321.6 296.1,321.31 296.4,320.96 296.7,320.88 297,320.98 297.3,320.71 297.6,320.79 297.9,320.71 298.2,320.74 298.5,321.27 298.8,320.83 299.1,321.18 299.4,322.32 299.7,322.49 300,321.2 300.3,321.18 300.6,321.78 300.9,321.26 301.2,320.93 301.5,320.94 301.8,321.7 302.1,321.91 302.4,321.2" fill="none" stroke="#1e1e1e" stroke-width="2.05" stroke-linejoin="round"/>
<line x1="302.55" y1="321.2" x2="306.15" y2="321.2" stroke="#444" stroke-width="0.7"/>
<line x1="306.15" y1="311.9" x2="306.15" y2="329.7" stroke="#2a2a2a" stroke-width="1"/>
<line x1="306.15" y1="321.2" x2="307.55" y2="333.7" stroke="#2a2a2a" stroke-width="1"/>
<polyline points="307.55,333.7 307.85,332.47 308.15,331.33 308.45,330.47 308.75,329.96 309.05,328.95 309.35,327.85 309.65,327.36 309.95,326.55" fill="none" stroke="#1e1e1e" stroke-width="1.3" stroke-linejoin="round"/>
<polyline points="309.95,326.55 310.25,326.26 310.55,326.29 310.85,325.18 311.15,324.19 311.45,324.86 311.75,325.08 312.05,324.54 312.35,323.98 312.65,323.4 312.95,323.57 313.25,323.34 313.55,322.56 313.85,322.6 314.15,323.24 314.45,322.71 314.75,322.65 315.05,323.21 315.35,322.38 315.65,322.02 315.95,322.25 316.25,322.42 316.55,322.62 316.85,321.81 317.15,320.97 317.45,321.81 317.75,322.32 318.05,322.04 318.35,322.08 318.65,322.47 318.95,321.84 319.25,321.63 319.55,321.75 319.85,321.57 320.15,322.38 320.45,321.54 320.75,321.15 321.05,321.55 321.35,321.26 321.65,321.36 321.95,321.05 322.25,320.64 322.55,321.28 322.85,321.96 323.15,321.47 323.45,320.57 323.75,321.66 324.05,322.63 324.35,321.86 324.65,321.03 324.95,320.65 325.25,321.13 325.55,320.98 325.85,321.49 326.15,321.9 326.45,321.42 326.75,320.97 327.05,320.46 327.35,320.54 327.65,320.99 327.95,321.18 328.25,320.96 328.55,321.17 328.85,321.36 329.15,321.8" fill="none" stroke="#1e1e1e" stroke-width="2.05" stroke-linejoin="round"/>
<line x1="329.3" y1="321.8" x2="332.9" y2="321.8" stroke="#444" stroke-width="0.7"/>
<line x1="332.9" y1="311.9" x2="332.9" y2="328.1" stroke="#2a2a2a" stroke-width="1"/>
<line x1="332.9" y1="321.8" x2="334.3" y2="332.1" stroke="#2a2a2a" stroke-width="1"/>
<polyline points="334.3,332.1 334.6,331.04 334.9,330.01 335.2,329.14 335.5,328.72 335.8,327.99 336.1,327.08 336.4,326.57 336.7,326.17" fill="none" stroke="#1e1e1e" stroke-width="1.3" stroke-linejoin="round"/>
<polyline points="336.7,326.17 337,325.93 337.3,325.09 337.6,324.54 337.9,324.89 338.2,325.1 338.5,324.83 338.8,324.5 339.1,323.8 339.4,323.13 339.7,323.43 340,322.96 340.3,322.44 340.6,322.04 340.9,321.79 341.2,322.12 341.5,321.7 341.8,322.1 342.1,322.19 342.4,321.75 342.7,321.86 343,321.66 343.3,322.24 343.6,322.27 343.9,321.75 344.2,321.39 344.5,321.09 344.8,321.42 345.1,321.45 345.4,321.31 345.7,321.45 346,322.24 346.3,322.1 346.6,321.43 346.9,321.3 347.2,322.3 347.5,323.04 347.8,322.26 348.1,321.9 348.4,321.39 348.7,321.05 349,321.38 349.3,321.47 349.6,321.05 349.9,320.69 350.2,321.2 350.5,321.6 350.8,320.59 351.1,320.49 351.4,321.77 351.7,321.48 352,321.07 352.3,320.76 352.6,320.97 352.9,321.09 353.2,320.29 353.5,320.58 353.8,321.96 354.1,321.84 354.4,320.45 354.7,320.85 355,321.41 355.3,321.86 355.6,321.28 355.9,320.04" fill="none" stroke="#1e1e1e" stroke-width="2.05" stroke-linejoin="round"/>
<line x1="356.05" y1="320.04" x2="359.65" y2="320.04" stroke="#444" stroke-width="0.7"/>
<line x1="359.65" y1="311.9" x2="359.65" y2="327" stroke="#2a2a2a" stroke-width="1"/>
<line x1="359.65" y1="320.04" x2="361.05" y2="331" stroke="#2a2a2a" stroke-width="1"/>
<polyline points="361.05,331 361.35,330.04 361.65,329.21 361.95,328.52 362.25,327.97 362.55,327.06 362.85,326.06 363.15,325.83 363.45,325.86" fill="none" stroke="#1e1e1e" stroke-width="1.3" stroke-linejoin="round"/>
<polyline points="363.45,325.86 363.75,325.69 364.05,324.9 364.35,324 364.65,324.2 364.95,324.69 365.25,325.15 365.55,324.5 365.85,323.89 366.15,323.32 366.45,322.33 366.75,322.39 367.05,322.28 367.35,322.09 367.65,321.94 367.95,322.16 368.25,322.1 368.55,322.29 368.85,322.35 369.15,322.03 369.45,322.55 369.75,322.61 370.05,322.06 370.35,321.88 370.65,321.8 370.95,321.98 371.25,321.61 371.55,321.79 371.85,322.66 372.15,322.63 372.45,321.81 372.75,320.74 373.05,320.73 373.35,321.37 373.65,321.83 373.95,321.68 374.25,321.23 374.55,321.86 374.85,321.7 375.15,321.51 375.45,322.09 375.75,321.16 376.05,320.91 376.35,321.19 376.65,320.71 376.95,320.2 377.25,319.96 377.55,320.81 377.85,321.24 378.15,321.18 378.45,320.91 378.75,320.68 379.05,320.97 379.35,320.5 379.65,319.96 379.95,320.71 380.25,321.39 380.55,320.86 380.85,320.76 381.15,321.36 381.45,322.09 381.75,321.49 382.05,321.02 382.35,322.16 382.65,321.95 382.95,321.69 383.25,320.68 383.55,320.67 383.85,321.64 384.15,320.37 384.45,320.67 384.75,321.78 385.05,321.94 385.35,321.99 385.65,321.52 385.95,320.77 386.25,320.6 386.55,320.87 386.85,321.2 387.15,321.03 387.45,320.89 387.75,321.4 388.05,321.5 388.35,322.04 388.65,322.74 388.95,321.42 389.25,320.38 389.55,320.32 389.85,320.09 390.15,320.79 390.45,320.86 390.75,320.25 391.05,320.52 391.35,321.23 391.65,321.19 391.95,320.75 392.25,321.23 392.55,321.55 392.85,321.37 393.15,321.55 393.45,320.99 393.75,320.71 394.05,320.85 394.35,321.16 394.65,321.71 394.95,320.92 395.25,321.12 395.55,321.07 395.85,321 396.15,321.53 396.45,320.75" fill="none" stroke="#1e1e1e" stroke-width="2.05" stroke-linejoin="round"/>
<line x1="359.7" y1="339.8" x2="359.7" y2="342.4" stroke="#1e1e1e" stroke-width="1.1"/>
<polygon points="359.7,336.3 357.4,340.7 362,340.7" fill="#1e1e1e"/>
<polyline points="99.5,366.2 99.8,366.01 100.1,366.56 100.4,366.33 100.7,366.62 101,366.24 101.3,365.93 101.6,366.64 101.9,365.65 102.2,365.79 102.5,366.09 102.8,364.61 103.1,364.93 103.4,366.1 103.7,366.87 104,366.72 104.3,367 104.6,367.98 104.9,367.77 105.2,367.69 105.5,367.28 105.8,366.28 106.1,366.42 106.4,367.2 106.7,366.97 107,366.32 107.3,365.35 107.6,365.82 107.9,366.8 108.2,365.75 108.5,365.6 108.8,366.64 109.1,366.51 109.4,366.53 109.7,366.96 110,365.76 110.3,365.19 110.6,366.2 110.9,366.82 111.2,367.28 111.5,365.78 111.8,364.99 112.1,366.35 112.4,367.01 112.7,367.5 113,366.35 113.3,365.26 113.6,365.18 113.9,365.78 114.2,365.62 114.5,365.8 114.8,366.96 115.1,366.58 115.4,364.93 115.7,364.31 116,365.82" fill="none" stroke="#1e1e1e" stroke-width="2.3" stroke-linejoin="round"/>
<line x1="116" y1="365.8" x2="118.9" y2="365.8" stroke="#444" stroke-width="0.7"/>
<line x1="118.9" y1="356.4" x2="118.9" y2="377.8" stroke="#2a2a2a" stroke-width="1"/>
<line x1="118.9" y1="365.8" x2="119.6" y2="381.8" stroke="#2a2a2a" stroke-width="1"/>
<polyline points="119.6,381.8 119.9,379.14 120.2,376.96 120.5,375.35 120.8,374.13 121.1,373.11 121.4,372.09 121.7,371.16 122,370.45" fill="none" stroke="#1e1e1e" stroke-width="1.3" stroke-linejoin="round"/>
<polyline points="122,370.45 122.3,370.02 122.6,369.87 122.9,369.49 123.2,369.3 123.5,368.46 123.8,368.3 124.1,368.7 124.4,368.51 124.7,368.46 125,368.23 125.3,368.65 125.6,368.01 125.9,367.38 126.2,367.44 126.5,367.42 126.8,366.79 127.1,366.58 127.4,367.05 127.7,366.76 128,366.73 128.3,366.4 128.6,366.97 128.9,367.69 129.2,367.84 129.5,367.3 129.8,366.1 130.1,366.51 130.4,366.29 130.7,366.24 131,366.59 131.3,366.35 131.6,366.69 131.9,366.82 132.2,367.42 132.5,367.62 132.8,366.4 133.1,366.51 133.4,366.48 133.7,366.12 134,366.14 134.3,365.78 134.6,366.75 134.9,366.84 135.2,366.08 135.5,366.07 135.8,366.19 136.1,366.95 136.4,366.61 136.7,365.57 137,366.24 137.3,366.09 137.6,365.72 137.9,366.76 138.2,366.9 138.5,366.27 138.8,366 139.1,365.82 139.4,365.86 139.7,366.26 140,366.96 140.3,367.28 140.6,366.58 140.9,365.92 141.2,366.4 141.5,365.98 141.8,365.55" fill="none" stroke="#1e1e1e" stroke-width="2.05" stroke-linejoin="round"/>
<line x1="142.05" y1="365.55" x2="145.65" y2="365.55" stroke="#444" stroke-width="0.7"/>
<line x1="145.65" y1="356.4" x2="145.65" y2="374.3" stroke="#2a2a2a" stroke-width="1"/>
<line x1="145.65" y1="365.55" x2="146.35" y2="378.3" stroke="#2a2a2a" stroke-width="1"/>
<polyline points="146.35,378.3 146.65,376.27 146.95,374.55 147.25,373.1 147.55,372.17 147.85,371.15 148.15,370.1 148.45,369.68 148.75,369.44" fill="none" stroke="#1e1e1e" stroke-width="1.3" stroke-linejoin="round"/>
<polyline points="148.75,369.44 149.05,368.77 149.35,368.77 149.65,368.9 149.95,368.15 150.25,367.93 150.55,367.6 150.85,367.21 151.15,367.78 151.45,368.12 151.75,367.54 152.05,367.76 152.35,367.45 152.65,367.23 152.95,367.45 153.25,366.81 153.55,367.04 153.85,366.76 154.15,366.67 154.45,366.87 154.75,366.73 155.05,367.57 155.35,367.59 155.65,366.8 155.95,366.55 156.25,366.61 156.55,366.14 156.85,365.84 157.15,366.28 157.45,366.89 157.75,366.18 158.05,365.93 158.35,366.78 158.65,366.83 158.95,366.24 159.25,366.58 159.55,366.48 159.85,366.32 160.15,367.39 160.45,366.35 160.75,365.82 161.05,366.71 161.35,366.69 161.65,366.27 161.95,366.05 162.25,365.8 162.55,365.97 162.85,366.7 163.15,366.39 163.45,365.82 163.75,365.89 164.05,366.23 164.35,366.43 164.65,366.39 164.95,366.39 165.25,365.92 165.55,364.85 165.85,365.58 166.15,367.16 166.45,366.38 166.75,365.58 167.05,366.23 167.35,366.85 167.65,366.98 167.95,367.1 168.25,366.83 168.55,366.5" fill="none" stroke="#1e1e1e" stroke-width="2.05" stroke-linejoin="round"/>
<line x1="168.8" y1="366.5" x2="172.4" y2="366.5" stroke="#444" stroke-width="0.7"/>
<line x1="172.4" y1="356.4" x2="172.4" y2="371.7" stroke="#2a2a2a" stroke-width="1"/>
<line x1="172.4" y1="366.5" x2="173.1" y2="375.7" stroke="#2a2a2a" stroke-width="1"/>
<polyline points="173.1,375.7 173.4,374.14 173.7,372.84 174,371.9 174.3,371.25 174.6,370.59 174.9,369.86 175.2,369.43 175.5,368.87" fill="none" stroke="#1e1e1e" stroke-width="1.3" stroke-linejoin="round"/>
<polyline points="175.5,368.87 175.8,368.33 176.1,367.45 176.4,366.7 176.7,367.79 177,367.85 177.3,367.5 177.6,366.94 177.9,367.36 178.2,368.12 178.5,367.44 178.8,367.3 179.1,367.38 179.4,367.7 179.7,367.61 180,366.46 180.3,366.24 180.6,367.25 180.9,367.53 181.2,366.85 181.5,366.84 181.8,367.02 182.1,366.99 182.4,366.32 182.7,365.72 183,366.56 183.3,366.8 183.6,366.66 183.9,367.47 184.2,367.2 184.5,366.53 184.8,366.43 185.1,366.08 185.4,366.26 185.7,365.93 186,365.15 186.3,366.21 186.6,366.96 186.9,366.86 187.2,366.93 187.5,366.56 187.8,366.76 188.1,366.97 188.4,366.25 188.7,366.43 189,366.51 189.3,366.12 189.6,367.46 189.9,367.41 190.2,367.06 190.5,366.9 190.8,366.49 191.1,366.64 191.4,366.56 191.7,366.21 192,365.7 192.3,366.15 192.6,365.9 192.9,365.45 193.2,366.29 193.5,366.37 193.8,365.79 194.1,365.6 194.4,365.99 194.7,366.27 195,366.27 195.3,366.34" fill="none" stroke="#1e1e1e" stroke-width="2.05" stroke-linejoin="round"/>
<line x1="195.55" y1="366.34" x2="199.15" y2="366.34" stroke="#444" stroke-width="0.7"/>
<line x1="199.15" y1="356.4" x2="199.15" y2="370" stroke="#2a2a2a" stroke-width="1"/>
<line x1="199.15" y1="366.34" x2="199.85" y2="374" stroke="#2a2a2a" stroke-width="1"/>
<polyline points="199.85,374 200.15,372.78 200.45,371.77 200.75,370.54 201.05,369.85 201.35,369.59 201.65,369.14 201.95,368.34 202.25,368.27" fill="none" stroke="#1e1e1e" stroke-width="1.3" stroke-linejoin="round"/>
<polyline points="202.25,368.27 202.55,368.53 202.85,367.91 203.15,367.14 203.45,367.19 203.75,367.63 204.05,367.86 204.35,367.63 204.65,366.57 204.95,366.7 205.25,366.76 205.55,366.81 205.85,366.7 206.15,366.45 206.45,366.73 206.75,366.73 207.05,366.59 207.35,366.26 207.65,366.41 207.95,366.47 208.25,366.53 208.55,366.62 208.85,365.69 209.15,365.75 209.45,367.11 209.75,367.23 210.05,366.91 210.35,366.96 210.65,366.54 210.95,365.85 211.25,366.32 211.55,367.21 211.85,367.11 212.15,366.86 212.45,366.79 212.75,366.61 213.05,366.55 213.35,366.56 213.65,366.57 213.95,366.2 214.25,365.84 214.55,366.4 214.85,366.51 215.15,365.38 215.45,365.55 215.75,365.59 216.05,366.26 216.35,367.38 216.65,366.91 216.95,366.39 217.25,365.71 217.55,365.88 217.85,366.31 218.15,366.09 218.45,366.14 218.75,366.69 219.05,366.85 219.35,366.2 219.65,365.16 219.95,365.55 220.25,366.11 220.55,366.28 220.85,367.14 221.15,367.58 221.45,367.07 221.75,366.87 222.05,367.38" fill="none" stroke="#1e1e1e" stroke-width="2.05" stroke-linejoin="round"/>
<line x1="222.3" y1="367.38" x2="225.9" y2="367.38" stroke="#444" stroke-width="0.7"/>
<line x1="225.9" y1="356.4" x2="225.9" y2="368.4" stroke="#2a2a2a" stroke-width="1"/>
<line x1="225.9" y1="367.38" x2="226.6" y2="372.4" stroke="#2a2a2a" stroke-width="1"/>
<polyline points="226.6,372.4 226.9,371.38 227.2,370.58 227.5,370.01 227.8,369.46 228.1,368.8 228.4,368.25 228.7,368.04 229,367.8" fill="none" stroke="#1e1e1e" stroke-width="1.3" stroke-linejoin="round"/>
<polyline points="229,367.8 229.3,367.84 229.6,367.78 229.9,367.89 230.2,368.34 230.5,367.24 230.8,367.1 231.1,367.34 231.4,367.38 231.7,367.67 232,367.09 232.3,367.11 232.6,366.88 232.9,366.71 233.2,367.03 233.5,366.83 233.8,366.8 234.1,366.46 234.4,366.5 234.7,366.41 235,366.41 235.3,367.02 235.6,367.03 235.9,366.64 236.2,367.49 236.5,367.6 236.8,366.52 237.1,366.31 237.4,366.77 237.7,366.87 238,366.7 238.3,366.51 238.6,366.25 238.9,366.46 239.2,366.68 239.5,366.7 239.8,366.03 240.1,366.3 240.4,366.18 240.7,365.65 241,366.37 241.3,366.03 241.6,366.02 241.9,366.56 242.2,365.94 242.5,366.17 242.8,366.74 243.1,366.43 243.4,366.13 243.7,366.64 244,366.98 244.3,366.67 244.6,366.1 244.9,365.77 245.2,365.83 245.5,366.43 245.8,366.86 246.1,366.72 246.4,367.02 246.7,366.8 247,366.14 247.3,366.11 247.6,366.95 247.9,366.34 248.2,365.74 248.5,366.66 248.8,366.58" fill="none" stroke="#1e1e1e" stroke-width="2.05" stroke-linejoin="round"/>
<line x1="249.05" y1="366.58" x2="252.65" y2="366.58" stroke="#444" stroke-width="0.7"/>
<line x1="252.65" y1="356.4" x2="252.65" y2="367.8" stroke="#2a2a2a" stroke-width="1"/>
<line x1="252.65" y1="366.58" x2="253.35" y2="371.8" stroke="#2a2a2a" stroke-width="1"/>
<polyline points="253.35,371.8 253.65,370.97 253.95,370.4 254.25,369.76 254.55,369.04 254.85,368.59 255.15,368.37 255.45,367.99 255.75,367.93" fill="none" stroke="#1e1e1e" stroke-width="1.3" stroke-linejoin="round"/>
<polyline points="255.75,367.93 256.05,367.58 256.35,367.58 256.65,368.23 256.95,368.27 257.25,367.66 257.55,366.5 257.85,366.75 258.15,367.79 258.45,367.27 258.75,366.66 259.05,366.93 259.35,366.78 259.65,366.8 259.95,366.67 260.25,366.01 260.55,366.39 260.85,366.17 261.15,366.15 261.45,366.86 261.75,366.36 262.05,366.49 262.35,366.75 262.65,366.6 262.95,366.87 263.25,366.49 263.55,366.21 263.85,365.74 264.15,365.67 264.45,366 264.75,366.85 265.05,367.5 265.35,366.39 265.65,366.3 265.95,366.88 266.25,366.44 266.55,366.52 266.85,366.94 267.15,366.56 267.45,366.17 267.75,366.43 268.05,366.17 268.35,366.17 268.65,366.5 268.95,366.18 269.25,365.9 269.55,366.25 269.85,366.88 270.15,366.88 270.45,366.25 270.75,366.4 271.05,366.77 271.35,366.71 271.65,367.07 271.95,366.52 272.25,366.05 272.55,366.16 272.85,365.89 273.15,366.83 273.45,367.49 273.75,366.12 274.05,365.93 274.35,366.37 274.65,366.63 274.95,366.86 275.25,366.38 275.55,366.4" fill="none" stroke="#1e1e1e" stroke-width="2.05" stroke-linejoin="round"/>
<line x1="275.8" y1="366.4" x2="279.4" y2="366.4" stroke="#444" stroke-width="0.7"/>
<line x1="279.4" y1="356.4" x2="279.4" y2="367.2" stroke="#2a2a2a" stroke-width="1"/>
<line x1="279.4" y1="366.4" x2="280.1" y2="371.2" stroke="#2a2a2a" stroke-width="1"/>
<polyline points="280.1,371.2 280.4,370.4 280.7,369.76 281,369.18 281.3,368.72 281.6,368.49 281.9,368 282.2,367.62 282.5,367.67" fill="none" stroke="#1e1e1e" stroke-width="1.3" stroke-linejoin="round"/>
<polyline points="282.5,367.67 282.8,367.35 283.1,367.51 283.4,367.1 283.7,366.61 284,366.69 284.3,366.95 284.6,367.03 284.9,366.8 285.2,367.06 285.5,366.42 285.8,366.41 286.1,366.69 286.4,366.4 286.7,366.61 287,366.97 287.3,367.26 287.6,367.59 287.9,367.37 288.2,366.54 288.5,366.27 288.8,366.67 289.1,367.42 289.4,367.3 289.7,366.49 290,366.46 290.3,366.75 290.6,366.65 290.9,366.28 291.2,365.34 291.5,365.41 291.8,366.7 292.1,366.97 292.4,365.78 292.7,365.7 293,365.82 293.3,366.54 293.6,367.27 293.9,366.11 294.2,366.32 294.5,366.47 294.8,366.38 295.1,366.67 295.4,366.04 295.7,366.27 296,366.21 296.3,366.45 296.6,366.95 296.9,366.09 297.2,365.41 297.5,366.37 297.8,367.55 298.1,366.5 298.4,366.57 298.7,367.09 299,366.41 299.3,366.31 299.6,366.3 299.9,366.85 300.2,367 300.5,365.81 300.8,366.51 301.1,367.5 301.4,366.34 301.7,365.89 302,365.96 302.3,366.1" fill="none" stroke="#1e1e1e" stroke-width="2.05" stroke-linejoin="round"/>
<line x1="302.55" y1="366.1" x2="306.15" y2="366.1" stroke="#444" stroke-width="0.7"/>
<line x1="306.15" y1="356.4" x2="306.15" y2="366.6" stroke="#2a2a2a" stroke-width="1"/>
<line x1="306.15" y1="366.1" x2="306.85" y2="370.6" stroke="#2a2a2a" stroke-width="1"/>
<polyline points="306.85,370.6 307.15,369.9 307.45,369.36 307.75,368.81 308.05,368.27 308.35,368.18 308.65,368.08 308.95,368.26 309.25,367.97" fill="none" stroke="#1e1e1e" stroke-width="1.3" stroke-linejoin="round"/>
<polyline points="309.25,367.97 309.55,367.4 309.85,367.59 310.15,366.93 310.45,367.33 310.75,367.58 311.05,366.7 311.35,366.49 311.65,367.13 311.95,366.77 312.25,366.86 312.55,367.52 312.85,366.9 313.15,367.11 313.45,367.83 313.75,367.53 314.05,366.94 314.35,367.38 314.65,367.84 314.95,366.82 315.25,366.19 315.55,366.43 315.85,366.35 316.15,365.87 316.45,366.34 316.75,366.91 317.05,366.6 317.35,367.08 317.65,366.83 317.95,366.29 318.25,366.59 318.55,366.44 318.85,366.3 319.15,366.73 319.45,366.76 319.75,366.96 320.05,366.69 320.35,366.27 320.65,366.02 320.95,365.9 321.25,366.16 321.55,366.7 321.85,367.22 322.15,366.91 322.45,367.31 322.75,367.65 323.05,367.23 323.35,366.45 323.65,365.66 323.95,365.89 324.25,366.29 324.55,366.06 324.85,366.09 325.15,365.72 325.45,366.37 325.75,366.55 326.05,365.76 326.35,366.38 326.65,366.03 326.95,366.16 327.25,367.1 327.55,366.65 327.85,365.91 328.15,365.85 328.45,365.56 328.75,366.24 329.05,366.94" fill="none" stroke="#1e1e1e" stroke-width="2.05" stroke-linejoin="round"/>
<line x1="329.3" y1="366.94" x2="332.9" y2="366.94" stroke="#444" stroke-width="0.7"/>
<line x1="332.9" y1="356.4" x2="332.9" y2="366.2" stroke="#2a2a2a" stroke-width="1"/>
<line x1="332.9" y1="366.94" x2="333.6" y2="370.2" stroke="#2a2a2a" stroke-width="1"/>
<polyline points="333.6,370.2 333.9,369.53 334.2,368.92 334.5,368.58 334.8,368.58 335.1,368.04 335.4,367.37 335.7,366.99 336,367.12" fill="none" stroke="#1e1e1e" stroke-width="1.3" stroke-linejoin="round"/>
<polyline points="336,367.12 336.3,367.59 336.6,368.09 336.9,367.9 337.2,366.84 337.5,366.56 337.8,366.98 338.1,366.59 338.4,366.51 338.7,367.17 339,366.67 339.3,366.22 339.6,366.77 339.9,367.77 340.2,367.19 340.5,366.68 340.8,367.47 341.1,367.03 341.4,366.29 341.7,366.05 342,366.08 342.3,366.49 342.6,366.38 342.9,366.12 343.2,365.68 343.5,365.45 343.8,365.67 344.1,366.39 344.4,366.56 344.7,366 345,366.43 345.3,366.94 345.6,366.42 345.9,365.97 346.2,366.49 346.5,366.85 346.8,366.29 347.1,366.24 347.4,366.54 347.7,366.86 348,366.54 348.3,366.46 348.6,366.93 348.9,366.23 349.2,366.46 349.5,367.17 349.8,366.29 350.1,366.68 350.4,366.74 350.7,365.67 351,365.97 351.3,366.59 351.6,366.93 351.9,366.61 352.2,366.9 352.5,367.08 352.8,367.09 353.1,367.99 353.4,367.54 353.7,365.53 354,365.29 354.3,365.85 354.6,366.05 354.9,366.48 355.2,365.99 355.5,365.52 355.8,365.88" fill="none" stroke="#1e1e1e" stroke-width="2.05" stroke-linejoin="round"/>
<line x1="356.05" y1="365.88" x2="359.65" y2="365.88" stroke="#444" stroke-width="0.7"/>
<line x1="359.65" y1="356.4" x2="359.65" y2="365.8" stroke="#2a2a2a" stroke-width="1"/>
<line x1="359.65" y1="365.88" x2="360.35" y2="369.8" stroke="#2a2a2a" stroke-width="1"/>
<polyline points="360.35,369.8 360.65,369.22 360.95,368.55 361.25,368.2 361.55,368.23 361.85,367.84 362.15,367.7 362.45,367.27 362.75,367.01" fill="none" stroke="#1e1e1e" stroke-width="1.3" stroke-linejoin="round"/>
<polyline points="362.75,367.01 363.05,367.55 363.35,367.91 363.65,367.62 363.95,367.04 364.25,366.5 364.55,367.06 364.85,367.52 365.15,366.83 365.45,365.78 365.75,365.58 366.05,365.65 366.35,366.42 366.65,367.2 366.95,366.43 367.25,366.24 367.55,367.49 367.85,368.04 368.15,366.54 368.45,366.01 368.75,366.05 369.05,365.43 369.35,365.96 369.65,367.52 369.95,368.04 370.25,367.13 370.55,366.39 370.85,366.44 371.15,366.97 371.45,366.33 371.75,365.22 372.05,366.49 372.35,367.3 372.65,367.19 372.95,367.17 373.25,367.12 373.55,366.79 373.85,366.41 374.15,367.24 374.45,367.44 374.75,366.66 375.05,366.61 375.35,366.53 375.65,365.64 375.95,366.09 376.25,367.17 376.55,367.3 376.85,366.27 377.15,366.28 377.45,367.02 377.75,366.51 378.05,365.29 378.35,365.86 378.65,367.15 378.95,366.95 379.25,365.94 379.55,365.18 379.85,366.23 380.15,367.12 380.45,366.92 380.75,366.51 381.05,366.47 381.35,366.36 381.65,366.08 381.95,365.96 382.25,366.18 382.55,366.35 382.85,366.62 383.15,367.06 383.45,366.37 383.75,366.8 384.05,366.68 384.35,366.15 384.65,367 384.95,367.32 385.25,366.05 385.55,365.94 385.85,367.27 386.15,367.43 386.45,366.1 386.75,365.28 387.05,366.1 387.35,366.19 387.65,366.75 387.95,366.66 388.25,366.62 388.55,367.1 388.85,366.06 389.15,365.45 389.45,365.84 389.75,366.26 390.05,366.83 390.35,366.72 390.65,366.68 390.95,366.14 391.25,364.6 391.55,365.09 391.85,366.45 392.15,366.44 392.45,365.87 392.75,366.17 393.05,367.32 393.35,367.11 393.65,366.08 393.95,365.79 394.25,366.84 394.55,367.15 394.85,366.62 395.15,367.11 395.45,367.29 395.75,366.46 396.05,366.41 396.35,367.1" fill="none" stroke="#1e1e1e" stroke-width="2.05" stroke-linejoin="round"/>
<line x1="359.7" y1="376.2" x2="359.7" y2="378.8" stroke="#1e1e1e" stroke-width="1.1"/>
<polygon points="359.7,372.7 357.4,377.1 362,377.1" fill="#1e1e1e"/>
<text x="375.11" y="226.8" font-size="9" fill="#1e1e1e" stroke="#1e1e1e" letter-spacing="0.02">1% DMSO</text>
<text x="374.06" y="270.2" font-size="9" fill="#1e1e1e" stroke="#1e1e1e" letter-spacing="-0.13">3 µM Terfenadine</text>
<text x="373.51" y="316.3" font-size="9" fill="#1e1e1e" stroke="#1e1e1e">10 µM Quinidine</text>
<text x="372.06" y="355.8" font-size="9" fill="#1e1e1e" stroke="#1e1e1e" letter-spacing="-0.03">3 µM Astemizole</text>
<text x="335.62" y="388.2" font-size="9" fill="#1e1e1e" stroke="#1e1e1e" letter-spacing="0.08">evaluation</text>
<polyline points="380.3,392.6 413.7,392.6 413.7,370.5" fill="none" stroke="#1e1e1e" stroke-width="1.1" stroke-linejoin="miter"/>
<text x="389.88" y="403.2" font-size="8.2" fill="#1e1e1e" stroke="#1e1e1e">10 s</text>
<text transform="translate(424.9 401.75) rotate(-90)" font-size="9" fill="#1e1e1e" stroke="#1e1e1e" letter-spacing="-0.13">2% ΔF/F</text>
<text x="536.41" y="103.8" font-size="24" fill="#1e1e1e" stroke="#1e1e1e">c</text>
<line x1="571.8" y1="166.35" x2="701.2" y2="166.35" stroke="#b4b4b4" stroke-width="0.9" stroke-dasharray="3.2,2"/>
<line x1="673.6" y1="166.35" x2="673.6" y2="318" stroke="#b4b4b4" stroke-width="0.9" stroke-dasharray="3.2,2"/>
<line x1="683.4" y1="166.35" x2="683.4" y2="347" stroke="#b4b4b4" stroke-width="0.9" stroke-dasharray="3.2,2"/>
<line x1="701.1" y1="166.35" x2="701.1" y2="352" stroke="#b4b4b4" stroke-width="0.9" stroke-dasharray="3.2,2"/>
<line x1="571.5" y1="104.9" x2="571.5" y2="216.6" stroke="#4a4a4a" stroke-width="1"/>
<line x1="568" y1="116.1" x2="571.5" y2="116.1" stroke="#4a4a4a" stroke-width="1"/>
<line x1="568" y1="166.35" x2="571.5" y2="166.35" stroke="#4a4a4a" stroke-width="1"/>
<line x1="568" y1="216.6" x2="571.5" y2="216.6" stroke="#4a4a4a" stroke-width="1"/>
<line x1="571.5" y1="216.6" x2="587.8" y2="216.6" stroke="#4a4a4a" stroke-width="1"/>
<line x1="587.8" y1="214.6" x2="587.8" y2="218.6" stroke="#4a4a4a" stroke-width="1"/>
<line x1="579.7" y1="216.6" x2="579.7" y2="220.6" stroke="#4a4a4a" stroke-width="1"/>
<line x1="595.2" y1="216.6" x2="737.9" y2="216.6" stroke="#4a4a4a" stroke-width="1"/>
<line x1="595.2" y1="214.6" x2="595.2" y2="218.6" stroke="#4a4a4a" stroke-width="1"/>
<line x1="612.5" y1="216.6" x2="612.5" y2="220.8" stroke="#4a4a4a" stroke-width="1"/>
<text x="608.64" y="228.2" font-size="8" fill="#1e1e1e" stroke="#1e1e1e">-8</text>
<line x1="640.3" y1="216.6" x2="640.3" y2="220.8" stroke="#4a4a4a" stroke-width="1"/>
<text x="636.47" y="228.2" font-size="8" fill="#1e1e1e" stroke="#1e1e1e">-7</text>
<line x1="668.1" y1="216.6" x2="668.1" y2="220.8" stroke="#4a4a4a" stroke-width="1"/>
<text x="664.24" y="228.2" font-size="8" fill="#1e1e1e" stroke="#1e1e1e">-6</text>
<line x1="695.9" y1="216.6" x2="695.9" y2="220.8" stroke="#4a4a4a" stroke-width="1"/>
<text x="692.03" y="228.2" font-size="8" fill="#1e1e1e" stroke="#1e1e1e">-5</text>
<line x1="723.7" y1="216.6" x2="723.7" y2="220.8" stroke="#4a4a4a" stroke-width="1"/>
<text x="719.78" y="228.2" font-size="8" fill="#1e1e1e" stroke="#1e1e1e">-4</text>
<text x="577.2" y="229.4" font-size="9" fill="#1e1e1e" stroke="#1e1e1e">0</text>
<text x="554.11" y="119.3" font-size="9" fill="#1e1e1e" stroke="#1e1e1e" letter-spacing="0.21">1.0</text>
<text x="554.55" y="169.9" font-size="9" fill="#1e1e1e" stroke="#1e1e1e" letter-spacing="0.06">0.5</text>
<text x="554.95" y="220.1" font-size="9" fill="#1e1e1e" stroke="#1e1e1e" letter-spacing="0.25">0.0</text>
<text x="616.89" y="241.6" font-size="9" fill="#1e1e1e" stroke="#1e1e1e" letter-spacing="0.11">log compound [M]</text>
<text transform="translate(547.9 198.8) rotate(-90)" font-size="9" fill="#1e1e1e" stroke="#1e1e1e">norm.</text>
<text transform="translate(547.9 167.37) rotate(-90)" font-size="9" fill="#1e1e1e" stroke="#1e1e1e" letter-spacing="-0.26">ΔF/F hERG</text>
<line x1="571.5" y1="116.1" x2="588" y2="116.1" stroke="#f29cc6" stroke-width="1.5"/>
<polyline points="595.82,116.12 596.38,116.12 596.93,116.12 597.49,116.12 598.04,116.12 598.6,116.13 599.16,116.13 599.71,116.13 600.27,116.13 600.82,116.13 601.38,116.13 601.94,116.14 602.49,116.14 603.05,116.14 603.6,116.14 604.16,116.15 604.72,116.15 605.27,116.15 605.83,116.16 606.38,116.16 606.94,116.16 607.5,116.17 608.05,116.17 608.61,116.18 609.16,116.18 609.72,116.19 610.28,116.19 610.83,116.2 611.39,116.2 611.94,116.21 612.5,116.22 613.06,116.23 613.61,116.23 614.17,116.24 614.72,116.25 615.28,116.26 615.84,116.27 616.39,116.28 616.95,116.29 617.5,116.31 618.06,116.32 618.62,116.33 619.17,116.35 619.73,116.36 620.28,116.38 620.84,116.4 621.4,116.42 621.95,116.44 622.51,116.46 623.06,116.48 623.62,116.5 624.18,116.53 624.73,116.56 625.29,116.59 625.84,116.62 626.4,116.65 626.96,116.68 627.51,116.72 628.07,116.76 628.62,116.8 629.18,116.85 629.74,116.89 630.29,116.94 630.85,117 631.4,117.05 631.96,117.11 632.52,117.18 633.07,117.24 633.63,117.32 634.18,117.39 634.74,117.47 635.3,117.56 635.85,117.65 636.41,117.75 636.96,117.85 637.52,117.96 638.08,118.08 638.63,118.2 639.19,118.33 639.74,118.47 640.3,118.62 640.86,118.77 641.41,118.94 641.97,119.11 642.52,119.3 643.08,119.49 643.64,119.7 644.19,119.92 644.75,120.16 645.3,120.4 645.86,120.66 646.42,120.94 646.97,121.23 647.53,121.54 648.08,121.87 648.64,122.21 649.2,122.58 649.75,122.96 650.31,123.37 650.86,123.79 651.42,124.24 651.98,124.72 652.53,125.22 653.09,125.74 653.64,126.29 654.2,126.87 654.76,127.48 655.31,128.12 655.87,128.79 656.42,129.49 656.98,130.22 657.54,130.99 658.09,131.79 658.65,132.62 659.2,133.49 659.76,134.39 660.32,135.34 660.87,136.31 661.43,137.33 661.98,138.38 662.54,139.47 663.1,140.59 663.65,141.76 664.21,142.95 664.76,144.18 665.32,145.45 665.88,146.75 666.43,148.08 666.99,149.44 667.54,150.83 668.1,152.24 668.66,153.68 669.21,155.15 669.77,156.63 670.32,158.13 670.88,159.65 671.44,161.17 671.99,162.71 672.55,164.26 673.1,165.81 673.66,167.36 674.22,168.91 674.77,170.45 675.33,171.99 675.88,173.51 676.44,175.02 677,176.52 677.55,178 678.11,179.45 678.66,180.88 679.22,182.29 679.78,183.67 680.33,185.02 680.89,186.35 681.44,187.63 682,188.89 682.56,190.11 683.11,191.3 683.67,192.45 684.22,193.56 684.78,194.64 685.34,195.68 685.89,196.68 686.45,197.65 687,198.58 687.56,199.48 688.12,200.33 688.67,201.16 689.23,201.95 689.78,202.7 690.34,203.43 690.9,204.12 691.45,204.78 692.01,205.4 692.56,206 693.12,206.57 693.68,207.12 694.23,207.63 694.79,208.13 695.34,208.59 695.9,209.04 696.46,209.46 697.01,209.86 697.57,210.23 698.12,210.59 698.68,210.93 699.24,211.25 699.79,211.56 700.35,211.84 700.9,212.12 701.46,212.37 702.02,212.62 702.57,212.85 703.13,213.06 703.68,213.27 704.24,213.46 704.8,213.64 705.35,213.81 705.91,213.98 706.46,214.13 707.02,214.27 707.58,214.41 708.13,214.54 708.69,214.66 709.24,214.77 709.8,214.88 710.36,214.98 710.91,215.08 711.47,215.17 712.02,215.25 712.58,215.33 713.14,215.41 713.69,215.48 714.25,215.54 714.8,215.61 715.36,215.67 715.92,215.72 716.47,215.77 717.03,215.82 717.58,215.87 718.14,215.91 718.7,215.95 719.25,215.99 719.81,216.03 720.36,216.06 720.92,216.09 721.48,216.12 722.03,216.15 722.59,216.18 723.14,216.2 723.7,216.23 724.26,216.25 724.81,216.27 725.37,216.29 725.92,216.31 726.48,216.33 727.04,216.34 727.59,216.36 728.15,216.37 728.7,216.39 729.26,216.4 729.82,216.41 730.37,216.42 730.93,216.43 731.48,216.44 732.04,216.45 732.6,216.46 733.15,216.47 733.71,216.48 734.26,216.48 734.82,216.49 735.38,216.5 735.93,216.5 736.49,216.51 737.04,216.52 737.6,216.52" fill="none" stroke="#5a78c8" stroke-width="1" stroke-linejoin="round"/>
<polyline points="595.82,116.11 596.38,116.11 596.93,116.11 597.49,116.11 598.04,116.11 598.6,116.11 599.16,116.11 599.71,116.11 600.27,116.11 600.82,116.11 601.38,116.11 601.94,116.12 602.49,116.12 603.05,116.12 603.6,116.12 604.16,116.12 604.72,116.12 605.27,116.12 605.83,116.12 606.38,116.13 606.94,116.13 607.5,116.13 608.05,116.13 608.61,116.13 609.16,116.13 609.72,116.14 610.28,116.14 610.83,116.14 611.39,116.14 611.94,116.15 612.5,116.15 613.06,116.15 613.61,116.16 614.17,116.16 614.72,116.16 615.28,116.17 615.84,116.17 616.39,116.17 616.95,116.18 617.5,116.18 618.06,116.19 618.62,116.19 619.17,116.2 619.73,116.21 620.28,116.21 620.84,116.22 621.4,116.23 621.95,116.24 622.51,116.24 623.06,116.25 623.62,116.26 624.18,116.27 624.73,116.28 625.29,116.29 625.84,116.31 626.4,116.32 626.96,116.33 627.51,116.35 628.07,116.36 628.62,116.38 629.18,116.39 629.74,116.41 630.29,116.43 630.85,116.45 631.4,116.47 631.96,116.5 632.52,116.52 633.07,116.55 633.63,116.58 634.18,116.6 634.74,116.64 635.3,116.67 635.85,116.7 636.41,116.74 636.96,116.78 637.52,116.82 638.08,116.87 638.63,116.91 639.19,116.96 639.74,117.01 640.3,117.07 640.86,117.13 641.41,117.19 641.97,117.26 642.52,117.33 643.08,117.4 643.64,117.48 644.19,117.57 644.75,117.66 645.3,117.75 645.86,117.85 646.42,117.96 646.97,118.07 647.53,118.19 648.08,118.32 648.64,118.45 649.2,118.59 649.75,118.74 650.31,118.9 650.86,119.07 651.42,119.24 651.98,119.43 652.53,119.63 653.09,119.84 653.64,120.06 654.2,120.29 654.76,120.54 655.31,120.8 655.87,121.08 656.42,121.37 656.98,121.68 657.54,122 658.09,122.34 658.65,122.7 659.2,123.08 659.76,123.48 660.32,123.9 660.87,124.34 661.43,124.8 661.98,125.29 662.54,125.8 663.1,126.34 663.65,126.91 664.21,127.5 664.76,128.12 665.32,128.76 665.88,129.44 666.43,130.15 666.99,130.89 667.54,131.66 668.1,132.46 668.66,133.3 669.21,134.17 669.77,135.08 670.32,136.01 670.88,136.99 671.44,138 671.99,139.04 672.55,140.11 673.1,141.23 673.66,142.37 674.22,143.55 674.77,144.76 675.33,146 675.88,147.27 676.44,148.58 677,149.91 677.55,151.26 678.11,152.64 678.66,154.05 679.22,155.47 679.78,156.91 680.33,158.37 680.89,159.84 681.44,161.33 682,162.82 682.56,164.32 683.11,165.82 683.67,167.33 684.22,168.83 684.78,170.33 685.34,171.82 685.89,173.3 686.45,174.77 687,176.22 687.56,177.66 688.12,179.08 688.67,180.47 689.23,181.85 689.78,183.2 690.34,184.52 690.9,185.81 691.45,187.07 692.01,188.31 692.56,189.51 693.12,190.68 693.68,191.81 694.23,192.91 694.79,193.98 695.34,195.01 695.9,196.01 696.46,196.97 697.01,197.9 697.57,198.79 698.12,199.65 698.68,200.48 699.24,201.27 699.79,202.04 700.35,202.77 700.9,203.46 701.46,204.13 702.02,204.77 702.57,205.38 703.13,205.97 703.68,206.52 704.24,207.05 704.8,207.56 705.35,208.04 705.91,208.5 706.46,208.93 707.02,209.34 707.58,209.74 708.13,210.11 708.69,210.46 709.24,210.8 709.8,211.12 710.36,211.42 710.91,211.71 711.47,211.98 712.02,212.24 712.58,212.48 713.14,212.71 713.69,212.93 714.25,213.13 714.8,213.33 715.36,213.51 715.92,213.69 716.47,213.85 717.03,214.01 717.58,214.15 718.14,214.29 718.7,214.42 719.25,214.55 719.81,214.66 720.36,214.77 720.92,214.88 721.48,214.98 722.03,215.07 722.59,215.16 723.14,215.24 723.7,215.32 724.26,215.39 724.81,215.46 725.37,215.53 725.92,215.59 726.48,215.65 727.04,215.7 727.59,215.75 728.15,215.8 728.7,215.85 729.26,215.89 729.82,215.93 730.37,215.97 730.93,216.01 731.48,216.04 732.04,216.07 732.6,216.1 733.15,216.13 733.71,216.16 734.26,216.19 734.82,216.21 735.38,216.23 735.93,216.25 736.49,216.27 737.04,216.29 737.6,216.31" fill="none" stroke="#2a2a2a" stroke-width="1" stroke-linejoin="round"/>
<polyline points="595.82,116.12 596.38,116.12 596.93,116.12 597.49,116.12 598.04,116.12 598.6,116.12 599.16,116.12 599.71,116.12 600.27,116.12 600.82,116.13 601.38,116.13 601.94,116.13 602.49,116.13 603.05,116.13 603.6,116.13 604.16,116.13 604.72,116.14 605.27,116.14 605.83,116.14 606.38,116.14 606.94,116.14 607.5,116.14 608.05,116.15 608.61,116.15 609.16,116.15 609.72,116.15 610.28,116.16 610.83,116.16 611.39,116.16 611.94,116.16 612.5,116.17 613.06,116.17 613.61,116.17 614.17,116.18 614.72,116.18 615.28,116.19 615.84,116.19 616.39,116.19 616.95,116.2 617.5,116.2 618.06,116.21 618.62,116.21 619.17,116.22 619.73,116.22 620.28,116.23 620.84,116.24 621.4,116.24 621.95,116.25 622.51,116.26 623.06,116.26 623.62,116.27 624.18,116.28 624.73,116.29 625.29,116.3 625.84,116.3 626.4,116.31 626.96,116.32 627.51,116.34 628.07,116.35 628.62,116.36 629.18,116.37 629.74,116.38 630.29,116.4 630.85,116.41 631.4,116.42 631.96,116.44 632.52,116.46 633.07,116.47 633.63,116.49 634.18,116.51 634.74,116.53 635.3,116.55 635.85,116.57 636.41,116.59 636.96,116.61 637.52,116.64 638.08,116.66 638.63,116.69 639.19,116.72 639.74,116.74 640.3,116.77 640.86,116.81 641.41,116.84 641.97,116.87 642.52,116.91 643.08,116.95 643.64,116.99 644.19,117.03 644.75,117.07 645.3,117.12 645.86,117.17 646.42,117.22 646.97,117.27 647.53,117.32 648.08,117.38 648.64,117.44 649.2,117.5 649.75,117.56 650.31,117.63 650.86,117.7 651.42,117.78 651.98,117.86 652.53,117.94 653.09,118.02 653.64,118.11 654.2,118.2 654.76,118.3 655.31,118.4 655.87,118.51 656.42,118.62 656.98,118.73 657.54,118.85 658.09,118.98 658.65,119.11 659.2,119.25 659.76,119.39 660.32,119.54 660.87,119.7 661.43,119.86 661.98,120.03 662.54,120.21 663.1,120.4 663.65,120.59 664.21,120.79 664.76,121 665.32,121.22 665.88,121.45 666.43,121.69 666.99,121.94 667.54,122.2 668.1,122.46 668.66,122.74 669.21,123.04 669.77,123.34 670.32,123.65 670.88,123.98 671.44,124.32 671.99,124.68 672.55,125.05 673.1,125.43 673.66,125.83 674.22,126.24 674.77,126.67 675.33,127.11 675.88,127.57 676.44,128.05 677,128.54 677.55,129.05 678.11,129.58 678.66,130.12 679.22,130.69 679.78,131.27 680.33,131.88 680.89,132.5 681.44,133.14 682,133.8 682.56,134.48 683.11,135.19 683.67,135.91 684.22,136.65 684.78,137.41 685.34,138.2 685.89,139 686.45,139.83 687,140.67 687.56,141.54 688.12,142.42 688.67,143.32 689.23,144.25 689.78,145.19 690.34,146.15 690.9,147.13 691.45,148.13 692.01,149.14 692.56,150.17 693.12,151.21 693.68,152.27 694.23,153.35 694.79,154.43 695.34,155.53 695.9,156.64 696.46,157.76 697.01,158.88 697.57,160.02 698.12,161.16 698.68,162.31 699.24,163.46 699.79,164.62 700.35,165.77 700.9,166.93 701.46,168.08 702.02,169.24 702.57,170.39 703.13,171.54 703.68,172.68 704.24,173.82 704.8,174.94 705.35,176.06 705.91,177.17 706.46,178.27 707.02,179.35 707.58,180.43 708.13,181.49 708.69,182.53 709.24,183.56 709.8,184.57 710.36,185.57 710.91,186.55 711.47,187.51 712.02,188.45 712.58,189.38 713.14,190.28 713.69,191.16 714.25,192.03 714.8,192.87 715.36,193.7 715.92,194.5 716.47,195.29 717.03,196.05 717.58,196.79 718.14,197.51 718.7,198.22 719.25,198.9 719.81,199.56 720.36,200.2 720.92,200.82 721.48,201.43 722.03,202.01 722.59,202.58 723.14,203.12 723.7,203.65 724.26,204.16 724.81,204.65 725.37,205.13 725.92,205.59 726.48,206.03 727.04,206.46 727.59,206.87 728.15,207.27 728.7,207.65 729.26,208.02 729.82,208.38 730.37,208.72 730.93,209.05 731.48,209.36 732.04,209.66 732.6,209.96 733.15,210.24 733.71,210.5 734.26,210.76 734.82,211.01 735.38,211.25 735.93,211.48 736.49,211.7 737.04,211.91 737.6,212.11" fill="none" stroke="#ee4a9c" stroke-width="1" stroke-linejoin="round"/>
<line x1="594.8" y1="116.1" x2="612" y2="116.1" stroke="#f29cc6" stroke-width="1.5"/>
<line x1="640.3" y1="119.11" x2="640.3" y2="124.74" stroke="#6a86d0" stroke-width="0.8"/>
<line x1="638.1" y1="119.11" x2="642.5" y2="119.11" stroke="#6a86d0" stroke-width="0.8"/>
<line x1="638.1" y1="124.74" x2="642.5" y2="124.74" stroke="#6a86d0" stroke-width="0.8"/>
<polygon points="640.3,119.53 638.3,123.53 642.3,123.53" fill="#3e62b8"/>
<line x1="654.2" y1="119.11" x2="654.2" y2="123.14" stroke="#6a86d0" stroke-width="0.8"/>
<line x1="652" y1="119.11" x2="656.4" y2="119.11" stroke="#6a86d0" stroke-width="0.8"/>
<line x1="652" y1="123.14" x2="656.4" y2="123.14" stroke="#6a86d0" stroke-width="0.8"/>
<polygon points="654.2,118.72 652.2,122.72 656.2,122.72" fill="#3e62b8"/>
<line x1="668.1" y1="144.14" x2="668.1" y2="156.4" stroke="#6a86d0" stroke-width="0.8"/>
<line x1="665.9" y1="144.14" x2="670.3" y2="144.14" stroke="#6a86d0" stroke-width="0.8"/>
<line x1="665.9" y1="156.4" x2="670.3" y2="156.4" stroke="#6a86d0" stroke-width="0.8"/>
<polygon points="668.1,147.87 666.1,151.87 670.1,151.87" fill="#3e62b8"/>
<line x1="682" y1="183.23" x2="682" y2="194.09" stroke="#6a86d0" stroke-width="0.8"/>
<line x1="679.8" y1="183.23" x2="684.2" y2="183.23" stroke="#6a86d0" stroke-width="0.8"/>
<line x1="679.8" y1="194.09" x2="684.2" y2="194.09" stroke="#6a86d0" stroke-width="0.8"/>
<polygon points="682,186.26 680,190.26 684,190.26" fill="#3e62b8"/>
<polygon points="695.9,206.76 693.9,210.76 697.9,210.76" fill="#3e62b8"/>
<line x1="640.3" y1="106.75" x2="640.3" y2="123.44" stroke="#4a4a4a" stroke-width="0.8"/>
<line x1="638.1" y1="106.75" x2="642.5" y2="106.75" stroke="#4a4a4a" stroke-width="0.8"/>
<line x1="638.1" y1="123.44" x2="642.5" y2="123.44" stroke="#4a4a4a" stroke-width="0.8"/>
<rect x="638.5" y="113.3" width="3.6" height="3.6" fill="#111"/>
<line x1="654.2" y1="119.01" x2="654.2" y2="135.3" stroke="#4a4a4a" stroke-width="0.8"/>
<line x1="652" y1="119.01" x2="656.4" y2="119.01" stroke="#4a4a4a" stroke-width="0.8"/>
<line x1="652" y1="135.3" x2="656.4" y2="135.3" stroke="#4a4a4a" stroke-width="0.8"/>
<rect x="652.4" y="125.35" width="3.6" height="3.6" fill="#111"/>
<line x1="668.1" y1="127.56" x2="668.1" y2="137.61" stroke="#4a4a4a" stroke-width="0.8"/>
<line x1="665.9" y1="127.56" x2="670.3" y2="127.56" stroke="#4a4a4a" stroke-width="0.8"/>
<line x1="665.9" y1="137.61" x2="670.3" y2="137.61" stroke="#4a4a4a" stroke-width="0.8"/>
<rect x="666.3" y="130.78" width="3.6" height="3.6" fill="#111"/>
<line x1="682" y1="149.47" x2="682" y2="168.16" stroke="#4a4a4a" stroke-width="0.8"/>
<line x1="679.8" y1="149.47" x2="684.2" y2="149.47" stroke="#4a4a4a" stroke-width="0.8"/>
<line x1="679.8" y1="168.16" x2="684.2" y2="168.16" stroke="#4a4a4a" stroke-width="0.8"/>
<rect x="680.2" y="157.01" width="3.6" height="3.6" fill="#111"/>
<line x1="695.9" y1="190.47" x2="695.9" y2="199.51" stroke="#4a4a4a" stroke-width="0.8"/>
<line x1="693.7" y1="190.47" x2="698.1" y2="190.47" stroke="#4a4a4a" stroke-width="0.8"/>
<line x1="693.7" y1="199.51" x2="698.1" y2="199.51" stroke="#4a4a4a" stroke-width="0.8"/>
<rect x="694.1" y="193.19" width="3.6" height="3.6" fill="#111"/>
<line x1="654.2" y1="114.19" x2="654.2" y2="123.64" stroke="#ee4a9c" stroke-width="0.8"/>
<line x1="652" y1="114.19" x2="656.4" y2="114.19" stroke="#ee4a9c" stroke-width="0.8"/>
<line x1="652" y1="123.64" x2="656.4" y2="123.64" stroke="#ee4a9c" stroke-width="0.8"/>
<circle cx="654.2" cy="118.91" r="2" fill="#ec1c8c"/>
<line x1="668.1" y1="123.24" x2="668.1" y2="128.46" stroke="#ee4a9c" stroke-width="0.8"/>
<line x1="665.9" y1="123.24" x2="670.3" y2="123.24" stroke="#ee4a9c" stroke-width="0.8"/>
<line x1="665.9" y1="128.46" x2="670.3" y2="128.46" stroke="#ee4a9c" stroke-width="0.8"/>
<circle cx="668.1" cy="125.85" r="2" fill="#ec1c8c"/>
<line x1="682" y1="129.37" x2="682" y2="136.2" stroke="#ee4a9c" stroke-width="0.8"/>
<line x1="679.8" y1="129.37" x2="684.2" y2="129.37" stroke="#ee4a9c" stroke-width="0.8"/>
<line x1="679.8" y1="136.2" x2="684.2" y2="136.2" stroke="#ee4a9c" stroke-width="0.8"/>
<circle cx="682" cy="132.78" r="2" fill="#ec1c8c"/>
<line x1="695.9" y1="150.67" x2="695.9" y2="159.52" stroke="#ee4a9c" stroke-width="0.8"/>
<line x1="693.7" y1="150.67" x2="698.1" y2="150.67" stroke="#ee4a9c" stroke-width="0.8"/>
<line x1="693.7" y1="159.52" x2="698.1" y2="159.52" stroke="#ee4a9c" stroke-width="0.8"/>
<circle cx="695.9" cy="155.09" r="2" fill="#ec1c8c"/>
<line x1="709.8" y1="170.87" x2="709.8" y2="186.35" stroke="#ee4a9c" stroke-width="0.8"/>
<line x1="707.6" y1="170.87" x2="712" y2="170.87" stroke="#ee4a9c" stroke-width="0.8"/>
<line x1="707.6" y1="186.35" x2="712" y2="186.35" stroke="#ee4a9c" stroke-width="0.8"/>
<circle cx="709.8" cy="178.61" r="2" fill="#ec1c8c"/>
<line x1="723.7" y1="207.66" x2="723.7" y2="212.28" stroke="#ee4a9c" stroke-width="0.8"/>
<line x1="721.5" y1="207.66" x2="725.9" y2="207.66" stroke="#ee4a9c" stroke-width="0.8"/>
<line x1="721.5" y1="212.28" x2="725.9" y2="212.28" stroke="#ee4a9c" stroke-width="0.8"/>
<circle cx="723.7" cy="209.97" r="2" fill="#ec1c8c"/>
<rect x="577.7" y="114.3" width="3.4" height="3.4" fill="#333"/>
<circle cx="579.4" cy="116" r="1.85" fill="#ec1c8c"/>
<text x="701.62" y="108.1" font-size="18" fill="#1e1e1e" stroke="#1e1e1e">LiEp</text>
<circle cx="705.6" cy="119" r="1.7" fill="#ec1c8c"/>
<polygon points="705.6,130.16 703.9,133.56 707.3,133.56" fill="#3e62b8"/>
<rect x="704.1" y="143.1" width="3" height="3" fill="#111"/>
<text x="711.17" y="122.3" font-size="9" fill="#1e1e1e" stroke="#1e1e1e" letter-spacing="0.06">Quinidine</text>
<text x="711.58" y="134.9" font-size="9" fill="#1e1e1e" stroke="#1e1e1e" letter-spacing="-0.13">Astemizole</text>
<text x="711.7" y="147.5" font-size="9" fill="#1e1e1e" stroke="#1e1e1e" letter-spacing="0.03">Terfenadine</text>
<line x1="572.3" y1="256.5" x2="572.3" y2="367.6" stroke="#4a4a4a" stroke-width="1"/>
<line x1="569" y1="266.3" x2="572.3" y2="266.3" stroke="#4a4a4a" stroke-width="1"/>
<line x1="569" y1="316.95" x2="572.3" y2="316.95" stroke="#4a4a4a" stroke-width="1"/>
<line x1="569" y1="367.6" x2="572.3" y2="367.6" stroke="#4a4a4a" stroke-width="1"/>
<line x1="572.3" y1="367.6" x2="588.2" y2="367.6" stroke="#4a4a4a" stroke-width="1"/>
<line x1="588.2" y1="365.6" x2="588.2" y2="369.4" stroke="#4a4a4a" stroke-width="1"/>
<line x1="580.2" y1="367.6" x2="580.2" y2="371" stroke="#4a4a4a" stroke-width="1"/>
<line x1="596.3" y1="367.6" x2="738.4" y2="367.6" stroke="#4a4a4a" stroke-width="1"/>
<line x1="596.3" y1="365.6" x2="596.3" y2="369.4" stroke="#4a4a4a" stroke-width="1"/>
<line x1="612.4" y1="367.6" x2="612.4" y2="371.2" stroke="#4a4a4a" stroke-width="1"/>
<text x="608.54" y="379" font-size="8" fill="#1e1e1e" stroke="#1e1e1e">-8</text>
<line x1="640.35" y1="367.6" x2="640.35" y2="371.2" stroke="#4a4a4a" stroke-width="1"/>
<text x="636.52" y="379" font-size="8" fill="#1e1e1e" stroke="#1e1e1e">-7</text>
<line x1="668.3" y1="367.6" x2="668.3" y2="371.2" stroke="#4a4a4a" stroke-width="1"/>
<text x="664.44" y="379" font-size="8" fill="#1e1e1e" stroke="#1e1e1e">-6</text>
<line x1="696.25" y1="367.6" x2="696.25" y2="371.2" stroke="#4a4a4a" stroke-width="1"/>
<text x="692.38" y="379" font-size="8" fill="#1e1e1e" stroke="#1e1e1e">-5</text>
<line x1="724.2" y1="367.6" x2="724.2" y2="371.2" stroke="#4a4a4a" stroke-width="1"/>
<text x="720.28" y="379" font-size="8" fill="#1e1e1e" stroke="#1e1e1e">-4</text>
<text x="577.6" y="380.6" font-size="9" fill="#1e1e1e" stroke="#1e1e1e">0</text>
<text x="554.71" y="269.9" font-size="9" fill="#1e1e1e" stroke="#1e1e1e" letter-spacing="0.46">1.0</text>
<text x="555.05" y="320.6" font-size="9" fill="#1e1e1e" stroke="#1e1e1e" letter-spacing="0.31">0.5</text>
<text x="554.95" y="370.8" font-size="9" fill="#1e1e1e" stroke="#1e1e1e" letter-spacing="0.35">0.0</text>
<text x="617.39" y="392.2" font-size="9" fill="#1e1e1e" stroke="#1e1e1e" letter-spacing="0.12">log compound [M]</text>
<text x="708.32" y="315.4" font-size="17.5" fill="#1e1e1e" stroke="#1e1e1e" letter-spacing="0.03">VC</text>
<text transform="translate(544.3 364.2) rotate(-90)" font-size="9.6" fill="#1e1e1e" stroke="#1e1e1e">hERG I<tspan font-size="6.7" dy="1.8">tail</tspan><tspan dy="-1.8">/I</tspan><tspan font-size="6.7" dy="1.8">tail bath</tspan></text>
<polyline points="595.63,267.96 596.19,268.02 596.75,268.08 597.31,268.14 597.87,268.2 598.42,268.27 598.98,268.34 599.54,268.41 600.1,268.48 600.66,268.56 601.22,268.63 601.78,268.71 602.34,268.8 602.9,268.88 603.46,268.97 604.01,269.06 604.57,269.16 605.13,269.25 605.69,269.35 606.25,269.46 606.81,269.56 607.37,269.68 607.93,269.79 608.49,269.91 609.05,270.03 609.6,270.16 610.16,270.29 610.72,270.42 611.28,270.56 611.84,270.7 612.4,270.85 612.96,271 613.52,271.16 614.08,271.32 614.64,271.49 615.19,271.66 615.75,271.84 616.31,272.03 616.87,272.22 617.43,272.41 617.99,272.61 618.55,272.82 619.11,273.03 619.67,273.25 620.23,273.48 620.78,273.71 621.34,273.96 621.9,274.2 622.46,274.46 623.02,274.72 623.58,274.99 624.14,275.27 624.7,275.56 625.26,275.85 625.82,276.16 626.37,276.47 626.93,276.79 627.49,277.12 628.05,277.45 628.61,277.8 629.17,278.16 629.73,278.53 630.29,278.9 630.85,279.29 631.41,279.68 631.96,280.09 632.52,280.51 633.08,280.93 633.64,281.37 634.2,281.82 634.76,282.28 635.32,282.75 635.88,283.23 636.44,283.72 637,284.23 637.55,284.74 638.11,285.27 638.67,285.81 639.23,286.36 639.79,286.92 640.35,287.49 640.91,288.08 641.47,288.67 642.03,289.28 642.59,289.9 643.14,290.53 643.7,291.17 644.26,291.83 644.82,292.49 645.38,293.17 645.94,293.86 646.5,294.55 647.06,295.26 647.62,295.98 648.18,296.71 648.73,297.45 649.29,298.2 649.85,298.96 650.41,299.73 650.97,300.51 651.53,301.3 652.09,302.09 652.65,302.9 653.21,303.71 653.77,304.53 654.32,305.35 654.88,306.18 655.44,307.02 656,307.87 656.56,308.71 657.12,309.57 657.68,310.43 658.24,311.29 658.8,312.15 659.36,313.02 659.91,313.89 660.47,314.76 661.03,315.64 661.59,316.51 662.15,317.39 662.71,318.26 663.27,319.14 663.83,320.01 664.39,320.88 664.95,321.75 665.5,322.61 666.06,323.47 666.62,324.33 667.18,325.19 667.74,326.03 668.3,326.88 668.86,327.72 669.42,328.55 669.98,329.37 670.54,330.19 671.09,331 671.65,331.81 672.21,332.6 672.77,333.39 673.33,334.17 673.89,334.94 674.45,335.7 675.01,336.45 675.57,337.19 676.13,337.92 676.68,338.64 677.24,339.35 677.8,340.04 678.36,340.73 678.92,341.41 679.48,342.07 680.04,342.73 680.6,343.37 681.16,344 681.72,344.62 682.27,345.23 682.83,345.82 683.39,346.41 683.95,346.98 684.51,347.54 685.07,348.09 685.63,348.63 686.19,349.16 686.75,349.67 687.31,350.18 687.86,350.67 688.42,351.15 688.98,351.62 689.54,352.08 690.1,352.53 690.66,352.97 691.22,353.39 691.78,353.81 692.34,354.22 692.9,354.61 693.45,355 694.01,355.37 694.57,355.74 695.13,356.1 695.69,356.45 696.25,356.78 696.81,357.11 697.37,357.43 697.93,357.74 698.49,358.05 699.04,358.34 699.6,358.63 700.16,358.91 700.72,359.18 701.28,359.44 701.84,359.7 702.4,359.94 702.96,360.19 703.52,360.42 704.08,360.65 704.63,360.87 705.19,361.08 705.75,361.29 706.31,361.49 706.87,361.68 707.43,361.87 707.99,362.06 708.55,362.24 709.11,362.41 709.67,362.58 710.22,362.74 710.78,362.9 711.34,363.05 711.9,363.2 712.46,363.34 713.02,363.48 713.58,363.61 714.14,363.74 714.7,363.87 715.26,363.99 715.81,364.11 716.37,364.22 716.93,364.34 717.49,364.44 718.05,364.55 718.61,364.65 719.17,364.74 719.73,364.84 720.29,364.93 720.85,365.02 721.4,365.1 721.96,365.19 722.52,365.27 723.08,365.34 723.64,365.42 724.2,365.49 724.76,365.56 725.32,365.63 725.88,365.7 726.44,365.76 726.99,365.82 727.55,365.88 728.11,365.94 728.67,365.99 729.23,366.05 729.79,366.1 730.35,366.15 730.91,366.2 731.47,366.24 732.03,366.29 732.58,366.33 733.14,366.38 733.7,366.42 734.26,366.46 734.82,366.5 735.38,366.53 735.94,366.57 736.5,366.6 737.06,366.64 737.62,366.67 738.17,366.7" fill="none" stroke="#5a78c8" stroke-width="1" stroke-linejoin="round"/>
<polyline points="595.63,267.28 596.19,267.32 596.75,267.36 597.31,267.4 597.87,267.44 598.42,267.49 598.98,267.53 599.54,267.58 600.1,267.63 600.66,267.68 601.22,267.73 601.78,267.79 602.34,267.85 602.9,267.91 603.46,267.97 604.01,268.03 604.57,268.1 605.13,268.17 605.69,268.24 606.25,268.31 606.81,268.39 607.37,268.47 607.93,268.55 608.49,268.64 609.05,268.73 609.6,268.82 610.16,268.91 610.72,269.01 611.28,269.12 611.84,269.22 612.4,269.33 612.96,269.45 613.52,269.57 614.08,269.69 614.64,269.82 615.19,269.95 615.75,270.09 616.31,270.23 616.87,270.37 617.43,270.53 617.99,270.68 618.55,270.85 619.11,271.02 619.67,271.19 620.23,271.37 620.78,271.56 621.34,271.75 621.9,271.95 622.46,272.16 623.02,272.38 623.58,272.6 624.14,272.83 624.7,273.06 625.26,273.31 625.82,273.56 626.37,273.82 626.93,274.1 627.49,274.37 628.05,274.66 628.61,274.96 629.17,275.27 629.73,275.59 630.29,275.91 630.85,276.25 631.41,276.6 631.96,276.96 632.52,277.33 633.08,277.71 633.64,278.1 634.2,278.51 634.76,278.92 635.32,279.35 635.88,279.79 636.44,280.25 637,280.71 637.55,281.19 638.11,281.68 638.67,282.19 639.23,282.71 639.79,283.24 640.35,283.79 640.91,284.35 641.47,284.92 642.03,285.51 642.59,286.11 643.14,286.73 643.7,287.36 644.26,288 644.82,288.66 645.38,289.33 645.94,290.02 646.5,290.72 647.06,291.44 647.62,292.17 648.18,292.91 648.73,293.67 649.29,294.44 649.85,295.22 650.41,296.02 650.97,296.83 651.53,297.65 652.09,298.48 652.65,299.33 653.21,300.18 653.77,301.05 654.32,301.93 654.88,302.82 655.44,303.71 656,304.62 656.56,305.53 657.12,306.46 657.68,307.39 658.24,308.32 658.8,309.27 659.36,310.21 659.91,311.17 660.47,312.12 661.03,313.09 661.59,314.05 662.15,315.01 662.71,315.98 663.27,316.95 663.83,317.92 664.39,318.89 664.95,319.85 665.5,320.81 666.06,321.78 666.62,322.73 667.18,323.69 667.74,324.63 668.3,325.58 668.86,326.51 669.42,327.44 669.98,328.37 670.54,329.28 671.09,330.19 671.65,331.08 672.21,331.97 672.77,332.85 673.33,333.72 673.89,334.57 674.45,335.42 675.01,336.25 675.57,337.07 676.13,337.88 676.68,338.68 677.24,339.46 677.8,340.23 678.36,340.99 678.92,341.73 679.48,342.46 680.04,343.18 680.6,343.88 681.16,344.57 681.72,345.24 682.27,345.9 682.83,346.54 683.39,347.17 683.95,347.79 684.51,348.39 685.07,348.98 685.63,349.55 686.19,350.11 686.75,350.66 687.31,351.19 687.86,351.71 688.42,352.22 688.98,352.71 689.54,353.19 690.1,353.65 690.66,354.11 691.22,354.55 691.78,354.98 692.34,355.39 692.9,355.8 693.45,356.19 694.01,356.57 694.57,356.94 695.13,357.3 695.69,357.65 696.25,357.99 696.81,358.31 697.37,358.63 697.93,358.94 698.49,359.24 699.04,359.53 699.6,359.8 700.16,360.08 700.72,360.34 701.28,360.59 701.84,360.84 702.4,361.07 702.96,361.3 703.52,361.52 704.08,361.74 704.63,361.95 705.19,362.15 705.75,362.34 706.31,362.53 706.87,362.71 707.43,362.88 707.99,363.05 708.55,363.22 709.11,363.37 709.67,363.53 710.22,363.67 710.78,363.81 711.34,363.95 711.9,364.08 712.46,364.21 713.02,364.33 713.58,364.45 714.14,364.57 714.7,364.68 715.26,364.78 715.81,364.89 716.37,364.99 716.93,365.08 717.49,365.17 718.05,365.26 718.61,365.35 719.17,365.43 719.73,365.51 720.29,365.59 720.85,365.66 721.4,365.73 721.96,365.8 722.52,365.87 723.08,365.93 723.64,365.99 724.2,366.05 724.76,366.11 725.32,366.17 725.88,366.22 726.44,366.27 726.99,366.32 727.55,366.37 728.11,366.41 728.67,366.46 729.23,366.5 729.79,366.54 730.35,366.58 730.91,366.62 731.47,366.65 732.03,366.69 732.58,366.72 733.14,366.75 733.7,366.79 734.26,366.82 734.82,366.85 735.38,366.87 735.94,366.9 736.5,366.93 737.06,366.95 737.62,366.98 738.17,367" fill="none" stroke="#2a2a2a" stroke-width="1" stroke-linejoin="round"/>
<polyline points="595.63,266.79 596.19,266.81 596.75,266.83 597.31,266.85 597.87,266.87 598.42,266.9 598.98,266.92 599.54,266.95 600.1,266.97 600.66,267 601.22,267.03 601.78,267.05 602.34,267.08 602.9,267.11 603.46,267.15 604.01,267.18 604.57,267.22 605.13,267.25 605.69,267.29 606.25,267.33 606.81,267.37 607.37,267.41 607.93,267.46 608.49,267.5 609.05,267.55 609.6,267.6 610.16,267.65 610.72,267.7 611.28,267.76 611.84,267.81 612.4,267.87 612.96,267.94 613.52,268 614.08,268.07 614.64,268.14 615.19,268.21 615.75,268.28 616.31,268.36 616.87,268.44 617.43,268.52 617.99,268.61 618.55,268.7 619.11,268.79 619.67,268.89 620.23,268.99 620.78,269.1 621.34,269.2 621.9,269.32 622.46,269.43 623.02,269.55 623.58,269.68 624.14,269.81 624.7,269.94 625.26,270.09 625.82,270.23 626.37,270.38 626.93,270.54 627.49,270.7 628.05,270.87 628.61,271.04 629.17,271.22 629.73,271.41 630.29,271.6 630.85,271.8 631.41,272.01 631.96,272.22 632.52,272.44 633.08,272.67 633.64,272.91 634.2,273.16 634.76,273.41 635.32,273.68 635.88,273.95 636.44,274.23 637,274.52 637.55,274.82 638.11,275.13 638.67,275.45 639.23,275.78 639.79,276.12 640.35,276.48 640.91,276.84 641.47,277.22 642.03,277.6 642.59,278 643.14,278.41 643.7,278.84 644.26,279.27 644.82,279.72 645.38,280.19 645.94,280.66 646.5,281.15 647.06,281.65 647.62,282.17 648.18,282.7 648.73,283.25 649.29,283.81 649.85,284.38 650.41,284.97 650.97,285.57 651.53,286.19 652.09,286.82 652.65,287.47 653.21,288.14 653.77,288.81 654.32,289.51 654.88,290.21 655.44,290.94 656,291.67 656.56,292.43 657.12,293.19 657.68,293.97 658.24,294.77 658.8,295.57 659.36,296.4 659.91,297.23 660.47,298.08 661.03,298.94 661.59,299.81 662.15,300.69 662.71,301.59 663.27,302.49 663.83,303.41 664.39,304.33 664.95,305.27 665.5,306.21 666.06,307.16 666.62,308.12 667.18,309.08 667.74,310.05 668.3,311.03 668.86,312.01 669.42,312.99 669.98,313.98 670.54,314.97 671.09,315.96 671.65,316.95 672.21,317.94 672.77,318.93 673.33,319.92 673.89,320.91 674.45,321.89 675.01,322.87 675.57,323.85 676.13,324.82 676.68,325.78 677.24,326.74 677.8,327.69 678.36,328.63 678.92,329.57 679.48,330.49 680.04,331.41 680.6,332.31 681.16,333.21 681.72,334.09 682.27,334.96 682.83,335.82 683.39,336.67 683.95,337.5 684.51,338.33 685.07,339.13 685.63,339.93 686.19,340.71 686.75,341.47 687.31,342.23 687.86,342.96 688.42,343.69 688.98,344.39 689.54,345.09 690.1,345.76 690.66,346.43 691.22,347.08 691.78,347.71 692.34,348.33 692.9,348.93 693.45,349.52 694.01,350.09 694.57,350.65 695.13,351.2 695.69,351.73 696.25,352.25 696.81,352.75 697.37,353.24 697.93,353.71 698.49,354.18 699.04,354.63 699.6,355.06 700.16,355.49 700.72,355.9 701.28,356.3 701.84,356.68 702.4,357.06 702.96,357.42 703.52,357.78 704.08,358.12 704.63,358.45 705.19,358.77 705.75,359.08 706.31,359.38 706.87,359.67 707.43,359.95 707.99,360.22 708.55,360.49 709.11,360.74 709.67,360.99 710.22,361.23 710.78,361.46 711.34,361.68 711.9,361.89 712.46,362.1 713.02,362.3 713.58,362.49 714.14,362.68 714.7,362.86 715.26,363.03 715.81,363.2 716.37,363.36 716.93,363.52 717.49,363.67 718.05,363.81 718.61,363.96 719.17,364.09 719.73,364.22 720.29,364.35 720.85,364.47 721.4,364.58 721.96,364.7 722.52,364.8 723.08,364.91 723.64,365.01 724.2,365.11 724.76,365.2 725.32,365.29 725.88,365.38 726.44,365.46 726.99,365.54 727.55,365.62 728.11,365.69 728.67,365.76 729.23,365.83 729.79,365.9 730.35,365.96 730.91,366.03 731.47,366.09 732.03,366.14 732.58,366.2 733.14,366.25 733.7,366.3 734.26,366.35 734.82,366.4 735.38,366.44 735.94,366.49 736.5,366.53 737.06,366.57 737.62,366.61 738.17,366.65" fill="none" stroke="#ee4a9c" stroke-width="1" stroke-linejoin="round"/>
<rect x="578.6" y="265" width="3" height="3" fill="#111"/>
<line x1="582" y1="266.5" x2="588.6" y2="266.5" stroke="#111" stroke-width="1"/>
<line x1="612.4" y1="270.25" x2="612.4" y2="272.68" stroke="#6a86d0" stroke-width="0.8"/>
<line x1="610.2" y1="270.25" x2="614.6" y2="270.25" stroke="#6a86d0" stroke-width="0.8"/>
<line x1="610.2" y1="272.68" x2="614.6" y2="272.68" stroke="#6a86d0" stroke-width="0.8"/>
<polygon points="612.4,269.07 610.4,273.07 614.4,273.07" fill="#3e62b8"/>
<line x1="640.35" y1="284.33" x2="640.35" y2="286.76" stroke="#6a86d0" stroke-width="0.8"/>
<line x1="638.15" y1="284.33" x2="642.55" y2="284.33" stroke="#6a86d0" stroke-width="0.8"/>
<line x1="638.15" y1="286.76" x2="642.55" y2="286.76" stroke="#6a86d0" stroke-width="0.8"/>
<polygon points="640.35,283.15 638.35,287.15 642.35,287.15" fill="#3e62b8"/>
<line x1="654.32" y1="299.22" x2="654.32" y2="303.27" stroke="#6a86d0" stroke-width="0.8"/>
<line x1="652.12" y1="299.22" x2="656.52" y2="299.22" stroke="#6a86d0" stroke-width="0.8"/>
<line x1="652.12" y1="303.27" x2="656.52" y2="303.27" stroke="#6a86d0" stroke-width="0.8"/>
<polygon points="654.32,298.85 652.32,302.85 656.32,302.85" fill="#3e62b8"/>
<line x1="668.3" y1="324.04" x2="668.3" y2="334.17" stroke="#6a86d0" stroke-width="0.8"/>
<line x1="666.1" y1="324.04" x2="670.5" y2="324.04" stroke="#6a86d0" stroke-width="0.8"/>
<line x1="666.1" y1="334.17" x2="670.5" y2="334.17" stroke="#6a86d0" stroke-width="0.8"/>
<polygon points="668.3,326.71 666.3,330.71 670.3,330.71" fill="#3e62b8"/>
<line x1="682.27" y1="346.33" x2="682.27" y2="350.38" stroke="#6a86d0" stroke-width="0.8"/>
<line x1="680.07" y1="346.33" x2="684.48" y2="346.33" stroke="#6a86d0" stroke-width="0.8"/>
<line x1="680.07" y1="350.38" x2="684.48" y2="350.38" stroke="#6a86d0" stroke-width="0.8"/>
<polygon points="682.27,345.95 680.27,349.95 684.27,349.95" fill="#3e62b8"/>
<line x1="696.25" y1="356.46" x2="696.25" y2="358.89" stroke="#6a86d0" stroke-width="0.8"/>
<line x1="694.05" y1="356.46" x2="698.45" y2="356.46" stroke="#6a86d0" stroke-width="0.8"/>
<line x1="694.05" y1="358.89" x2="698.45" y2="358.89" stroke="#6a86d0" stroke-width="0.8"/>
<polygon points="696.25,355.27 694.25,359.27 698.25,359.27" fill="#3e62b8"/>
<rect x="596.62" y="268.86" width="3.6" height="3.6" fill="#111"/>
<rect x="624.58" y="274.02" width="3.6" height="3.6" fill="#111"/>
<line x1="654.32" y1="294.66" x2="654.32" y2="300.74" stroke="#4a4a4a" stroke-width="0.8"/>
<line x1="652.12" y1="294.66" x2="656.52" y2="294.66" stroke="#4a4a4a" stroke-width="0.8"/>
<line x1="652.12" y1="300.74" x2="656.52" y2="300.74" stroke="#4a4a4a" stroke-width="0.8"/>
<rect x="652.52" y="295.9" width="3.6" height="3.6" fill="#111"/>
<line x1="682.27" y1="346.43" x2="682.27" y2="352.51" stroke="#4a4a4a" stroke-width="0.8"/>
<line x1="680.07" y1="346.43" x2="684.48" y2="346.43" stroke="#4a4a4a" stroke-width="0.8"/>
<line x1="680.07" y1="352.51" x2="684.48" y2="352.51" stroke="#4a4a4a" stroke-width="0.8"/>
<rect x="680.48" y="347.67" width="3.6" height="3.6" fill="#111"/>
<circle cx="612.4" cy="267.92" r="2" fill="#ec1c8c"/>
<line x1="640.35" y1="273.59" x2="640.35" y2="276.02" stroke="#ee4a9c" stroke-width="0.8"/>
<line x1="638.15" y1="273.59" x2="642.55" y2="273.59" stroke="#ee4a9c" stroke-width="0.8"/>
<line x1="638.15" y1="276.02" x2="642.55" y2="276.02" stroke="#ee4a9c" stroke-width="0.8"/>
<circle cx="640.35" cy="274.81" r="2" fill="#ec1c8c"/>
<line x1="668.3" y1="308.44" x2="668.3" y2="315.13" stroke="#ee4a9c" stroke-width="0.8"/>
<line x1="666.1" y1="308.44" x2="670.5" y2="308.44" stroke="#ee4a9c" stroke-width="0.8"/>
<line x1="666.1" y1="315.13" x2="670.5" y2="315.13" stroke="#ee4a9c" stroke-width="0.8"/>
<circle cx="668.3" cy="311.78" r="2" fill="#ec1c8c"/>
<line x1="696.25" y1="352.71" x2="696.25" y2="354.73" stroke="#ee4a9c" stroke-width="0.8"/>
<line x1="694.05" y1="352.71" x2="698.45" y2="352.71" stroke="#ee4a9c" stroke-width="0.8"/>
<line x1="694.05" y1="354.73" x2="698.45" y2="354.73" stroke="#ee4a9c" stroke-width="0.8"/>
<circle cx="696.25" cy="353.72" r="2" fill="#ec1c8c"/>
</svg></body></html>
